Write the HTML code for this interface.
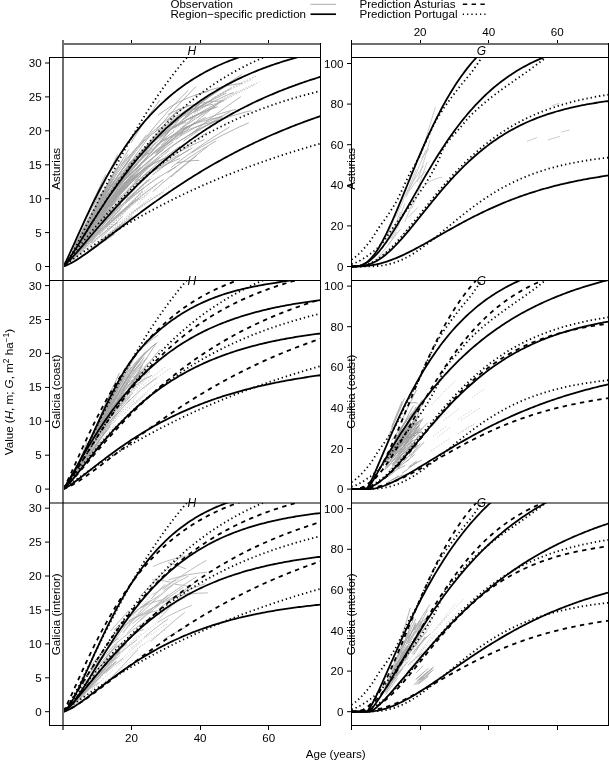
<!DOCTYPE html><html><head><meta charset="utf-8"><style>html,body{margin:0;padding:0;background:#fff;}svg{display:block;filter:grayscale(1);} text{font-family:"Liberation Sans",sans-serif;}</style></head><body>
<svg width="609" height="761" viewBox="0 0 609 761">
<rect width="609" height="761" fill="#fff"/>
<defs>
<clipPath id="cl0"><rect x="49.5" y="57.5" width="271.0" height="223.0"/></clipPath>
<clipPath id="cr0"><rect x="351.5" y="57.5" width="257.0" height="223.0"/></clipPath>
<clipPath id="cl1"><rect x="49.5" y="280.5" width="271.0" height="222.5"/></clipPath>
<clipPath id="cr1"><rect x="351.5" y="280.5" width="257.0" height="222.5"/></clipPath>
<clipPath id="cl2"><rect x="49.5" y="503.0" width="271.0" height="222.5"/></clipPath>
<clipPath id="cr2"><rect x="351.5" y="503.0" width="257.0" height="222.5"/></clipPath>
</defs>
<g clip-path="url(#cl0)"><path d="M183.4,129.3 188.2,126.8 193.0,124.4 197.7,122.2 202.5,120.2 207.3,118.3 212.1,116.5 216.8,114.8 221.6,113.3 226.4,111.9 231.1,110.6 235.9,109.4 M167.0,121.0 172.1,118.1 177.3,115.5 182.4,113.2 187.5,111.1 192.7,109.3 197.8,107.7 202.9,106.4 208.1,105.2 213.2,104.2 M93.9,210.8 98.1,204.3 102.3,198.1 106.5,192.4 110.7,187.1 114.9,182.2 M180.7,129.4 185.3,127.4 190.0,125.5 194.6,123.8 199.2,122.3 203.8,121.0 208.4,119.7 213.0,118.7 217.7,117.7 222.3,116.9 M84.0,239.9 88.9,233.2 93.8,226.6 98.8,220.2 103.7,213.9 108.6,207.9 113.5,202.0 118.5,196.3 123.4,190.9 128.3,185.6 133.2,180.6 138.2,175.7 M99.8,207.0 104.9,199.4 110.1,192.2 115.2,185.3 120.3,178.8 125.5,172.6 130.6,166.7 135.8,161.2 140.9,156.0 146.0,151.1 151.2,146.4 156.3,142.1 M108.8,190.3 113.5,182.8 118.2,175.4 122.9,168.3 127.6,161.3 132.2,154.4 136.9,147.8 141.6,141.3 146.3,135.0 M194.7,95.6 199.5,93.7 204.2,91.9 209.0,90.4 213.8,88.9 218.5,87.7 223.3,86.5 228.1,85.5 232.8,84.7 237.6,83.9 242.4,83.3 M161.0,145.1 165.9,140.9 170.8,136.9 175.7,133.0 180.6,129.2 185.5,125.6 190.4,122.2 195.3,118.9 200.2,115.7 205.1,112.6 210.0,109.6 214.9,106.8 M134.8,181.1 139.7,176.2 144.6,171.5 149.6,166.9 154.5,162.5 159.5,158.2 164.4,154.1 169.3,150.2 M180.4,123.0 185.1,120.4 189.8,118.0 194.5,115.8 199.1,113.7 203.8,111.8 208.5,110.0 213.2,108.3 217.9,106.8 M111.5,194.1 116.4,188.5 121.2,183.1 126.0,178.1 130.8,173.5 135.6,169.2 140.5,165.1 M193.8,112.7 198.7,109.7 203.7,106.8 208.7,104.1 213.6,101.5 218.6,99.0 223.6,96.7 228.5,94.4 233.5,92.3 M180.3,135.9 185.0,133.2 189.7,130.6 194.3,128.1 199.0,125.8 203.7,123.6 208.4,121.5 213.1,119.5 217.7,117.6 222.4,115.9 M74.0,254.5 78.8,248.4 83.6,242.2 88.3,235.8 93.1,229.4 97.9,223.1 102.6,216.8 107.4,210.6 M176.6,163.1 181.1,162.1 185.6,161.4 190.2,160.9 194.7,160.5 199.2,160.4 M82.1,241.0 86.8,234.1 91.5,227.4 96.3,220.8 101.0,214.4 105.8,208.1 110.5,202.1 115.2,196.2 120.0,190.6 124.7,185.1 129.5,179.9 134.2,174.8 M85.1,236.3 89.4,229.9 93.7,223.5 98.1,217.3 102.4,211.1 106.7,205.1 M79.6,241.4 84.2,234.1 88.7,226.8 93.2,219.7 97.8,212.7 102.3,206.0 106.8,199.5 111.4,193.2 115.9,187.1 M135.6,170.8 140.3,165.0 145.0,159.3 149.7,153.7 154.4,148.3 159.1,142.9 163.8,137.6 168.5,132.4 M141.4,171.3 146.1,168.2 150.8,165.3 155.5,162.6 160.2,160.3 164.9,158.1 169.6,156.2 M108.1,206.4 112.8,200.7 117.4,195.2 122.1,189.9 126.7,184.8 131.3,179.9 M87.3,231.9 92.1,224.8 97.0,217.9 101.9,211.3 106.7,204.9 111.6,198.7 116.4,192.8 121.3,187.2 126.2,181.8 131.0,176.7 135.9,171.8 140.8,167.1 M114.2,194.0 118.6,187.1 123.0,180.2 127.4,173.2 131.8,166.3 136.2,159.3 M110.2,195.8 114.6,189.9 118.9,184.2 123.3,178.7 127.7,173.4 132.1,168.2 136.4,163.3 M135.0,166.6 139.9,161.4 144.7,156.5 149.6,151.8 154.5,147.3 159.3,143.0 164.2,138.9 169.1,135.0 173.9,131.2 M118.8,203.9 123.4,198.0 128.0,192.0 132.5,186.0 137.1,180.0 141.7,173.9 M81.5,240.7 86.2,234.1 90.8,227.7 95.4,221.6 100.1,215.8 104.7,210.2 109.4,205.0 M129.6,176.0 134.2,170.7 138.9,165.5 143.5,160.4 148.1,155.5 152.7,150.8 157.3,146.2 161.9,141.7 166.5,137.4 M124.4,180.6 129.2,175.4 134.1,170.4 138.9,165.7 143.8,161.2 148.6,156.9 153.5,152.9 158.4,149.1 163.2,145.6 168.1,142.2 172.9,139.0 177.8,136.0 182.6,133.1 M85.6,231.7 90.3,224.3 95.0,217.1 99.7,210.2 104.4,203.5 109.1,197.1 113.9,191.0 118.6,185.1 123.3,179.5 128.0,174.2 132.7,169.1 137.4,164.3 M144.8,175.4 149.7,171.5 154.7,167.7 159.7,164.2 164.7,160.8 169.6,157.6 174.6,154.6 179.6,151.7 184.6,149.0 189.5,146.4 194.5,144.0 199.5,141.8 204.5,139.6 M156.1,152.9 160.7,148.2 165.4,143.5 170.1,139.0 174.8,134.6 179.5,130.2 184.1,126.0 188.8,121.9 193.5,117.8 198.2,113.8 M88.4,223.8 93.1,215.6 97.9,207.5 102.6,199.7 107.3,192.1 112.0,184.8 116.8,177.6 121.5,170.7 126.2,164.1 131.0,157.6 135.7,151.4 140.4,145.4 145.1,139.6 M109.3,207.2 114.3,201.3 119.3,195.7 124.2,190.2 129.2,185.0 134.2,180.0 139.2,175.1 144.1,170.5 149.1,166.1 M135.6,184.9 140.5,180.8 145.3,176.9 150.1,173.2 155.0,169.7 159.8,166.3 164.7,163.1 169.5,160.1 174.3,157.2 179.2,154.5 M191.6,152.9 196.3,149.9 201.1,147.0 205.9,144.3 210.6,141.6 215.4,139.0 220.2,136.4 224.9,134.0 229.7,131.6 234.5,129.3 239.2,127.0 244.0,124.9 248.7,122.8 M131.0,142.7 135.8,135.1 140.6,127.7 145.4,120.5 150.2,113.5 155.0,106.8 159.8,100.2 M93.7,216.0 98.4,208.5 103.1,201.2 107.8,194.3 112.5,187.6 117.2,181.2 121.9,175.0 126.6,169.1 131.4,163.5 136.1,158.1 140.8,153.0 M163.8,132.7 168.8,128.1 173.8,123.7 178.8,119.5 183.7,115.4 188.7,111.4 193.7,107.6 198.7,103.9 203.7,100.4 208.6,96.9 213.6,93.6 M123.3,167.4 127.7,163.9 132.1,160.9 136.5,158.3 140.9,156.1 145.3,154.4 149.7,153.0 M85.4,231.6 90.4,223.5 95.4,215.5 100.4,207.8 105.4,200.3 110.5,193.1 115.5,186.2 120.5,179.5 125.5,173.1 M182.8,119.5 187.6,115.9 192.4,112.4 197.2,109.0 202.1,105.7 206.9,102.6 211.7,99.5 216.5,96.6 221.3,93.7 226.1,91.0 230.9,88.4 M140.2,144.8 145.0,138.6 149.8,132.6 154.6,126.7 159.4,121.1 164.2,115.6 169.0,110.2 173.8,105.0 178.6,100.0 183.4,95.1 188.2,90.4 M77.8,250.0 82.1,244.3 86.4,238.6 90.8,232.8 95.1,227.0 99.4,221.2 103.8,215.5 M73.3,254.5 78.1,248.2 82.9,241.9 87.7,235.7 92.5,229.8 97.3,224.1 102.2,218.6 107.0,213.5 111.8,208.6 116.6,204.0 121.4,199.7 126.2,195.6 M131.5,181.5 136.6,175.9 141.6,170.4 146.7,165.0 151.7,159.7 156.7,154.6 161.8,149.6 166.8,144.7 171.9,140.0 176.9,135.3 181.9,130.8 187.0,126.4 M152.8,174.9 157.3,171.3 161.9,167.9 166.5,164.5 171.0,161.3 175.6,158.2 180.2,155.3 184.7,152.4 189.3,149.6 M77.7,248.1 82.7,241.3 87.6,234.6 92.5,228.0 97.5,221.6 102.4,215.3 107.3,209.3 M125.6,169.6 130.4,162.7 135.1,156.0 139.8,149.3 144.6,142.9 149.3,136.5 M107.9,205.0 112.6,199.4 117.3,194.1 122.1,189.1 126.8,184.3 131.5,179.8 136.2,175.5 140.9,171.4 145.6,167.6 150.3,164.0 155.1,160.6 159.8,157.4 M145.3,147.8 150.1,141.8 154.9,135.9 159.8,130.1 164.6,124.5 169.5,119.0 174.3,113.7 179.2,108.4 M170.8,177.1 175.1,173.5 179.5,169.8 183.8,166.2 188.2,162.6 192.6,159.0 196.9,155.4 M170.9,167.7 175.8,163.9 180.7,160.2 185.6,156.6 190.4,153.0 195.3,149.5 200.2,146.1 205.1,142.7 210.0,139.5 214.9,136.2 219.8,133.1 224.6,130.0 229.5,127.0 M83.1,244.3 88.2,237.7 93.2,231.0 98.2,224.1 103.2,217.2 108.2,210.3 113.3,203.3 118.3,196.3 M147.4,136.8 152.0,132.4 156.6,128.3 161.2,124.4 165.8,120.7 170.4,117.2 175.0,113.9 179.7,110.8 184.3,107.9 188.9,105.2 M161.3,167.6 165.7,164.5 170.2,161.5 174.6,158.5 179.1,155.7 183.5,153.0 188.0,150.4 192.4,147.9 M138.9,174.0 143.8,169.4 148.7,165.0 153.6,160.8 158.6,156.7 163.5,152.8 168.4,149.1 173.3,145.5 178.3,142.1 183.2,138.9 188.1,135.8 193.0,132.8 198.0,129.9 M77.0,252.4 81.9,246.7 86.7,241.1 91.6,235.4 96.5,229.9 101.4,224.5 106.3,219.2 111.2,214.0 116.1,209.0 121.0,204.2 M118.5,187.1 123.5,181.5 128.4,176.2 133.4,171.2 138.3,166.5 143.3,162.0 148.2,157.8 153.2,153.9 158.1,150.2 163.1,146.7 168.0,143.5 173.0,140.4 177.9,137.6 M92.4,227.3 96.9,221.2 101.5,215.3 106.1,209.6 110.7,204.1 115.2,198.8 119.8,193.7 124.4,188.7 M143.7,151.9 148.1,146.7 152.5,141.6 156.9,136.7 161.2,131.8 165.6,127.1 M78.0,242.8 83.0,234.2 88.0,225.8 93.1,217.6 98.1,209.7 103.2,202.2 108.2,195.0 113.2,188.2 118.3,181.7 123.3,175.5 128.4,169.7 133.4,164.2 138.4,159.0 M74.8,250.4 79.6,243.2 84.4,236.0 89.2,228.9 94.0,222.1 98.8,215.5 103.6,209.2 108.4,203.1 113.2,197.3 118.0,191.8 M183.5,141.1 188.2,137.8 192.8,134.5 197.5,131.3 202.2,128.3 206.9,125.3 211.5,122.4 216.2,119.6 220.9,116.9 225.6,114.2 230.2,111.6 M167.5,172.8 172.4,169.3 177.2,165.8 182.0,162.4 186.9,159.1 191.7,155.9 196.6,152.8 201.4,149.7 206.3,146.8 211.1,143.9 215.9,141.0 M152.0,153.8 156.9,149.6 161.8,145.6 166.7,141.8 171.6,138.1 176.5,134.7 181.4,131.4 186.4,128.2 191.3,125.2 196.2,122.4 201.1,119.7 206.0,117.1 M154.9,132.2 159.4,126.6 164.0,121.2 168.6,115.9 173.2,110.7 177.8,105.6 182.4,100.7 187.0,95.8 191.5,91.1 196.1,86.5 M125.3,183.3 130.1,178.3 134.9,173.5 139.7,168.9 144.5,164.6 149.3,160.5 154.2,156.7 159.0,153.0 163.8,149.5 M88.3,222.3 93.3,213.1 98.3,204.0 103.3,195.1 108.3,186.5 113.3,178.0 118.3,169.8 123.3,161.8 128.2,154.1 M99.2,214.8 104.0,207.9 108.8,201.1 113.5,194.5 118.3,188.0 123.1,181.7 127.8,175.5 132.6,169.4 137.3,163.5 142.1,157.8 146.9,152.2 M76.1,245.6 81.0,236.9 85.9,228.2 90.7,219.6 95.6,211.2 100.5,203.1 105.4,195.1 110.3,187.5 115.2,180.0 120.1,172.9 125.0,166.0 129.9,159.3 M89.1,223.3 94.3,214.8 99.4,206.6 104.5,198.8 109.6,191.3 114.7,184.1 119.9,177.2 125.0,170.6 130.1,164.4 135.2,158.5 140.4,152.9 145.5,147.5 M136.2,157.4 140.9,151.8 145.7,146.5 150.4,141.3 155.1,136.3 159.9,131.5 164.6,126.8 169.4,122.4 174.1,118.1 M111.0,194.8 115.6,188.7 120.2,182.8 124.8,177.2 129.4,171.8 134.0,166.6 138.6,161.6 143.2,156.8 147.8,152.2 152.4,147.8 M121.0,165.7 126.0,159.5 131.0,153.8 136.0,148.6 141.0,143.7 146.0,139.2 151.0,135.0 156.0,131.2 161.0,127.7 166.0,124.5 M80.7,242.3 85.6,235.1 90.5,228.1 95.3,221.3 100.2,214.7 105.1,208.3 109.9,202.1 114.8,196.2 119.7,190.5 124.5,185.1 M179.6,133.8 184.6,131.5 189.6,129.3 194.5,127.4 199.5,125.7 204.5,124.1 209.5,122.7 214.5,121.5 219.5,120.4 M77.5,241.0 82.6,231.0 87.7,221.2 92.9,211.5 98.0,202.1 103.1,192.9 108.3,184.1 113.4,175.5 118.5,167.2 M108.3,201.2 113.3,195.5 118.3,190.3 123.3,185.4 128.3,180.9 133.4,176.8 138.4,173.0 143.4,169.6 148.4,166.5 153.4,163.7 158.4,161.2 163.4,159.0 168.4,157.0 M159.6,137.9 164.6,134.1 169.7,130.5 174.8,127.1 179.9,124.0 184.9,121.0 190.0,118.3 195.1,115.7 200.2,113.3 205.2,111.1 210.3,109.0 215.4,107.1 M102.6,206.3 107.6,199.3 112.6,192.6 117.6,186.1 122.6,179.9 127.6,174.0 132.6,168.3 137.5,163.0 142.5,157.8 147.5,152.9 M119.7,175.2 124.5,169.4 129.2,163.9 133.9,158.7 138.7,153.9 143.4,149.3 148.1,144.9 152.9,140.9 157.6,137.1 162.3,133.5 167.1,130.2 171.8,127.0 176.5,124.1 M194.1,110.4 198.7,107.6 203.3,104.9 207.9,102.4 212.5,99.9 217.1,97.6 221.7,95.3 226.3,93.2 M100.1,213.9 104.4,208.0 108.7,202.2 113.0,196.6 117.3,191.2 121.6,186.0 125.9,180.9 M123.7,173.3 128.8,166.8 133.9,160.5 139.0,154.5 144.1,148.8 149.2,143.2 154.3,138.0 159.4,132.9 164.5,128.1 169.6,123.4 174.7,119.0 179.9,114.7 185.0,110.6 M189.7,119.3 194.2,116.4 198.6,113.7 203.0,111.1 207.5,108.7 211.9,106.3 216.4,104.0 220.8,101.8 M174.6,127.9 179.7,122.8 184.7,117.8 189.8,113.0 194.8,108.2 199.9,103.5 204.9,98.9 210.0,94.4 M102.9,193.6 107.2,185.8 111.5,178.2 115.8,170.8 120.1,163.5 124.4,156.4 128.7,149.5 M125.3,203.1 130.4,198.7 135.5,194.5 140.6,190.4 145.7,186.5 150.8,182.8 155.8,179.3 160.9,175.9 166.0,172.7 171.1,169.7 176.2,166.8 M189.9,134.9 195.0,130.8 200.1,126.7 205.1,122.7 210.2,118.7 215.3,114.9 220.4,111.1 225.5,107.4 230.6,103.8 235.7,100.2 240.8,96.7 M155.2,154.4 160.2,149.9 165.2,145.5 170.2,141.3 175.1,137.2 180.1,133.3 185.1,129.5 190.1,125.8 195.0,122.2 M141.2,158.1 146.0,153.0 150.9,148.1 155.7,143.4 160.5,138.9 165.3,134.5 170.1,130.3 174.9,126.3 179.7,122.4 184.5,118.7 189.3,115.1 194.1,111.7 199.0,108.4 M150.3,153.9 155.1,148.0 159.9,142.2 164.7,136.5 169.5,130.9 174.3,125.4 179.1,119.9 M141.0,179.3 145.8,175.9 150.7,172.8 155.6,169.9 160.5,167.2 165.3,164.8 170.2,162.5 175.1,160.5 179.9,158.6 M163.8,140.9 168.3,137.9 172.8,135.1 177.3,132.4 181.7,129.9 186.2,127.5 190.7,125.3 195.2,123.2 M105.1,214.0 110.1,208.2 115.2,202.6 120.2,197.3 125.3,192.2 130.4,187.3 135.4,182.7 140.5,178.3 145.6,174.1 150.6,170.2 M81.9,248.7 86.6,243.7 91.4,238.8 96.2,234.0 101.0,229.4 105.7,224.9 110.5,220.6 115.3,216.5 120.1,212.6 124.8,208.8 129.6,205.2 134.4,201.8 139.2,198.5 M160.0,135.8 164.3,133.0 168.7,130.4 173.0,128.1 177.4,125.9 181.7,123.9 186.1,122.1 M108.1,206.7 113.2,200.7 118.4,195.0 123.5,189.5 128.6,184.4 133.8,179.5 138.9,174.8 144.1,170.5 149.2,166.3 154.3,162.4 M112.1,186.9 117.2,180.1 122.4,173.7 127.5,167.7 132.6,162.0 137.7,156.7 142.9,151.7 148.0,147.0 153.1,142.7 158.2,138.6 163.4,134.8 M152.6,191.7 157.6,187.4 162.6,183.1 167.6,178.9 172.5,174.7 177.5,170.6 182.5,166.5 187.5,162.5 192.4,158.5 197.4,154.5 202.4,150.6 207.4,146.7 M125.8,200.2 130.7,195.7 135.5,191.3 140.4,187.1 145.3,183.1 150.2,179.2 M106.0,224.1 110.6,219.1 115.2,214.1 119.8,209.2 124.4,204.2 129.0,199.3 133.6,194.4 138.2,189.6 142.8,184.8 147.4,180.1 M88.6,224.3 93.6,215.1 98.6,206.0 103.5,196.9 108.5,187.8 113.5,178.8 M75.1,251.2 80.0,244.1 85.0,237.1 89.9,230.2 94.9,223.5 99.8,217.0 104.8,210.7 109.7,204.7 114.7,199.0 119.6,193.4 124.6,188.2 129.5,183.1 134.5,178.3 M77.1,250.3 82.2,243.9 87.4,237.6 92.5,231.6 97.6,225.8 102.7,220.4 107.8,215.2 113.0,210.4 118.1,205.8 M99.0,202.4 103.7,194.5 108.4,186.9 113.2,179.5 117.9,172.5 122.7,165.7 127.4,159.3 132.2,153.1 136.9,147.2 M161.3,153.9 166.5,150.0 171.6,146.3 176.7,142.8 181.8,139.5 187.0,136.3 192.1,133.2 197.2,130.3 202.3,127.6 207.4,124.9 212.6,122.4 217.7,120.0 222.8,117.8 M142.0,151.7 147.1,147.0 152.2,142.6 157.4,138.4 162.5,134.6 167.6,131.0 172.7,127.7 177.8,124.6 182.9,121.8 188.0,119.1 193.1,116.7 198.3,114.4 203.4,112.3 M92.7,229.1 97.3,222.5 102.0,215.9 106.6,209.3 111.2,202.7 115.9,196.1 M169.3,126.0 174.1,122.4 178.8,119.1 183.5,115.8 188.3,112.8 193.0,109.9 197.7,107.2 202.5,104.6 207.2,102.1 211.9,99.8 M167.9,114.5 173.0,112.0 178.1,109.7 183.2,107.8 188.3,106.1 193.4,104.7 198.5,103.6 203.6,102.7 208.7,101.9 213.8,101.4 218.9,101.1 224.0,100.9 M194.7,107.4 199.8,103.7 204.8,100.1 209.9,96.6 214.9,93.3 220.0,90.0 225.1,86.9 230.1,83.9 235.2,80.9 240.2,78.1 245.3,75.3 M176.7,139.1 181.3,134.9 186.0,130.7 190.6,126.5 195.3,122.5 199.9,118.5 204.6,114.6 209.2,110.8 213.9,107.0 218.5,103.3 223.2,99.6 M103.5,207.4 108.0,202.1 112.5,197.2 117.0,192.6 121.5,188.4 126.1,184.5 130.6,180.9 135.1,177.6 139.6,174.7 M156.2,145.0 160.7,142.2 165.2,139.6 169.7,137.2 174.2,135.0 178.7,133.1 183.2,131.3 M82.0,238.0 86.7,230.8 91.4,223.8 96.1,217.2 100.8,210.8 105.5,204.7 110.2,199.0 114.9,193.6 119.6,188.5 124.3,183.7 129.0,179.2 M158.2,115.0 163.2,111.4 168.2,108.1 173.3,105.1 178.3,102.4 183.3,100.0 188.4,97.8 193.4,95.8 198.4,94.1 203.5,92.6 208.5,91.4 M89.0,228.9 93.2,222.2 97.4,215.5 101.6,208.9 105.9,202.3 110.1,195.7 M114.0,185.8 119.2,179.2 124.3,173.0 129.4,167.1 134.6,161.6 139.7,156.4 144.8,151.5 150.0,146.9 M118.0,193.2 123.1,187.4 128.1,181.9 133.1,176.6 138.1,171.6 143.1,166.7 148.1,162.1 153.2,157.6 158.2,153.4 163.2,149.4 168.2,145.5 173.2,141.8 M89.0,230.3 94.1,223.3 99.1,216.5 104.2,210.0 109.3,203.8 114.3,197.9 119.4,192.4 124.5,187.1 129.5,182.1 134.6,177.3 139.7,172.9 M99.2,211.9 103.7,206.6 108.2,201.7 112.7,197.2 117.2,193.2 121.7,189.5 126.2,186.3 130.7,183.4 M195.5,130.6 200.6,128.1 205.7,125.8 210.7,123.7 215.8,121.6 220.8,119.7 225.9,118.0 231.0,116.3 236.0,114.7 241.1,113.3 246.1,111.9 251.2,110.7 M182.4,149.3 187.4,145.7 192.3,142.3 197.3,139.0 202.3,135.7 207.2,132.6 M76.7,249.1 81.7,241.9 86.7,234.8 91.7,227.9 96.7,221.0 101.7,214.4 106.7,208.0 111.8,201.8 116.8,195.8 121.8,190.1 126.8,184.5 131.8,179.2 136.8,174.2 M105.8,227.3 110.6,222.8 115.4,218.3 120.2,214.0 125.0,209.7 129.8,205.6 134.6,201.5 139.5,197.6 144.3,193.8 149.1,190.0 153.9,186.4 158.7,182.9 163.5,179.5 M119.2,200.1 124.2,194.7 129.3,189.5 134.3,184.4 139.4,179.6 144.4,174.9 149.5,170.4 154.5,166.0 159.6,161.8 164.6,157.7 169.7,153.8 174.7,150.1 179.8,146.4 M184.6,116.8 189.3,112.7 194.1,108.7 198.8,104.9 203.6,101.2 208.4,97.5 213.1,94.0 217.9,90.5 222.6,87.2 227.4,83.9 232.1,80.7 236.9,77.5 241.7,74.5" fill="none" stroke="#a0a0a0" stroke-width="0.8"/></g>
<g clip-path="url(#cl0)"><path d="M103.1,207.6 107.9,201.4 112.8,195.5 117.7,190.0 122.6,184.8 127.5,179.9 132.4,175.3 137.3,171.0 142.2,167.0 M75.7,260.1 80.4,256.8 85.2,253.4 89.9,249.9 94.7,246.2 99.5,242.5 104.2,238.7 109.0,234.9 113.7,231.1 118.5,227.3 M85.3,254.1 90.4,250.4 95.5,246.5 100.6,242.5 105.8,238.4 110.9,234.2 116.0,230.0 121.1,225.7 M92.6,233.0 97.3,227.5 102.0,222.1 106.8,216.8 111.5,211.7 116.3,206.8 121.0,202.0 125.8,197.4 130.5,192.9 135.2,188.6 M73.2,254.1 77.8,247.5 82.3,240.7 86.9,233.7 91.5,226.6 96.0,219.5 100.6,212.4 M80.9,249.2 85.8,243.7 90.7,238.2 95.6,232.6 100.5,227.2 105.4,221.7 110.3,216.4 115.2,211.1 M67.5,261.1 72.3,254.4 77.1,247.4 81.8,240.4 86.6,233.6 91.4,227.1 96.2,220.9 100.9,215.0 M101.0,240.8 105.8,236.9 110.6,232.9 115.4,228.9 120.2,224.9 M75.6,253.3 80.2,247.5 84.8,241.6 89.4,235.5 94.0,229.4 98.6,223.3 103.2,217.1 107.8,211.0 M93.9,224.6 98.4,218.4 103.0,212.3 107.6,206.5 112.2,200.8 116.8,195.4 121.4,190.1 126.0,185.0 130.6,180.2 M69.8,262.2 74.8,258.0 79.9,253.3 84.9,248.3 90.0,243.1 95.1,237.7 100.1,232.3 105.2,226.7 110.2,221.0 M73.2,249.7 77.6,241.6 82.1,233.4 86.5,225.4 90.9,217.6 95.3,210.1 M100.0,214.9 104.4,209.1 108.8,203.6 113.2,198.2 117.6,193.1 122.0,188.1 126.4,183.4 130.8,178.9 M73.5,252.8 78.0,246.1 82.5,239.3 87.1,232.6 91.6,225.9 96.1,219.4 M72.8,253.9 77.6,246.8 82.4,239.8 87.3,232.9 92.1,226.3 96.9,219.8 101.7,213.7 106.6,207.8 111.4,202.2 116.2,196.9 M72.0,251.1 76.6,242.3 81.2,233.5 85.8,224.8 90.4,216.3 94.9,208.1 99.5,200.2 104.1,192.5 108.7,185.2 113.3,178.2 M88.2,237.4 92.9,231.7 97.6,226.3 102.3,220.9 107.0,215.8 111.6,210.8 116.3,206.1 M84.4,232.0 89.1,224.5 93.8,217.3 98.6,210.5 103.3,204.0 108.0,198.0 M73.3,251.6 77.9,244.0 82.4,236.3 87.0,228.6 91.6,220.9 96.1,213.4 M90.9,243.2 95.4,239.4 99.9,235.7 104.4,232.2 108.8,228.8 113.3,225.6 117.8,222.6 M90.5,229.3 95.5,222.1 100.4,215.1 105.4,208.2 110.4,201.4 115.4,194.7 120.3,188.3 125.3,182.0 130.3,175.8 M79.6,258.0 84.3,254.8 89.0,251.4 93.7,248.0 98.4,244.4 103.1,240.8 M97.0,231.6 101.7,226.4 106.3,221.3 111.0,216.3 115.7,211.4 120.3,206.5 125.0,201.8 129.6,197.1 134.3,192.5 M69.0,258.0 73.8,250.3 78.5,242.3 83.3,234.5 88.1,226.8 92.8,219.5 97.6,212.4 102.4,205.7 M97.4,244.6 102.4,240.6 107.4,236.6 112.4,232.5 117.4,228.4 122.4,224.3 127.4,220.1 132.4,216.0 M71.1,263.1 76.0,260.3 80.8,257.3 85.7,254.1 90.5,250.8 95.4,247.5 100.2,244.1 105.0,240.8 109.9,237.5 114.7,234.2 M91.9,226.6 96.4,220.5 100.8,214.5 105.3,208.7 109.8,203.1 114.3,197.8 118.8,192.6 M103.6,210.1 108.6,203.4 113.5,197.0 118.5,190.7 123.5,184.6 128.5,178.8 133.5,173.1 138.4,167.6 143.4,162.3 148.4,157.2 M103.9,221.7 108.9,216.6 114.0,211.8 119.0,207.2 124.0,202.9 129.1,198.7 134.1,194.9 139.2,191.2 144.2,187.8 M100.8,237.7 105.2,233.5 109.6,229.3 114.0,225.0 118.4,220.7 122.7,216.3 M100.1,197.9 104.5,190.0 108.9,182.4 113.4,174.9 117.8,167.7 122.2,160.7 M77.0,237.6 82.1,226.4 87.2,215.4 92.4,204.9 97.5,194.8 102.6,185.3 107.7,176.3 112.9,167.7 118.0,159.7 M70.8,255.0 75.3,247.3 79.9,239.6 84.5,231.9 89.1,224.5 93.6,217.3 98.2,210.4 102.8,203.8 M83.3,236.9 88.0,230.2 92.6,223.8 97.3,217.9 102.0,212.3 106.6,207.1 111.3,202.3 M87.8,229.6 92.6,222.8 97.4,216.3 102.2,210.1 107.0,204.3 111.8,198.9 M75.0,256.1 80.1,250.8 85.2,245.4 90.4,239.9 95.5,234.6 100.7,229.2 105.8,224.0 111.0,218.9 116.1,213.9 121.2,209.1 M98.1,224.5 103.0,217.7 107.9,210.8 112.8,203.9 117.7,196.9 M93.8,214.8 98.9,206.8 103.9,199.3 108.9,192.1 113.9,185.3 119.0,178.8 124.0,172.7 129.0,167.0 134.1,161.6 M96.3,205.5 101.4,195.9 106.4,186.3 111.4,177.0 116.4,167.7 M77.4,242.5 82.3,233.7 87.1,225.1 91.9,216.7 96.8,208.6 101.6,200.7 106.5,193.1 111.3,185.9 116.1,178.9 121.0,172.3 M93.6,205.7 98.4,195.3 103.2,185.0 108.0,174.7 112.8,164.5 117.6,154.4 M74.5,247.4 79.4,238.8 84.3,230.4 89.2,222.5 94.1,215.1 M94.5,225.3 99.3,219.1 104.1,213.1 108.9,207.4 113.7,201.8 118.5,196.5 123.3,191.4 128.1,186.5 M66.6,262.0 71.0,255.5 75.4,248.7 79.8,242.1 84.1,235.7 M90.4,241.7 95.5,236.7 100.5,231.7 105.6,226.8 110.7,222.0 115.8,217.3 120.9,212.7 126.0,208.2 131.1,203.9 136.1,199.6 M81.9,243.6 86.2,237.9 90.5,232.4 94.7,226.9 99.0,221.6 103.3,216.4 M69.2,258.8 73.6,252.2 78.0,245.2 82.5,238.2 86.9,231.1 M100.0,212.3 104.8,205.3 109.5,198.5 114.3,191.9 119.1,185.4 123.8,179.1 128.6,173.0 133.3,167.0 138.1,161.2 142.9,155.6 147.6,150.1 M97.7,203.7 102.0,197.4 106.4,191.5 110.8,186.1 115.2,181.1 119.5,176.6 M80.4,229.8 85.5,218.3 90.5,207.0 95.6,195.9 100.6,185.0 105.7,174.4 M78.7,243.2 83.6,235.2 88.5,227.4 93.4,219.7 98.3,212.3 103.2,205.1 108.1,198.1 113.0,191.4 117.9,185.0 122.8,178.8 M89.7,233.0 94.0,227.5 98.3,222.3 102.5,217.1 106.8,212.2 111.1,207.4 M91.1,216.5 95.6,209.8 100.0,203.5 104.4,197.8 108.8,192.6 113.2,187.8 M98.1,224.0 103.0,218.3 108.0,212.8 112.9,207.6 117.9,202.6 122.8,197.9 127.8,193.4 M93.8,221.5 98.6,214.8 103.5,208.3 108.3,202.2 113.1,196.3 117.9,190.8 122.8,185.5 127.6,180.5 132.4,175.8 M96.3,217.9 101.0,211.2 105.7,204.6 110.4,198.3 115.2,192.1 119.9,186.2 124.6,180.5 129.3,175.0 134.0,169.7 M72.9,258.5 77.9,253.5 83.0,248.3 88.0,243.1 93.1,237.9 98.1,232.7 103.2,227.5 M74.2,243.6 79.0,233.4 83.8,223.6 88.6,214.4 93.4,205.8 98.2,197.8 103.0,190.5 M100.2,222.2 105.2,216.7 110.1,211.4 115.0,206.4 120.0,201.7 124.9,197.2 M103.7,220.2 108.2,215.0 112.8,210.0 117.4,205.1 122.0,200.4 126.6,195.8 131.1,191.4 135.7,187.0 140.3,182.8 M81.2,242.6 86.0,235.5 90.9,228.3 95.8,221.2 100.6,214.2 105.5,207.3 110.3,200.5 115.2,193.8 120.1,187.3 M99.1,234.7 104.0,229.8 108.8,224.9 113.6,220.0 118.5,215.1 123.3,210.2 128.2,205.4 133.0,200.6 137.8,195.8 142.7,191.0 M88.8,220.7 93.4,212.8 97.9,205.1 102.5,197.8 107.1,190.7 111.7,184.0 116.3,177.6 120.8,171.5 125.4,165.8 M82.4,239.3 87.3,232.1 92.2,225.0 97.2,218.2 102.1,211.6 107.0,205.4 112.0,199.4 116.9,193.7 M74.8,244.9 79.5,235.6 84.2,226.4 88.9,217.3 93.6,208.6 98.3,200.1 102.9,191.9 107.6,184.1 112.3,176.6 M96.5,221.2 101.5,214.7 106.6,208.4 111.7,202.4 116.8,196.7 121.9,191.3 127.0,186.2 132.1,181.3 137.1,176.7 M101.5,216.0 106.3,210.1 111.1,204.3 115.9,198.8 120.6,193.4 125.4,188.3 M70.1,260.7 75.2,255.5 80.3,250.0 85.4,244.4 90.5,238.7 95.7,233.1 100.8,227.4 105.9,221.9 M72.9,258.3 77.2,253.8 81.5,249.1 85.8,244.2 90.1,239.2 M74.6,253.6 79.3,247.6 84.0,241.4 88.7,235.3 93.4,229.2 98.1,223.2 102.8,217.4 107.4,211.6 112.1,205.9 116.8,200.4 121.5,195.1" fill="none" stroke="#a4a4a4" stroke-width="0.8"/></g>
<g clip-path="url(#cl0)"><path d="M69.3,261.5 73.8,256.9 78.3,251.9 82.8,246.6 87.3,241.2 91.8,235.7 96.2,230.1 100.7,224.5 M136.9,210.7 141.5,207.1 146.1,203.6 150.7,200.1 155.3,196.6 159.9,193.3 164.5,189.9 169.1,186.7 173.7,183.4 M67.0,264.1 71.9,259.9 76.9,255.2 81.8,250.2 86.8,245.0 M108.7,227.2 113.6,222.1 118.4,216.9 123.3,211.7 128.2,206.4 133.1,201.1 138.0,195.8 142.9,190.4 M89.3,238.6 94.0,233.0 98.6,227.4 103.3,221.8 107.9,216.2 112.6,210.7 117.2,205.2 121.9,199.9 126.5,194.5 M98.5,242.2 103.4,238.1 108.3,233.9 113.2,229.8 118.1,225.6 123.0,221.4 127.9,217.2 132.7,212.9 M87.9,250.9 92.5,247.3 97.2,243.7 101.8,240.1 106.5,236.6 111.1,233.0 115.8,229.5 120.4,226.0 125.0,222.6 M131.9,181.7 136.6,177.0 141.4,172.5 146.1,168.1 150.8,164.0 M99.9,240.2 104.5,236.7 109.1,233.2 113.6,229.7 118.2,226.4 122.8,223.1 M123.4,209.6 128.1,205.7 132.7,201.9 137.4,198.3 142.0,194.8 146.7,191.5 151.3,188.3 155.9,185.2 M132.5,212.7 136.9,209.4 141.3,206.3 145.8,203.2 150.2,200.3 154.6,197.4 159.1,194.6 163.5,191.9 M121.2,214.1 126.0,209.9 130.9,205.8 135.8,201.8 140.7,197.9 M117.9,228.6 122.2,225.5 126.5,222.6 130.9,219.7 135.2,216.8 M78.0,253.3 82.7,248.5 87.4,243.7 92.2,238.9 96.9,234.3 101.6,229.7 M127.3,198.9 131.7,194.9 136.1,191.0 140.5,187.4 144.9,183.8 149.3,180.4 153.7,177.2 M104.5,220.0 109.5,213.5 114.6,207.0 119.7,200.5 124.7,194.0 129.8,187.5 134.9,181.0 139.9,174.6 145.0,168.2 M109.0,224.8 113.9,220.3 118.9,216.0 123.8,211.9 128.7,207.8 133.7,203.9 138.6,200.2 143.5,196.6 148.4,193.2 M66.9,263.8 71.5,259.7 76.1,255.0 80.6,250.0 85.2,244.8 89.7,239.5 94.3,234.1 M73.7,259.0 78.3,255.1 82.9,251.2 87.5,247.2 92.2,243.3 96.8,239.5 M127.0,198.1 131.5,191.0 136.1,183.7 140.7,176.3 145.3,168.7 M74.7,258.8 79.6,254.7 84.5,250.5 89.4,246.1 94.3,241.8 99.2,237.4 104.1,233.0 109.0,228.7 113.9,224.5 M137.9,189.9 142.7,185.0 147.5,180.2 152.3,175.5 157.1,170.8 161.9,166.3 166.6,161.8 171.4,157.4 M88.3,238.0 92.9,232.1 97.5,226.2 102.1,220.3 106.6,214.5 M129.1,214.8 133.9,211.4 138.6,208.0 143.4,204.8 148.2,201.7 152.9,198.7 157.7,195.8 162.5,193.0 M71.6,260.4 76.2,256.3 80.8,251.9 85.4,247.4 90.0,242.7 94.6,238.0 99.2,233.3 103.8,228.6 108.3,223.9 M97.4,232.2 102.0,228.1 106.5,224.2 111.1,220.7 115.6,217.4 M137.5,204.5 142.5,199.2 147.5,193.8 152.5,188.4 157.5,182.9 M94.4,241.8 99.0,237.4 103.6,233.0 108.2,228.6 112.7,224.1 117.3,219.6 121.9,215.1 126.5,210.6 131.1,206.1 M107.0,229.0 112.0,224.0 117.0,219.0 122.0,213.9 126.9,208.8 131.9,203.7 M100.2,222.5 105.1,215.6 110.0,208.7 115.0,201.8 119.9,194.8 124.8,187.9 129.8,180.9 134.7,174.0 M112.6,228.2 117.5,224.1 122.3,220.1 127.2,216.2 132.0,212.3 136.8,208.4 141.7,204.7 146.5,201.0 151.4,197.4 M86.2,242.1 90.5,237.3 94.9,232.6 99.3,228.2 103.7,223.9 108.0,219.9 112.4,216.1 M86.3,244.7 91.2,239.2 96.1,233.6 101.0,228.0 106.0,222.3 110.9,216.6 115.8,210.9 M94.1,236.7 99.3,231.6 104.4,226.7 109.5,221.9 114.7,217.3 119.8,212.9 125.0,208.7 130.1,204.7 M108.7,223.6 113.8,218.6 118.9,213.7 124.0,208.9 129.1,204.3 134.3,199.8 139.4,195.4 144.5,191.1 149.6,186.9 M87.0,252.8 91.6,249.4 96.1,245.9 100.6,242.4 105.1,238.7 109.7,235.1 M119.5,225.5 124.2,221.3 128.8,217.2 133.5,212.9 138.1,208.7 142.8,204.5 M129.2,200.5 134.3,196.0 139.4,191.6 144.5,187.3 149.6,183.2 154.7,179.3 159.8,175.5 M75.0,256.9 79.7,252.4 84.3,247.7 88.9,243.0 93.5,238.2 98.1,233.5 102.8,228.8 107.4,224.1 M110.3,217.9 115.1,212.8 120.0,207.8 124.9,203.0 129.8,198.3 134.6,193.7 139.5,189.2 144.4,184.8" fill="none" stroke="#b0b0b0" stroke-width="0.8" stroke-dasharray="1.5 1.5"/></g>
<g clip-path="url(#cl0)"><path d="M188.8,123.3 193.5,119.9 198.2,116.5 203.0,113.3 207.7,110.2 212.4,107.2 217.2,104.3 221.9,101.6 226.6,98.9 M182.7,114.6 187.7,110.6 192.8,106.8 197.8,103.2 202.9,99.7 207.9,96.4 213.0,93.2 218.0,90.2 223.1,87.4 228.1,84.6 233.2,82.0 238.2,79.5 243.3,77.2 248.4,74.9 M199.8,115.5 204.9,112.1 209.9,108.8 215.0,105.7 220.0,102.7 225.1,99.8 230.2,97.1 235.2,94.4 240.3,91.9 245.3,89.4 250.4,87.1 255.4,84.8 M212.0,98.6 217.0,95.6 222.1,92.7 227.1,89.9 232.1,87.2 237.2,84.7 242.2,82.3 247.2,80.0 252.3,77.7 257.3,75.6 M195.1,111.4 200.2,107.8 205.2,104.4 210.3,101.1 215.4,98.0 220.5,95.0 225.5,92.2 230.6,89.5 235.7,86.9 240.8,84.4 245.9,82.0 250.9,79.7 M208.5,108.5 213.6,105.3 218.7,102.3 223.8,99.3 228.9,96.5 234.0,93.8 239.1,91.2 244.2,88.7 249.3,86.3 254.5,84.1 259.6,81.9 M180.1,128.3 184.8,124.5 189.6,120.9 194.3,117.5 199.0,114.2 203.8,111.0 208.5,107.9 213.2,104.9 218.0,102.0 222.7,99.3 227.4,96.7 232.2,94.1 236.9,91.7 M173.2,130.8 178.0,126.7 182.9,122.8 187.7,119.1 192.6,115.4 197.4,112.0 202.3,108.6 207.1,105.4 212.0,102.4" fill="none" stroke="#b0b0b0" stroke-width="0.8" stroke-dasharray="1.5 1.5"/></g>
<g clip-path="url(#cl1)"><path d="M123.5,388.3 127.7,381.7 132.0,375.4 136.3,369.5 140.5,363.9 M120.7,391.9 125.4,384.2 130.1,376.9 134.8,370.0 139.5,363.6 144.2,357.4 M72.3,479.4 76.9,473.6 81.4,467.7 86.0,461.8 90.6,456.0 95.2,450.2 99.8,444.7 104.4,439.3 M127.5,389.3 132.3,383.5 137.1,378.2 141.9,373.2 M127.7,392.1 132.4,385.3 137.0,378.7 141.7,372.4 146.3,366.3 151.0,360.4 155.6,354.7 160.3,349.1 M91.7,442.8 96.7,434.4 101.6,426.2 106.6,418.4 111.5,411.0 M131.9,388.1 137.0,384.1 142.0,380.7 147.1,377.8 152.2,375.3 M125.0,392.7 130.1,387.4 135.1,382.6 140.1,378.4 145.1,374.7 150.1,371.4 M78.5,465.7 82.8,458.2 87.1,450.5 91.4,442.8 95.7,435.0 M111.6,406.4 116.3,397.6 121.0,389.1 125.8,381.0 130.5,373.4 135.3,366.2 140.0,359.3 144.7,352.8 M78.8,466.0 83.6,457.5 88.4,448.6 93.2,439.4 97.9,430.2 102.7,420.9 107.5,411.8 112.3,402.9 M110.1,401.2 115.2,391.2 120.3,381.8 125.5,373.1 130.6,365.2 M65.7,486.2 70.5,479.9 75.2,472.9 79.9,465.5 84.7,457.8 89.4,450.1 94.2,442.4 M127.2,372.9 132.3,366.3 137.3,360.5 142.3,355.2 147.3,350.6 152.4,346.3 157.4,342.5 M85.7,452.6 90.7,443.3 95.7,433.7 100.7,424.3 105.7,415.0 110.7,406.0 115.7,397.6 M68.8,481.2 73.3,473.9 77.7,465.9 82.2,457.4 86.7,448.5 91.1,439.4 95.6,430.0 100.1,420.7 M124.6,397.8 129.0,389.6 133.5,381.6 138.0,373.6 142.4,365.7 M110.7,411.5 115.7,403.5 120.8,395.9 125.9,389.0 130.9,382.6 136.0,376.7 141.0,371.4 M104.9,425.6 109.5,419.0 114.2,412.8 118.9,407.1 123.5,401.8 128.2,397.1 132.9,392.9 M64.5,487.7 69.1,481.0 73.8,473.5 78.5,465.1 83.2,456.2 87.8,446.7 92.5,436.9 97.2,426.9 M104.9,419.5 109.2,411.2 113.4,403.1 117.7,395.2 122.0,387.5 126.3,380.2 M93.1,433.4 97.5,423.3 101.8,413.1 106.2,402.8 110.6,392.5 115.0,382.6 119.4,373.0 M74.4,471.4 79.4,462.0 84.3,452.1 89.3,441.8 94.3,431.3 M90.9,452.0 95.7,445.2 100.6,438.7 105.4,432.5 110.2,426.5 M123.1,384.2 127.7,377.0 132.4,370.2 137.1,364.0 141.7,358.1 M69.5,480.2 74.3,472.1 79.1,463.0 83.9,453.3 88.7,443.0 93.5,432.2 98.3,421.2 103.1,410.0 M70.1,481.1 75.0,474.5 79.9,467.5 84.7,460.4 89.6,453.3 94.4,446.2 99.3,439.3 104.2,432.7 M104.2,416.6 108.6,408.7 112.9,401.1 117.2,394.0 121.5,387.3 125.8,381.2 130.2,375.5 M76.7,470.3 81.4,462.5 86.2,454.4 91.0,446.2 95.7,437.9 100.5,429.7 M86.1,454.2 91.2,445.6 96.3,437.1 101.5,428.9 106.6,421.1 111.7,413.7 116.9,407.0 M98.0,426.0 102.7,416.4 107.4,407.1 112.2,398.0 116.9,389.4 121.6,381.3 126.3,373.9 131.0,367.2 M72.2,476.8 77.2,468.4 82.2,459.1 87.2,449.2 M69.4,480.9 73.3,474.9 77.2,468.3 81.1,461.4 85.0,454.2 M81.8,457.0 86.3,447.7 90.8,438.2 95.4,428.5 99.9,418.7 104.4,409.0 108.9,399.6 113.4,390.5 M98.9,435.6 104.0,428.7 109.1,422.3 114.2,416.6 119.3,411.5 M73.1,475.4 78.0,467.4 82.8,459.0 87.7,450.3 92.5,441.4 97.3,432.4 102.2,423.5 107.0,414.8 M114.7,395.5 119.2,387.6 123.8,380.2 128.3,373.5 132.9,367.2 137.4,361.5 142.0,356.2 146.5,351.3 M65.1,487.2 69.5,481.9 73.9,475.9 78.3,469.6 82.7,463.1 87.1,456.5 91.5,449.9 M72.4,476.2 77.5,467.6 82.7,458.4 87.8,448.7 92.9,438.7 98.0,428.6 M90.6,438.8 95.0,429.4 99.4,420.2 103.8,411.0 108.2,402.1 112.6,393.6 117.1,385.6 M89.5,458.5 93.9,453.1 98.3,448.0 102.8,443.0 107.2,438.2 111.6,433.6 M80.9,461.6 85.3,453.6 89.8,445.5 94.2,437.3 98.6,429.2 103.1,421.2 107.5,413.5 112.0,406.0 M66.3,485.6 71.2,479.3 76.2,472.5 81.1,465.6 86.0,458.8 M64.9,487.6 69.6,482.2 74.4,476.1 79.1,469.8 83.9,463.4 88.6,457.0 93.4,450.8 98.2,444.8 M69.4,481.3 74.4,474.0 79.5,466.1 84.5,458.1 89.6,449.9 M83.3,454.1 87.9,444.3 92.6,434.3 97.3,424.2 102.0,414.1 106.6,404.1 111.3,394.4 116.0,385.3 M84.9,452.6 89.8,443.3 94.6,433.9 99.5,424.6 104.4,415.6 109.3,407.0 114.1,398.9 M69.1,480.4 73.6,472.4 78.1,463.1 82.5,453.0 87.0,441.9 M64.0,488.2 68.4,481.9 72.8,474.9 77.2,467.1 81.6,459.0 86.0,450.3 90.4,441.5 M97.6,423.6 102.1,414.9 106.5,406.7 110.9,398.9 115.4,391.7 119.8,385.3 M107.0,415.6 111.3,409.3 115.6,403.5 119.9,398.2 124.3,393.6 M64.7,487.6 69.6,482.1 74.4,476.0 79.2,469.6 M81.3,467.0 86.2,460.0 91.1,452.8 96.0,445.6 100.9,438.4 105.8,431.2 110.7,424.1 M68.7,482.7 73.4,476.4 78.1,469.8 82.8,463.2 87.4,456.5 92.1,450.1 M67.6,483.8 72.3,476.9 77.0,469.4 81.7,461.3 86.4,452.9 91.0,444.2 95.7,435.3 M70.6,480.1 74.7,474.0 78.9,467.5 83.0,460.7 87.2,453.6 91.4,446.3 M106.9,416.4 111.3,408.8 115.6,401.5 120.0,394.6 124.3,388.1 128.7,381.9 M91.6,440.6 96.3,431.2 101.1,421.7 105.8,412.3 110.5,403.1 115.3,394.3 120.0,385.9 124.7,378.2 M68.8,482.5 73.6,475.8 78.5,468.7 83.3,461.3 88.2,453.9 M121.7,385.3 126.0,379.5 130.3,374.2 134.6,369.5 138.9,365.3 143.1,361.5 147.4,358.0 M102.2,434.2 106.9,427.6 111.6,421.2 116.3,415.2 121.0,409.4 125.7,404.1 130.4,399.1 M65.4,486.1 70.5,478.2 75.5,469.4 80.6,459.9 85.6,449.9 90.7,439.6 95.7,429.2 M94.2,432.2 98.9,422.2 103.6,412.1 108.3,402.3 113.0,392.8 117.7,383.8 M94.8,436.3 98.9,427.9 103.1,419.3 107.2,410.8 111.4,402.3 M77.4,472.0 81.8,465.8 86.2,459.5 90.6,453.2 95.0,446.9 99.4,440.6 M69.5,479.8 74.0,472.3 78.5,464.1 83.0,455.7 87.5,447.0 92.0,438.4 96.5,429.7 101.0,421.3 M75.5,471.5 80.5,463.2 85.6,454.6 90.7,446.0 95.7,437.4 M96.3,441.5 101.2,434.2 106.0,427.0 110.9,420.2 115.7,413.7 120.6,407.6 125.4,401.9 130.3,396.6 M126.3,403.8 131.4,398.6 136.5,393.8 141.5,389.3 146.6,385.2 151.6,381.4 156.7,377.8 M79.2,464.8 83.6,456.9 88.0,448.5 92.3,440.0 96.7,431.4 M133.0,377.6 137.2,374.6 141.5,372.1 145.7,370.0 150.0,368.3 M117.6,409.2 122.2,402.6 126.8,396.4 131.5,390.5 136.1,384.9 M87.5,448.1 92.3,438.9 97.1,429.7 101.8,420.6 106.6,411.7 111.4,403.2 116.2,395.2 M66.1,485.3 70.7,478.4 75.2,470.7 79.8,462.4 84.4,453.6 M74.7,475.8 79.3,469.5 83.8,463.0 88.3,456.4 92.9,449.7 97.4,443.1 101.9,436.4 106.5,429.9 M84.1,460.6 88.3,455.3 92.5,450.3 96.6,445.7 100.8,441.5 M69.6,481.4 73.7,475.4 77.9,469.0 82.1,462.2 86.3,455.2 M67.9,483.7 72.7,477.3 77.5,470.3 82.3,463.2 87.1,455.9 91.9,448.7 M130.7,384.0 135.8,375.4 140.9,367.1 146.0,359.0 151.1,351.1 156.2,343.3 M106.0,420.5 110.6,412.9 115.1,405.6 119.7,398.7 124.3,392.3 M95.6,439.3 100.4,430.6 105.2,421.9 110.0,413.2 114.8,404.7 119.6,396.5 124.5,388.6 M82.3,461.2 87.1,453.5 91.9,446.0 96.7,438.6 101.5,431.5 106.3,424.9 M89.4,441.3 94.4,430.4 99.3,419.4 104.3,408.3 109.2,397.5 M68.5,481.7 73.4,473.7 78.3,464.8 83.3,455.4 88.2,445.5 93.1,435.3 M84.0,455.3 88.4,446.7 92.8,437.9 97.2,428.9 101.6,419.9 106.0,411.0 M73.0,474.2 77.0,466.7 81.1,458.6 85.1,450.0 89.2,441.0 M64.0,488.2 69.1,481.1 74.2,473.0 79.3,464.0 84.3,454.4 M95.9,433.4 100.8,424.9 105.6,416.8 110.5,409.1 115.4,402.1 M117.1,400.6 122.2,393.7 127.3,387.5 132.4,382.1 137.6,377.2 M103.4,425.2 108.1,418.5 112.8,412.2 117.6,406.5 122.3,401.4 M87.1,452.6 91.6,445.1 96.1,437.6 100.6,430.4 105.1,423.3 109.6,416.6 114.2,410.3 118.7,404.5 M69.4,481.5 74.1,474.5 78.8,466.9 83.6,458.9 88.3,450.7 93.0,442.2 M105.4,411.8 110.2,401.8 115.0,392.2 119.8,383.0 124.6,374.3 129.4,366.2 134.2,358.6 M65.2,486.9 69.7,480.9 74.2,474.1 78.7,466.7 83.1,459.0 M126.7,383.6 130.7,381.0 134.7,378.9 138.7,377.4 142.7,376.3 M64.9,487.1 69.1,481.1 73.4,474.6 77.6,467.6 81.8,460.2 86.0,452.6 M134.7,355.9 139.4,350.7 144.1,346.1 148.8,342.0 153.5,338.3 158.2,335.0 M87.6,446.0 91.9,437.1 96.3,428.0 100.6,419.0 105.0,410.1 109.3,401.5 113.7,393.2 M68.1,483.3 73.0,476.3 77.9,468.5 82.8,460.1 87.7,451.4 92.6,442.3 97.4,433.1 102.3,423.8 M81.6,463.3 85.7,456.6 89.8,449.7 93.8,442.9 97.9,436.0 M103.5,418.0 107.8,410.3 112.1,402.8 116.4,395.9 120.7,389.4 M85.2,450.2 89.7,440.4 94.2,430.2 98.7,419.8 103.1,409.2 107.6,398.8 112.1,388.5 M123.3,389.7 128.2,382.5 133.1,375.8 137.9,369.5 142.8,363.7 M115.5,399.0 119.9,390.8 124.3,383.0 128.7,375.6 133.1,368.5 137.5,361.7 M101.8,429.2 106.5,420.8 111.1,412.6 115.8,404.5 120.4,396.7 M70.8,477.6 75.9,468.9 81.0,459.7 86.0,450.2 91.1,440.7 96.2,431.2 M114.1,391.3 118.7,384.5 123.2,378.6 127.8,373.6 M75.9,472.9 80.2,466.7 84.6,460.4 89.0,454.3 93.3,448.3 M76.2,471.7 80.3,465.2 84.3,458.5 88.4,451.7 92.5,444.8 M67.6,483.5 72.2,476.9 76.7,469.8 81.2,462.3 85.8,454.7 90.3,447.1 94.8,439.5 M66.4,485.2 71.4,478.1 76.4,470.3 81.3,462.1 86.3,453.5 91.3,444.8 96.3,436.1 M113.2,403.1 118.0,396.1 122.7,389.7 127.4,384.0 M66.8,484.1 71.8,475.8 76.8,466.3 81.8,455.8 M86.9,450.8 91.6,441.8 96.2,432.5 100.9,423.1 105.5,413.8 M125.3,379.6 130.3,372.2 135.3,365.5 140.4,359.4 145.4,353.7 150.4,348.4 155.5,343.6 M101.0,427.7 105.5,420.7 109.9,414.1 114.4,407.8 118.8,402.1 M70.6,480.2 75.1,473.8 79.6,467.0 84.1,460.0 88.6,452.9 93.1,445.8 97.6,438.7 M67.0,484.5 72.0,477.6 77.0,470.0 82.0,462.3 87.0,454.5 M64.5,487.5 68.9,481.1 73.3,474.2 77.7,466.8 82.1,459.2 M97.6,435.9 102.0,429.0 106.4,422.2 110.8,415.8 115.2,409.7 M120.9,393.6 125.7,387.8 130.5,382.7 135.3,378.2 140.1,374.2 144.9,370.8 149.7,367.7 154.5,365.1 M99.1,421.7 103.6,412.2 108.1,402.9 112.5,393.8 117.0,385.2 121.5,377.1 M129.6,384.9 134.4,378.8 139.1,373.0 143.9,367.6 148.7,362.5 M72.7,476.5 77.5,469.1 82.3,461.5 87.1,453.6 92.0,445.8 96.8,438.0 101.6,430.4 M81.9,461.4 86.5,452.9 91.1,444.1 95.7,434.9 100.3,425.5 104.9,416.1 109.5,406.6 M80.9,460.1 85.6,450.7 90.4,440.9 95.1,431.0 99.8,420.9 104.6,410.9 109.3,401.1 114.1,391.6 M105.8,410.6 110.1,403.3 114.4,396.4 118.7,390.2 123.0,384.6 127.3,379.7 M112.2,396.2 116.5,387.6 120.7,379.4 125.0,371.6 129.2,364.3 133.5,357.5 M100.4,426.6 104.8,419.7 109.2,413.2 113.6,407.3 118.0,402.0 122.4,397.2 M64.1,488.3 68.7,482.5 73.4,476.0 78.1,468.9" fill="none" stroke="#a0a0a0" stroke-width="0.8"/></g>
<g clip-path="url(#cl1)"><path d="M115.5,411.0 120.3,405.1 125.1,399.5 129.9,394.1 134.8,389.0 139.6,384.1 144.4,379.5 M120.7,406.1 125.7,400.4 130.6,394.9 135.6,389.7 140.6,384.8 145.5,380.1 150.5,375.6 M71.1,479.1 75.6,472.6 80.2,466.0 84.7,459.4 89.3,452.9 93.8,446.5 M81.6,460.3 85.9,453.3 90.3,446.4 94.7,439.7 99.1,433.2 103.4,426.9 107.8,420.9 M111.2,423.7 115.6,418.4 120.0,413.4 124.3,408.5 128.7,403.9 133.1,399.4 137.5,395.1 M84.4,455.8 89.3,448.2 94.1,440.7 99.0,433.5 M136.7,391.5 141.4,386.9 146.1,382.6 150.8,378.4 155.5,374.5 160.2,370.8 164.9,367.2 M70.8,480.5 74.9,475.1 79.0,469.5 83.1,463.9 87.2,458.4 M78.4,465.0 82.9,457.5 87.4,450.2 92.0,443.0 96.5,436.0 M129.1,393.7 133.8,388.5 138.6,383.6 143.4,378.9 148.2,374.4 M97.2,434.9 101.3,428.9 105.3,423.2 109.3,417.6 113.4,412.2 M134.7,404.4 138.6,400.8 142.5,397.3 146.4,394.0 M133.9,389.2 137.9,385.1 141.8,381.2 145.8,377.5 149.7,373.9 M149.1,370.5 153.0,367.0 156.8,363.7 160.7,360.5 164.6,357.4 M67.5,483.4 71.5,477.3 75.6,470.9 79.6,464.5 M68.0,482.3 72.5,474.9 77.1,467.4 81.7,459.8 86.3,452.4 90.9,445.2 95.5,438.1 M109.6,419.8 113.8,414.4 118.0,409.2 122.1,404.2 126.3,399.5 M69.9,479.5 74.6,472.1 79.4,464.5 84.1,456.9 88.8,449.5 93.5,442.3 M143.6,389.2 148.3,385.1 152.9,381.2 157.6,377.4 162.3,373.9 167.0,370.5 171.6,367.3 M75.3,474.8 80.0,468.5 84.6,462.2 89.3,455.9 94.0,449.8 98.7,443.8 103.4,437.9 M90.4,452.2 94.7,446.3 99.0,440.5 103.3,434.9 107.6,429.5 M141.1,377.1 145.5,372.8 149.8,368.7 154.2,364.9 158.5,361.2 162.9,357.7 167.2,354.3 M92.5,447.5 97.6,440.5 102.6,433.7 107.6,427.2 112.7,420.9 117.7,414.9 122.7,409.2 M129.4,407.5 134.1,402.9 138.8,398.6 143.4,394.4 148.1,390.4 152.7,386.6 157.4,383.0 M76.7,467.1 81.3,459.3 85.9,451.7 90.5,444.2 95.1,436.9 99.6,429.9 104.2,423.2 M86.2,460.5 91.1,454.1 96.0,447.8 100.9,441.7 105.8,435.7 110.7,430.0 115.6,424.5 M112.8,423.6 117.2,418.5 121.6,413.6 125.9,408.9 130.3,404.4 134.7,400.0 M129.0,393.1 133.0,388.7 137.0,384.5 140.9,380.5 144.9,376.7 M90.0,447.4 94.4,440.5 98.9,433.9 103.4,427.5 107.9,421.4 M98.6,441.4 102.9,435.7 107.2,430.3 111.5,425.0 115.9,420.0 M122.6,415.6 127.5,410.6 132.5,405.7 137.4,401.1 142.3,396.7 147.2,392.4 M91.0,445.3 95.8,438.0 100.6,430.9 105.4,424.1 110.2,417.5 115.0,411.3 M73.9,477.0 77.8,471.9 81.7,466.8 85.6,461.6 M69.3,482.1 74.2,475.5 79.1,468.6 84.0,461.7 88.9,454.9 M87.2,455.2 91.7,448.7 96.2,442.3 100.7,436.1" fill="none" stroke="#b8b8b8" stroke-width="0.7" stroke-dasharray="1.5 1.5"/></g>
<g clip-path="url(#cl2)"><path d="M97.3,667.0 102.3,661.2 107.2,655.5 112.2,649.8 117.1,644.2 M153.3,594.7 157.9,591.4 162.4,588.2 167.0,585.1 171.5,582.2 176.1,579.3 M159.0,618.8 164.0,613.6 168.9,608.5 173.9,603.4 178.8,598.4 183.7,593.4 188.7,588.4 193.6,583.5 M72.3,706.0 76.9,701.1 81.5,695.8 86.2,690.2 90.8,684.4 95.5,678.4 M85.0,687.6 89.8,682.1 94.6,676.5 99.4,670.9 104.2,665.3 109.0,659.7 113.8,654.3 M162.8,589.4 167.7,585.7 172.5,582.1 177.4,578.7 182.2,575.4 187.1,572.2 191.9,569.1 196.8,566.0 201.7,563.1 206.5,560.3 M114.9,631.5 119.7,626.7 124.5,622.1 129.3,617.6 134.1,613.3 138.9,609.1 143.7,605.2 148.5,601.3 M161.6,603.5 166.4,600.7 171.3,598.1 176.2,595.6 181.0,593.3 185.9,591.1 190.8,589.0 195.7,587.1 200.5,585.3 205.4,583.7 M168.5,580.0 173.3,578.4 178.1,577.1 182.9,575.9 187.7,574.8 192.5,574.0 197.3,573.3 202.1,572.7 206.9,572.3 M115.5,633.4 120.4,629.2 125.3,625.4 130.2,621.7 135.1,618.3 140.0,615.1 144.8,612.2 149.7,609.4 154.6,606.9 159.5,604.6 M108.2,664.1 113.0,659.5 117.7,655.2 122.5,651.1 127.3,647.2 132.1,643.5 136.9,640.0 M75.7,703.3 80.7,698.0 85.7,692.6 90.7,687.1 95.7,681.7 100.7,676.4 105.7,671.2 110.7,666.2 115.7,661.4 M78.8,697.5 83.8,691.9 88.9,686.1 93.9,680.3 98.9,674.5 104.0,668.6 109.0,662.9 114.0,657.2 119.1,651.7 M166.5,601.6 171.0,599.6 175.6,597.7 180.1,596.0 184.7,594.4 189.2,593.0 M99.6,666.7 103.7,661.5 107.8,656.2 111.9,651.0 116.0,645.7 M106.3,656.7 110.4,652.7 114.6,648.8 118.7,645.1 122.8,641.6 M78.0,696.3 82.7,691.5 87.5,686.8 92.3,682.2 M113.9,630.0 118.6,625.6 123.4,621.4 128.1,617.4 132.9,613.6 137.6,609.9 142.4,606.5 147.1,603.2 151.9,600.2 M108.5,661.5 113.1,656.5 117.7,651.6 122.2,646.7 126.8,642.0 131.4,637.3 135.9,632.7 140.5,628.3 M86.5,688.2 91.3,683.4 96.0,678.7 100.8,674.3 105.6,670.1 110.4,666.2 M142.6,606.9 146.7,603.9 150.8,601.0 154.9,598.2 159.0,595.6 M79.2,691.8 83.3,687.3 87.3,682.7 91.4,678.0 95.5,673.4 M87.0,680.2 91.6,675.3 96.2,670.6 100.9,666.0 105.5,661.6 110.1,657.4 114.7,653.4 119.3,649.6 123.9,646.0 M78.2,699.4 82.9,694.4 87.6,689.4 92.3,684.4 97.1,679.5 101.8,674.7 M102.0,668.6 105.9,664.3 109.8,660.1 113.7,656.0 117.6,651.9 M128.2,636.2 132.1,634.2 136.0,632.4 139.9,630.8 143.8,629.5 M68.9,708.1 73.5,703.8 78.1,699.0 82.7,693.9 87.4,688.8 92.0,683.6 96.6,678.3 101.2,673.2 105.9,668.1 M90.8,672.0 95.8,665.0 100.7,657.7 105.7,650.3 110.7,642.6 M184.6,594.9 189.2,594.2 193.9,593.6 198.5,593.2 203.1,593.0 207.8,592.9 M71.2,706.1 76.1,701.2 81.1,696.0 86.0,690.5 91.0,685.1 95.9,679.6 M163.7,639.4 167.9,636.8 172.1,634.4 176.3,632.1 180.5,630.0 184.7,627.9 M85.5,677.5 90.5,671.3 95.6,665.0 100.6,658.5 105.6,651.9 110.6,645.4 115.6,638.8 120.6,632.3 125.6,625.8 M96.3,665.6 100.2,661.0 104.1,656.5 108.0,651.9 111.9,647.5 M89.8,676.8 94.6,671.7 99.4,666.8 104.1,662.0 108.9,657.4 M140.4,620.5 145.2,616.3 150.0,612.3 154.8,608.3 159.6,604.5 164.4,600.8 169.2,597.2 173.9,593.8 178.7,590.5 183.5,587.2 M105.3,673.3 109.8,669.2 114.2,665.3 118.7,661.7 123.1,658.3 M164.1,590.2 169.0,587.1 173.8,584.2 178.7,581.3 183.6,578.7 188.5,576.1 M71.4,705.1 76.0,701.0 80.5,696.8 85.0,692.8 89.6,689.1 94.1,685.7 98.6,682.7 M64.8,711.0 69.5,707.4 74.2,702.8 78.9,697.8 83.6,692.5 88.3,687.1 93.0,681.5 M139.8,608.0 144.1,606.0 148.5,604.1 152.8,602.5 157.1,601.1 161.4,599.8 M106.6,661.2 111.2,656.2 115.9,651.3 120.5,646.5 M75.6,697.7 80.0,693.2 84.3,688.6 88.7,683.9 93.0,679.4 97.4,674.9 101.8,670.5 M159.2,602.6 163.8,599.0 168.5,595.5 173.2,592.1 177.9,588.8 182.5,585.7 187.2,582.6 191.9,579.7 196.6,576.8 M69.3,708.1 74.1,703.4 79.0,698.0 83.8,692.4 88.6,686.4 93.5,680.3 M76.6,701.1 81.3,696.2 86.0,691.2 90.8,686.2 95.5,681.4 100.3,676.7 105.0,672.1 109.8,667.8 M152.1,579.8 156.6,580.0 161.2,580.5 165.7,581.2 170.3,582.2 M143.8,637.6 148.7,633.6 153.6,629.7 158.5,625.9 163.4,622.2 168.3,618.7 M168.0,562.7 172.5,563.9 177.0,565.4 181.5,567.1 186.0,569.0 M78.5,700.2 83.4,695.0 88.2,689.7 93.0,684.4 97.8,679.1 102.7,674.0 107.5,669.0 112.3,664.1 M80.4,687.4 85.1,682.4 89.8,677.4 94.6,672.5 99.3,667.7 104.1,663.0 108.8,658.5 113.5,654.2 118.3,650.1 123.0,646.2 M150.9,599.2 155.6,594.1 160.3,589.1 165.1,584.2 M126.9,633.4 131.5,628.6 136.1,624.0 140.7,619.5 145.3,615.1 149.9,610.8 154.5,606.6 159.1,602.5 163.8,598.5 168.4,594.6 M136.7,617.3 141.3,612.9 145.8,608.6 150.3,604.4 154.9,600.3 159.4,596.3 164.0,592.4 168.5,588.6 173.0,584.9 M150.6,641.7 155.5,637.2 160.4,632.9 165.3,628.6 170.2,624.4 175.0,620.3 179.9,616.3 184.8,612.3 M158.1,621.9 162.9,619.1 167.7,616.4 172.6,613.9 177.4,611.6 182.2,609.4 187.0,607.3 191.8,605.4 M76.4,700.6 80.9,695.7 85.4,690.6 90.0,685.5 94.5,680.3 99.1,675.1 103.6,670.0 108.1,665.0 112.7,660.0 M94.2,661.3 98.9,656.4 103.6,651.6 108.3,647.1 113.1,642.7 117.8,638.4 M128.5,620.8 133.5,618.3 138.5,616.1 143.6,614.2 148.6,612.7 153.7,611.5 158.7,610.6 M122.9,632.6 127.8,626.7 132.7,620.8 137.6,615.0 142.5,609.2 147.4,603.5 M70.8,705.9 75.6,701.2 80.3,696.2 85.0,691.0 89.7,685.7 94.5,680.4 M72.4,705.4 77.3,700.4 82.2,695.3 87.2,690.1 92.1,684.9 97.0,679.9 101.9,675.0 106.9,670.3 111.8,665.8 116.7,661.5 M101.7,668.4 106.8,663.1 111.8,657.9 116.9,652.9 121.9,648.0 127.0,643.3 M88.3,668.1 93.4,662.7 98.4,657.4 103.4,652.2 108.5,647.2 113.5,642.4 118.6,637.8 M174.8,584.3 179.5,584.8 184.3,585.5 189.0,586.5 M99.4,673.3 104.2,666.5 108.9,659.4 113.7,652.2 M110.7,630.9 115.2,625.7 119.8,620.5 124.4,615.4 128.9,610.5 M111.7,647.6 116.7,643.1 121.7,638.8 126.7,634.7 131.7,630.9 136.7,627.3 141.7,623.9 146.7,620.7 151.7,617.8 M158.6,608.9 163.4,605.2 168.3,601.6 173.1,598.1 178.0,594.7 182.8,591.4 187.7,588.2 M111.3,678.1 115.7,673.3 120.0,668.6 124.4,663.8 128.7,659.2 133.1,654.6 137.5,650.0 M140.0,596.2 144.8,591.1 149.6,586.2 154.5,581.3 159.3,576.6 164.1,571.9 168.9,567.4 173.8,562.9 178.6,558.5 183.4,554.2 M67.1,709.7 71.6,705.6 76.2,700.9 80.8,695.6 85.3,690.1 89.9,684.3 94.4,678.4 99.0,672.4 103.6,666.3 M71.2,705.0 75.8,700.4 80.4,695.5 85.0,690.5 89.7,685.4 M78.2,697.9 82.8,693.0 87.5,687.9 92.1,682.9 96.8,678.0 101.4,673.2 106.1,668.5 110.7,663.9 115.3,659.5 120.0,655.3 M82.6,693.9 87.3,688.6 92.0,683.2 96.7,677.8 101.4,672.5 106.1,667.1 110.8,661.9 115.5,656.7 120.3,651.6 M86.1,686.7 91.2,681.1 96.3,675.4 101.3,669.8 106.4,664.3 111.5,658.9 116.6,653.7 121.7,648.6 126.8,643.7 M132.3,623.8 137.0,619.9 141.6,616.2 146.2,612.6 150.9,609.2 155.5,605.9 160.2,602.8 164.8,599.8 169.4,597.0 M116.0,648.0 120.0,644.9 124.0,642.1 128.0,639.4 132.0,636.9 M79.5,695.4 84.2,690.4 88.8,685.4 93.4,680.4 98.1,675.5 102.7,670.7 107.4,666.0 112.0,661.5 116.7,657.2 M153.2,566.5 157.7,564.5 162.2,562.7 166.8,561.1 171.3,559.7 175.8,558.4 180.4,557.3 184.9,556.3 189.4,555.5 M112.1,636.3 116.7,632.0 121.4,628.0 126.1,624.1 130.8,620.4 135.4,616.9" fill="none" stroke="#ababab" stroke-width="0.8"/></g>
<g clip-path="url(#cl2)"><path d="M87.9,680.8 92.9,672.7 97.8,664.6 102.8,656.6 107.8,648.6 112.7,640.9 M95.6,678.8 100.4,673.0 105.1,667.2 109.9,661.5 114.6,656.0 119.4,650.6 124.1,645.3 M131.9,648.5 136.6,644.5 141.3,640.7 146.0,637.0 150.7,633.5 M122.9,649.7 127.7,644.7 132.6,639.9 137.4,635.3 M88.1,688.2 92.5,682.8 96.8,677.4 101.2,672.0 105.6,666.7 M116.4,666.3 121.0,662.2 125.5,658.3 130.0,654.5 134.6,650.8 139.1,647.3 143.6,643.9 M123.9,628.0 128.4,622.1 132.9,616.4 137.3,610.9 141.8,605.7 146.2,600.7 150.7,595.9 155.1,591.3 M152.4,601.5 157.2,597.0 161.9,592.8 166.6,588.8 171.3,585.0 176.0,581.4 180.8,578.0 185.5,574.8 M71.2,707.7 75.9,704.2 80.6,700.2 85.3,696.0 90.0,691.6 94.8,687.2 99.5,682.7 M158.8,615.2 163.4,611.8 168.0,608.5 172.6,605.4 177.2,602.4 181.8,599.6 186.3,597.0 190.9,594.4 M128.7,650.3 133.4,646.2 138.0,642.2 142.6,638.4 M67.3,709.6 71.8,705.6 76.3,700.8 80.8,695.3 85.3,689.6 89.8,683.6 94.3,677.5 98.8,671.5 M76.3,702.9 81.2,698.2 86.0,693.3 90.8,688.2 95.6,683.0 100.5,677.8 M134.1,641.7 139.1,637.2 144.2,632.9 149.2,628.8 154.2,624.9 159.3,621.2 M122.6,651.2 127.5,646.3 132.4,641.6 137.3,637.1 142.1,632.7 M79.3,699.6 83.8,694.9 88.4,690.0 92.9,685.0 97.4,679.9 M126.9,626.7 131.4,621.1 135.8,615.6 140.3,610.5 144.8,605.5 149.3,600.8 M150.8,634.8 155.1,631.8 159.3,628.9 163.6,626.1 167.9,623.5 M107.4,654.7 112.0,648.2 116.6,641.9 121.1,635.8 125.7,629.8 130.3,624.1 M89.7,689.1 94.8,683.6 99.9,678.1 105.0,672.6 110.1,667.2 115.2,662.0 M136.7,649.6 141.7,645.7 146.8,642.1 151.8,638.6 156.8,635.3 161.8,632.1 166.8,629.1 M103.0,683.3 107.8,679.3 112.7,675.3 117.5,671.5 122.4,667.8 127.3,664.1 132.1,660.6 M88.9,689.5 93.6,684.3 98.3,679.0 103.0,673.9 M115.6,664.6 120.1,660.4 124.7,656.2 129.2,652.2 133.7,648.3 138.3,644.6 142.8,641.0 M83.2,697.9 88.1,693.3 93.1,688.7 98.0,684.0 102.9,679.3 107.9,674.7 112.8,670.2" fill="none" stroke="#bdbdbd" stroke-width="0.7" stroke-dasharray="1.5 1.5"/></g>
<g clip-path="url(#cr0)"><path d="M388.3,244.7 392.3,239.7 396.4,234.4 400.5,229.1 M419.3,183.5 423.2,173.0 427.1,162.1 M419.4,158.1 423.4,147.0 427.3,135.8 M377.5,258.3 381.2,255.6 384.9,252.9 388.6,250.1 M383.2,255.9 388.1,252.3 393.0,248.5 M409.1,191.2 413.4,185.1 417.6,179.6 421.8,175.0 426.0,171.3 M417.3,182.0 421.6,168.5 425.9,154.4 430.2,139.7 M397.7,223.0 401.2,213.8 404.7,203.8 M383.7,244.4 387.2,239.0 390.8,233.5 394.3,227.8 M390.9,238.9 395.3,231.6 399.7,223.6 M420.3,156.5 425.4,140.2 430.4,123.6 435.5,106.7 M377.2,257.6 382.1,252.7 386.9,246.8 391.7,239.9 396.6,232.1 M408.4,217.3 413.2,212.0 418.1,207.3 M395.8,217.4 400.9,205.8 406.1,193.7 411.2,181.5 416.3,169.2 M405.6,195.0 410.1,186.7 414.7,179.0 419.2,172.1 423.7,165.8 M404.8,221.9 408.5,212.9 412.3,203.0 416.1,192.4 M411.6,208.6 416.1,197.9 420.6,186.5 M424.1,185.7 428.7,182.3 433.2,179.8 437.7,178.1 442.2,177.3 M400.9,236.6 405.6,231.2 410.3,225.7 M380.9,244.4 385.6,235.0 390.2,224.1 M406.2,197.1 411.2,185.4 416.1,173.5 421.1,161.6 426.1,149.8 M387.0,236.1 391.3,225.8 395.7,213.9 M388.8,237.4 392.7,229.7 396.6,221.1 400.5,211.9 M421.5,158.5 425.2,153.4 428.9,148.9" fill="none" stroke="#b5b5b5" stroke-width="0.7"/></g>
<g clip-path="url(#cr0)"><path d="M551.8,105.7 555.6,104.5 559.4,103.3 M527.0,141.4 531.9,139.4 536.9,137.5 M561.3,132.1 565.5,131.0 569.8,129.9 M547.7,140.0 551.9,138.7 556.1,137.5 560.3,136.3" fill="none" stroke="#b5b5b5" stroke-width="0.7"/></g>
<g clip-path="url(#cr1)"><path d="M405.3,443.2 409.8,438.7 414.3,434.4 418.8,430.5 M396.8,437.2 400.9,429.2 405.1,421.3 409.2,413.4 413.4,405.7 M395.3,460.8 399.7,454.2 404.1,447.3 408.5,439.9 M406.7,437.4 411.2,435.9 415.7,435.4 M405.2,431.4 409.6,427.7 414.0,424.8 M410.7,446.7 415.7,442.9 420.7,439.4 M393.5,448.9 397.8,442.0 402.1,435.3 406.3,428.7 410.6,422.2 M391.9,440.3 395.8,434.5 399.7,429.2 403.6,424.7 407.4,420.8 M391.5,462.0 396.2,457.0 400.9,452.3 405.6,447.9 M399.7,441.5 404.1,436.2 408.5,431.3 412.9,426.8 M402.2,473.2 407.3,469.5 412.4,465.6 417.4,461.5 M389.0,454.6 393.7,446.5 398.3,438.5 403.0,430.5 M399.5,447.7 403.7,442.0 408.0,436.5 412.2,431.0 416.4,425.7 M399.3,431.0 403.8,424.0 408.4,417.5 412.9,411.5 M410.2,403.0 413.8,402.5 417.5,403.0 M410.2,427.9 413.7,424.9 417.3,422.3 420.8,420.0 M411.2,440.2 415.3,435.7 419.4,431.3 423.5,427.0 427.7,422.8 M388.1,476.6 392.0,473.6 395.8,470.5 399.6,467.4 M402.3,452.3 406.4,448.9 410.5,445.8 414.5,443.0 M407.8,421.7 412.6,414.1 417.5,406.8 422.3,399.8 M397.4,467.8 401.9,463.3 406.4,458.7 410.8,453.8 M394.6,452.6 399.2,446.5 403.7,440.7 408.2,435.0 M401.2,431.6 405.2,426.9 409.2,422.8 M389.6,454.0 393.5,448.9 397.3,444.3 M402.8,425.6 407.6,419.5 412.4,414.0 M407.5,450.8 412.0,448.6 416.6,447.0 M399.4,447.1 403.0,443.6 406.6,440.5 M386.1,483.0 390.4,480.8 394.6,478.3 398.8,475.7 M406.5,437.3 410.7,432.2 414.9,427.2 419.1,422.5 423.3,418.0 M407.4,444.8 412.0,441.5 416.7,438.7 421.3,436.4 M389.1,458.3 392.6,453.9 396.2,449.9 399.7,446.2 M399.4,449.5 404.0,443.4 408.6,437.2 M407.4,433.8 411.9,423.9 416.3,413.3 M399.6,437.8 404.5,429.2 409.3,420.7 414.2,412.3 M391.4,471.6 396.0,466.9 400.5,461.8 405.0,456.4 M399.4,453.2 403.6,448.4 407.8,443.7 412.0,439.2 416.2,434.9 M409.8,438.1 414.0,434.5 418.3,431.2 422.5,428.2 M393.8,459.5 397.5,454.6 401.3,449.7 405.0,444.7 M408.2,449.6 413.1,443.2 418.1,436.7 M395.1,454.3 399.3,448.3 403.4,442.2 407.5,436.0 411.7,429.8 M388.3,464.0 392.4,457.1 396.5,449.8 400.7,442.0 M403.7,438.5 407.5,432.8 411.4,427.0 M392.5,452.0 396.7,445.5 400.9,439.2 405.1,432.9 409.3,426.9 M400.5,434.9 404.4,429.0 408.2,423.3 412.1,417.8 416.0,412.6 M407.7,440.3 411.6,435.2 415.5,430.1 419.4,425.0 M409.3,467.2 413.5,464.8 417.6,462.4 421.8,460.0 M389.3,459.2 393.5,452.6 397.6,445.9 401.8,439.1 M398.5,445.3 402.4,440.6 406.2,436.2 410.1,432.1 M386.6,462.6 391.1,456.3 395.7,450.2 400.2,444.5 M392.2,453.1 397.2,446.6 402.1,440.6 407.1,435.1 M401.9,437.6 406.1,431.6 410.3,425.8 M410.0,456.8 414.7,452.0 419.5,447.0 424.2,442.0 M385.4,462.4 389.5,454.6 393.7,446.5 397.8,438.1 402.0,429.3 M384.4,463.7 388.3,457.5 392.2,451.4 396.1,445.4 M404.9,445.1 409.9,439.2 415.0,433.5 420.0,428.0 M387.1,467.6 391.6,462.4 396.0,457.5 M400.0,454.0 403.9,449.5 407.8,445.0 411.7,440.6 M388.5,456.5 393.6,450.4 398.6,445.3 403.7,441.2 M401.3,421.6 406.3,410.9 411.4,400.3 416.5,389.9 M404.6,454.4 408.3,448.7 412.0,442.7 M404.8,431.4 409.8,425.6 414.8,420.4 M410.7,438.5 414.3,432.8 417.9,426.8 421.5,420.8 M404.6,442.9 408.8,436.5 413.0,429.9 417.2,423.2 M402.0,433.5 406.5,426.4 411.1,419.6 M405.5,462.3 410.0,458.4 414.5,454.6 M404.1,436.3 408.3,430.8 412.5,425.6 416.6,420.7 M395.4,451.2 399.5,445.2 403.6,439.3 M388.5,458.2 393.1,452.0 397.7,446.3 402.4,441.0 M405.5,444.4 409.7,440.5 413.8,436.9 418.0,433.7 422.2,430.8 M392.0,465.7 395.5,462.4 399.0,459.3 402.5,456.3 M409.4,434.8 414.0,433.2 418.5,432.5 423.0,432.6 M385.0,461.7 389.4,453.3 393.9,444.4 M384.6,470.1 388.2,466.2 391.9,462.4 M401.0,439.2 404.6,432.2 408.3,425.1 M408.5,467.0 412.4,464.1 416.4,461.3 M410.7,429.9 414.5,425.6 418.3,421.5 M410.4,455.3 415.5,449.4 420.6,443.2 M392.3,465.1 397.2,459.6 402.1,454.0 M411.2,432.0 415.5,428.3 419.8,425.0 M403.0,433.2 407.4,424.6 411.7,415.8 416.0,406.8 M397.9,445.8 401.9,439.2 405.8,432.5 M397.0,459.5 401.7,455.0 406.4,450.8 M409.7,427.2 414.1,425.1 418.5,423.9 M392.0,464.4 396.9,458.3 401.9,452.2 M389.3,470.5 393.2,466.2 397.1,461.8 400.9,457.2 M397.0,460.3 400.9,455.4 404.9,450.4 408.8,445.3 412.7,440.2 M392.7,468.8 396.9,463.9 401.1,458.8 405.4,453.4 M403.4,445.8 408.1,439.3 412.8,432.8 417.4,426.3 M401.7,460.3 405.8,455.0 409.9,449.5 M398.1,469.1 401.6,467.2 405.2,465.5 M392.9,456.2 397.8,449.3 402.8,442.4 407.7,435.7 M395.7,469.6 400.1,466.1 404.6,462.7 409.0,459.3 M402.8,457.3 406.8,452.2 410.8,446.9 M392.4,448.8 396.7,444.1 401.1,440.1 405.4,437.1 M388.3,458.9 391.9,454.5 395.5,450.5 M385.4,459.6 389.0,454.0 392.5,448.6 M406.4,439.9 410.5,431.3 414.6,422.1 418.7,412.5 M391.9,458.6 395.9,454.0 400.0,449.8 404.0,445.9 M410.3,438.2 414.8,432.5 419.4,426.9 M384.9,460.8 389.2,454.0 393.4,447.5 397.7,441.2 401.9,435.4 M395.0,440.5 399.3,432.3 403.6,424.2 M392.9,457.4 397.3,452.4 401.6,447.6 M391.3,480.3 395.3,478.4 399.3,476.5 403.3,474.8 M388.5,460.1 393.5,452.3 398.4,444.4 403.4,436.4 M397.9,453.8 402.4,447.9 406.8,441.8 411.3,435.8 M397.2,448.1 402.2,440.9 407.3,433.8 412.3,426.9 M410.4,427.6 414.6,424.4 418.8,421.8 423.0,419.7 M395.2,440.4 400.0,431.5 404.8,422.8 M387.0,455.2 390.5,448.8 394.0,442.5 397.5,436.2 M385.8,461.8 389.8,455.5 393.7,449.3 397.6,443.2 401.6,437.2 M410.2,447.9 414.7,441.3 419.2,434.4 M385.0,468.6 389.5,462.7 394.1,456.8 398.6,450.9 M394.1,446.2 398.8,441.1 403.5,436.8 M385.1,467.0 389.3,461.6 393.5,456.4 M404.3,455.9 408.9,452.1 413.4,448.6 418.0,445.2 M406.3,426.8 410.6,420.6 414.9,414.8 419.1,409.2 423.4,403.9 M402.8,437.6 406.9,431.8 411.1,426.1 415.3,420.7 419.4,415.4 M394.0,451.4 397.4,445.4 400.9,439.3 404.3,433.0 M388.8,474.2 393.1,470.2 397.4,466.0 401.7,461.6 M398.5,458.8 402.6,454.4 406.7,450.0 410.8,445.6 415.0,441.3" fill="none" stroke="#999999" stroke-width="0.8"/></g>
<g clip-path="url(#cr1)"><path d="M387.3,439.7 392.3,427.1 397.4,414.9 402.4,403.3 M391.6,426.8 395.1,418.0 398.6,409.4 402.1,401.1 M392.1,427.5 396.3,417.4 400.4,407.8 404.5,398.4" fill="none" stroke="#aaaaaa" stroke-width="0.9"/></g>
<g clip-path="url(#cr1)"><path d="M434.7,423.2 439.4,419.0 444.2,414.9 448.9,411.0 M458.1,419.4 462.7,416.2 467.4,413.1 472.0,410.0 M462.6,431.5 466.9,428.8 471.3,426.2 475.6,423.7 M436.9,437.5 441.6,433.9 446.4,430.4 451.1,427.0 M437.4,385.3 441.7,380.4 446.0,375.7 450.2,371.2 M461.1,420.3 465.9,417.1 470.6,414.1 475.3,411.1 480.1,408.2 M433.0,436.5 437.4,433.0 441.9,429.6 446.3,426.2 M458.0,433.8 462.1,431.3 466.1,428.7 470.2,426.3 474.3,423.9 M471.9,397.6 476.2,394.6 480.6,391.7 484.9,388.9 M443.7,420.6 447.7,417.4 451.6,414.3 455.6,411.3 459.5,408.3 M431.0,451.0 435.9,447.6 440.8,444.3 445.7,441.0 450.6,437.7 M431.5,405.1 436.3,399.9 441.0,394.9 445.8,390.1 450.5,385.5 455.3,381.0" fill="none" stroke="#bdbdbd" stroke-width="0.7" stroke-dasharray="1.5 1.5"/></g>
<g clip-path="url(#cr2)"><path d="M393.8,669.4 397.7,662.4 401.5,655.5 405.4,648.7 M398.3,665.5 402.6,659.7 406.9,654.3 411.1,649.4 415.4,645.0 M393.1,675.3 398.2,668.5 403.3,662.5 408.4,657.2 M387.2,680.7 391.3,673.4 395.3,666.2 399.3,659.2 M385.5,694.6 389.6,689.1 393.7,683.4 397.9,677.6 M405.3,657.0 409.3,649.3 413.4,641.3 417.4,633.3 421.5,625.1 M415.8,640.2 419.7,633.0 423.6,625.7 427.5,618.4 M399.9,667.4 403.6,661.2 407.4,655.1 411.1,648.9 M413.6,654.9 417.3,649.1 421.0,643.1 424.8,637.1 M400.8,666.7 404.3,657.5 407.8,647.7 M406.4,643.6 411.0,641.8 415.7,641.6 M391.9,676.5 396.0,669.0 400.1,661.3 404.2,653.6 408.4,645.8 M403.9,677.5 408.2,672.7 412.5,668.0 416.7,663.5 421.0,659.0 M407.4,652.8 411.4,644.9 415.5,636.9 M414.2,639.6 418.9,632.9 423.7,626.6 M404.0,655.8 408.5,651.2 413.0,647.3 417.5,644.3 M395.8,672.7 400.1,666.3 404.4,660.1 408.7,654.0 413.0,648.2 M384.6,687.3 388.2,680.8 391.8,674.2 395.3,667.5 M386.9,680.7 391.1,674.4 395.4,668.9 399.6,664.2 403.9,660.2 M389.9,675.7 393.7,667.7 397.4,659.3 401.1,650.7 M400.2,663.8 403.7,660.2 407.2,657.2 M399.6,643.6 403.2,632.3 406.7,620.4 410.3,607.9 M399.7,660.0 403.8,652.7 407.9,645.5 412.0,638.5 416.1,631.5 M400.7,654.1 405.3,641.4 410.0,628.0 M387.4,683.5 392.1,675.7 396.7,668.0 401.3,660.3 M384.4,692.5 388.0,686.6 391.5,680.3 395.1,673.6 M387.3,686.7 392.1,679.8 397.0,673.2 M386.3,687.4 390.6,681.6 394.9,676.1 399.2,671.1 M409.0,671.4 413.1,667.9 417.2,664.8 M391.7,669.3 395.8,660.0 400.0,650.4 404.1,640.6 M402.8,647.6 407.1,638.1 411.4,628.4 415.8,618.7 M399.9,656.6 404.0,648.3 408.1,639.9 412.1,631.5 416.2,623.1 M404.8,659.8 408.8,654.2 412.7,648.7 416.6,643.3 420.5,638.2 M412.4,646.7 416.8,638.0 421.1,629.1 425.5,620.0 M395.6,670.1 399.3,663.0 403.1,655.7 406.8,648.3 M415.8,649.8 420.5,644.2 425.2,638.9 429.9,633.9 M408.1,638.4 411.8,631.6 415.6,624.9 M398.8,659.3 403.6,651.6 408.4,644.4 M394.6,665.6 398.3,661.2 402.0,657.7 M385.1,690.1 388.9,684.5 392.6,678.9 396.3,673.3 M406.8,643.6 411.2,633.3 415.6,622.6 M409.6,648.2 413.1,644.2 416.7,640.5 420.2,637.1 M411.8,653.8 416.8,647.6 421.8,641.8 426.7,636.4 M382.7,693.4 387.5,686.1 392.4,678.6 M413.0,639.3 417.2,635.1 421.4,631.4 425.6,628.3 M414.8,638.6 419.1,630.8 423.5,623.1 427.9,615.4 M385.6,690.9 390.6,683.9 395.5,676.9 400.5,670.0 M408.4,642.0 412.5,634.7 416.6,627.6 420.7,620.7 M384.8,689.4 388.4,684.9 391.9,680.8 395.5,677.3 M413.8,630.0 417.8,625.6 421.8,621.8 425.8,618.6 M398.5,656.0 403.6,643.7 408.7,631.0 413.8,617.8 M399.9,661.9 403.4,655.6 406.9,649.4 410.4,643.3 M389.3,678.5 393.3,670.5 397.4,662.4 M396.1,676.0 400.0,671.0 404.0,666.2 407.9,661.7 M414.5,639.9 418.2,631.2 421.9,622.2 M416.0,632.6 419.9,624.9 423.8,617.3 427.7,609.6 M395.5,668.4 399.0,664.1 402.5,660.3 406.0,657.0 M408.3,642.3 412.4,635.9 416.5,629.9 420.6,624.1 M414.2,629.6 418.2,623.0 422.1,616.6 426.0,610.4 429.9,604.5 M407.9,665.2 412.7,660.7 417.5,656.7 422.3,653.3 M398.4,650.6 402.1,644.5 405.9,638.9 M387.3,689.7 391.2,684.3 395.1,678.9 399.1,673.5 403.0,668.3 M414.9,644.9 418.8,640.2 422.7,635.8 426.6,631.7 M392.6,674.2 397.3,664.9 402.1,655.4 406.9,645.6 M410.1,635.1 414.0,629.0 417.9,623.2 421.8,617.8 M395.5,660.2 400.3,651.1 405.2,642.3 410.1,634.0 M388.5,686.0 393.2,678.3 397.9,670.3 402.6,662.0 M415.0,642.2 419.1,636.1 423.1,630.2 427.1,624.5 431.1,618.9 M385.5,692.8 389.7,686.1 393.9,678.7 398.1,670.9 402.3,662.6 M393.8,672.2 398.1,662.4 402.3,651.8" fill="none" stroke="#a4a4a4" stroke-width="0.8"/></g>
<g clip-path="url(#cr2)"><path d="M410.0,665.5 414.7,659.5 419.3,653.6 424.0,647.8 M416.2,646.0 420.8,639.3 425.3,632.8 429.9,626.4 M408.5,652.3 412.1,646.6 415.7,640.9 419.3,635.3 M446.5,627.9 451.0,623.1 455.5,618.5 460.0,614.0 M434.8,639.9 439.7,634.4 444.6,629.1 449.4,623.9 M407.9,670.9 412.2,665.6 416.5,660.3 420.8,655.1 425.1,649.9 429.4,644.9 M408.0,661.6 412.9,654.5 417.9,647.5 422.9,640.6 M424.6,629.4 428.5,623.8 432.4,618.3 436.2,613.0 M416.7,657.6 421.0,652.3 425.2,647.0 429.5,641.8 433.7,636.7 438.0,631.7 M434.6,630.4 439.0,625.1 443.4,619.9 447.8,614.8 M445.9,624.3 449.9,619.9 453.9,615.7 457.9,611.5 461.9,607.4 M415.6,657.1 419.9,651.5 424.2,646.1 428.5,640.7 432.8,635.4 M394.7,688.0 399.3,682.5 404.0,676.9 408.7,671.2 M423.4,626.3 427.4,620.3 431.3,614.4 435.3,608.6 439.2,603.0 M413.5,649.9 418.3,642.8 423.1,635.9 427.9,629.1 432.7,622.5 M445.6,615.3 449.1,611.3 452.5,607.4 456.0,603.5 M430.3,635.0 434.2,630.1 438.1,625.3 442.0,620.5 445.9,615.9 M402.0,664.0 406.3,657.1 410.6,650.3 414.9,643.6 M440.1,624.9 444.9,619.3 449.7,613.8 454.5,608.5 459.3,603.4 464.1,598.4 M397.0,675.1 401.1,668.9 405.2,662.7 409.3,656.6" fill="none" stroke="#bdbdbd" stroke-width="0.7" stroke-dasharray="1.5 1.5"/></g>
<g clip-path="url(#cr2)"><path d="M416.3,678.8 420.6,674.9 424.9,671.1 M417.6,684.7 421.3,681.8 425.0,678.9 428.7,676.0 M415.9,673.0 419.6,669.4 423.2,665.7 M418.9,680.1 423.3,676.4 427.8,672.7 432.2,668.9 M415.6,679.7 419.9,675.9 424.3,672.0 428.6,668.1 M413.8,684.7 418.9,680.6 424.0,676.4 M419.0,683.0 423.3,679.7 427.6,676.3 M419.6,679.0 424.1,675.2 428.7,671.4 433.2,667.5 M415.7,684.6 420.3,681.0 424.9,677.3 429.4,673.6 M420.5,680.3 424.3,677.3 428.0,674.2 431.8,671.2 M417.3,680.6 420.8,677.6 424.3,674.7 427.7,671.7 M417.3,680.9 421.0,677.7 424.7,674.6 M421.2,679.9 425.4,676.5 429.6,673.0 433.8,669.6 M423.5,675.4 428.6,671.1 433.6,666.8" fill="none" stroke="#a8a8a8" stroke-width="0.8"/></g>
<g clip-path="url(#cl0)" fill="none" stroke="#000" stroke-width="1.8">
<path d="M62.90,266.50 L64.61,263.87 L66.33,260.59 L68.05,257.07 L69.76,253.40 L71.47,249.66 L73.19,245.86 L74.91,242.04 L76.62,238.22 L78.33,234.40 L80.05,230.59 L81.77,226.81 L83.48,223.06 L85.19,219.35 L86.91,215.67 L88.62,212.04 L90.34,208.45 L92.06,204.91 L93.77,201.42 L95.48,197.98 L97.20,194.59 L98.91,191.25 L100.63,187.97 L102.34,184.74 L104.06,181.56 L105.78,178.44 L107.49,175.37 L109.20,172.35 L110.92,169.39 L112.63,166.48 L114.35,163.63 L116.06,160.82 L117.78,158.07 L119.50,155.38 L121.21,152.73 L122.93,150.13 L124.64,147.59 L126.36,145.09 L128.07,142.64 L129.78,140.24 L131.50,137.89 L133.22,135.58 L134.93,133.32 L136.65,131.11 L138.36,128.94 L140.07,126.82 L141.79,124.73 L143.50,122.70 L145.22,120.70 L146.94,118.74 L148.65,116.83 L150.37,114.95 L152.08,113.11 L153.80,111.32 L155.51,109.56 L157.22,107.83 L158.94,106.14 L160.66,104.49 L162.37,102.88 L164.09,101.29 L165.80,99.74 L167.52,98.23 L169.23,96.74 L170.94,95.29 L172.66,93.87 L174.38,92.48 L176.09,91.12 L177.81,89.79 L179.52,88.49 L181.24,87.21 L182.95,85.97 L184.66,84.75 L186.38,83.55 L188.09,82.39 L189.81,81.24 L191.53,80.13 L193.24,79.03 L194.96,77.97 L196.67,76.92 L198.39,75.90 L200.10,74.90 L201.82,73.92 L203.53,72.96 L205.25,72.03 L206.96,71.11 L208.68,70.22 L210.39,69.34 L212.11,68.48 L213.82,67.65 L215.54,66.83 L217.25,66.03 L218.97,65.24 L220.68,64.48 L222.40,63.73 L224.11,63.00 L225.83,62.28 L227.54,61.58 L229.26,60.90 L230.97,60.23 L232.69,59.57 L234.40,58.93 L236.12,58.31 L237.83,57.70 L239.55,57.10 L241.26,56.51 L242.98,55.94 L244.69,55.38 L246.41,54.84 L248.12,54.30 L249.84,53.78 L251.55,53.27 L253.27,52.84"/>
<path d="M62.90,266.50 L64.61,264.89 L66.33,262.78 L68.05,260.45 L69.76,257.98 L71.47,255.42 L73.19,252.79 L74.91,250.10 L76.62,247.39 L78.33,244.64 L80.05,241.88 L81.77,239.11 L83.48,236.34 L85.19,233.56 L86.91,230.79 L88.62,228.03 L90.34,225.28 L92.06,222.54 L93.77,219.82 L95.48,217.12 L97.20,214.43 L98.91,211.77 L100.63,209.13 L102.34,206.51 L104.06,203.91 L105.78,201.34 L107.49,198.80 L109.20,196.28 L110.92,193.79 L112.63,191.32 L114.35,188.88 L116.06,186.47 L117.78,184.09 L119.50,181.74 L121.21,179.41 L122.93,177.11 L124.64,174.85 L126.36,172.61 L128.07,170.39 L129.78,168.21 L131.50,166.06 L133.22,163.93 L134.93,161.83 L136.65,159.76 L138.36,157.72 L140.07,155.71 L141.79,153.72 L143.50,151.77 L145.22,149.83 L146.94,147.93 L148.65,146.05 L150.37,144.20 L152.08,142.38 L153.80,140.58 L155.51,138.81 L157.22,137.07 L158.94,135.35 L160.66,133.65 L162.37,131.98 L164.09,130.34 L165.80,128.72 L167.52,127.12 L169.23,125.55 L170.94,124.00 L172.66,122.48 L174.38,120.97 L176.09,119.50 L177.81,118.04 L179.52,116.60 L181.24,115.19 L182.95,113.80 L184.66,112.43 L186.38,111.08 L188.09,109.76 L189.81,108.45 L191.53,107.16 L193.24,105.90 L194.96,104.65 L196.67,103.43 L198.39,102.22 L200.10,101.03 L201.82,99.86 L203.53,98.71 L205.25,97.58 L206.96,96.46 L208.68,95.36 L210.39,94.28 L212.11,93.22 L213.82,92.17 L215.54,91.15 L217.25,90.13 L218.97,89.14 L220.68,88.16 L222.40,87.19 L224.11,86.24 L225.83,85.31 L227.54,84.39 L229.26,83.49 L230.97,82.60 L232.69,81.72 L234.40,80.86 L236.12,80.01 L237.83,79.18 L239.55,78.36 L241.26,77.56 L242.98,76.76 L244.69,75.98 L246.41,75.22 L248.12,74.46 L249.84,73.72 L251.55,72.99 L253.27,72.27 L254.98,71.56 L256.69,70.87 L258.41,70.19 L260.12,69.51 L261.84,68.85 L263.56,68.20 L265.27,67.56 L266.99,66.93 L268.70,66.31 L270.42,65.71 L272.13,65.11 L273.85,64.52 L275.56,63.94 L277.27,63.37 L278.99,62.81 L280.70,62.26 L282.42,61.72 L284.13,61.19 L285.85,60.66 L287.56,60.15 L289.28,59.64 L291.00,59.14 L292.71,58.65 L294.43,58.17 L296.14,57.70 L297.86,57.23 L299.57,56.78 L301.29,56.33 L303.00,55.88 L304.71,55.45 L306.43,55.02 L308.14,54.60 L309.86,54.18 L311.57,53.78 L313.29,53.38 L315.00,52.98 L316.72,52.84"/>
<path d="M62.90,266.50 L64.61,265.25 L66.33,263.68 L68.05,261.98 L69.76,260.19 L71.47,258.33 L73.19,256.44 L74.91,254.50 L76.62,252.55 L78.33,250.57 L80.05,248.58 L81.77,246.57 L83.48,244.56 L85.19,242.55 L86.91,240.53 L88.62,238.52 L90.34,236.50 L92.06,234.49 L93.77,232.49 L95.48,230.49 L97.20,228.49 L98.91,226.51 L100.63,224.53 L102.34,222.57 L104.06,220.61 L105.78,218.66 L107.49,216.73 L109.20,214.81 L110.92,212.90 L112.63,211.00 L114.35,209.11 L116.06,207.24 L117.78,205.38 L119.50,203.54 L121.21,201.71 L122.93,199.89 L124.64,198.09 L126.36,196.30 L128.07,194.53 L129.78,192.77 L131.50,191.03 L133.22,189.30 L134.93,187.59 L136.65,185.89 L138.36,184.21 L140.07,182.54 L141.79,180.89 L143.50,179.25 L145.22,177.63 L146.94,176.02 L148.65,174.43 L150.37,172.85 L152.08,171.29 L153.80,169.74 L155.51,168.21 L157.22,166.69 L158.94,165.19 L160.66,163.70 L162.37,162.23 L164.09,160.77 L165.80,159.33 L167.52,157.90 L169.23,156.48 L170.94,155.08 L172.66,153.70 L174.38,152.33 L176.09,150.97 L177.81,149.62 L179.52,148.29 L181.24,146.98 L182.95,145.67 L184.66,144.39 L186.38,143.11 L188.09,141.85 L189.81,140.60 L191.53,139.36 L193.24,138.14 L194.96,136.93 L196.67,135.74 L198.39,134.55 L200.10,133.38 L201.82,132.22 L203.53,131.08 L205.25,129.94 L206.96,128.82 L208.68,127.71 L210.39,126.62 L212.11,125.53 L213.82,124.46 L215.54,123.40 L217.25,122.35 L218.97,121.31 L220.68,120.28 L222.40,119.27 L224.11,118.27 L225.83,117.27 L227.54,116.29 L229.26,115.32 L230.97,114.36 L232.69,113.41 L234.40,112.47 L236.12,111.54 L237.83,110.63 L239.55,109.72 L241.26,108.82 L242.98,107.93 L244.69,107.06 L246.41,106.19 L248.12,105.33 L249.84,104.48 L251.55,103.64 L253.27,102.81 L254.98,102.00 L256.69,101.18 L258.41,100.38 L260.12,99.59 L261.84,98.81 L263.56,98.04 L265.27,97.27 L266.99,96.51 L268.70,95.77 L270.42,95.03 L272.13,94.30 L273.85,93.57 L275.56,92.86 L277.27,92.15 L278.99,91.46 L280.70,90.77 L282.42,90.08 L284.13,89.41 L285.85,88.74 L287.56,88.09 L289.28,87.44 L291.00,86.79 L292.71,86.16 L294.43,85.53 L296.14,84.91 L297.86,84.29 L299.57,83.69 L301.29,83.09 L303.00,82.49 L304.71,81.91 L306.43,81.33 L308.14,80.75 L309.86,80.19 L311.57,79.63 L313.29,79.08 L315.00,78.53 L316.72,77.99 L318.44,77.46 L320.15,76.93 L321.87,76.41"/>
<path d="M62.90,266.50 L64.61,266.08 L66.33,265.43 L68.05,264.67 L69.76,263.82 L71.47,262.91 L73.19,261.94 L74.91,260.92 L76.62,259.87 L78.33,258.78 L80.05,257.66 L81.77,256.51 L83.48,255.35 L85.19,254.16 L86.91,252.95 L88.62,251.73 L90.34,250.49 L92.06,249.24 L93.77,247.98 L95.48,246.71 L97.20,245.43 L98.91,244.14 L100.63,242.85 L102.34,241.55 L104.06,240.24 L105.78,238.94 L107.49,237.63 L109.20,236.31 L110.92,235.00 L112.63,233.68 L114.35,232.37 L116.06,231.05 L117.78,229.74 L119.50,228.42 L121.21,227.11 L122.93,225.80 L124.64,224.49 L126.36,223.18 L128.07,221.88 L129.78,220.58 L131.50,219.28 L133.22,217.99 L134.93,216.70 L136.65,215.41 L138.36,214.13 L140.07,212.86 L141.79,211.59 L143.50,210.32 L145.22,209.06 L146.94,207.80 L148.65,206.55 L150.37,205.31 L152.08,204.07 L153.80,202.84 L155.51,201.61 L157.22,200.39 L158.94,199.18 L160.66,197.97 L162.37,196.77 L164.09,195.58 L165.80,194.39 L167.52,193.21 L169.23,192.03 L170.94,190.87 L172.66,189.71 L174.38,188.56 L176.09,187.41 L177.81,186.27 L179.52,185.14 L181.24,184.01 L182.95,182.90 L184.66,181.79 L186.38,180.68 L188.09,179.59 L189.81,178.50 L191.53,177.42 L193.24,176.35 L194.96,175.28 L196.67,174.22 L198.39,173.17 L200.10,172.13 L201.82,171.09 L203.53,170.06 L205.25,169.04 L206.96,168.03 L208.68,167.02 L210.39,166.02 L212.11,165.03 L213.82,164.04 L215.54,163.07 L217.25,162.10 L218.97,161.13 L220.68,160.18 L222.40,159.23 L224.11,158.29 L225.83,157.36 L227.54,156.43 L229.26,155.51 L230.97,154.60 L232.69,153.69 L234.40,152.79 L236.12,151.90 L237.83,151.02 L239.55,150.14 L241.26,149.27 L242.98,148.41 L244.69,147.56 L246.41,146.71 L248.12,145.86 L249.84,145.03 L251.55,144.20 L253.27,143.38 L254.98,142.56 L256.69,141.76 L258.41,140.95 L260.12,140.16 L261.84,139.37 L263.56,138.59 L265.27,137.81 L266.99,137.05 L268.70,136.28 L270.42,135.53 L272.13,134.78 L273.85,134.04 L275.56,133.30 L277.27,132.57 L278.99,131.84 L280.70,131.13 L282.42,130.41 L284.13,129.71 L285.85,129.01 L287.56,128.31 L289.28,127.63 L291.00,126.94 L292.71,126.27 L294.43,125.60 L296.14,124.93 L297.86,124.28 L299.57,123.62 L301.29,122.98 L303.00,122.33 L304.71,121.70 L306.43,121.07 L308.14,120.44 L309.86,119.82 L311.57,119.21 L313.29,118.60 L315.00,118.00 L316.72,117.40 L318.44,116.81 L320.15,116.22 L321.87,115.64"/>
<path d="M62.90,266.50 L64.61,264.96 L66.33,262.75 L68.05,260.19 L69.76,257.41 L71.47,254.46 L73.19,251.38 L74.91,248.20 L76.62,244.94 L78.33,241.61 L80.05,238.23 L81.77,234.81 L83.48,231.36 L85.19,227.88 L86.91,224.39 L88.62,220.88 L90.34,217.36 L92.06,213.85 L93.77,210.33 L95.48,206.82 L97.20,203.32 L98.91,199.83 L100.63,196.35 L102.34,192.89 L104.06,189.44 L105.78,186.02 L107.49,182.61 L109.20,179.23 L110.92,175.87 L112.63,172.54 L114.35,169.23 L116.06,165.95 L117.78,162.70 L119.50,159.47 L121.21,156.28 L122.93,153.11 L124.64,149.98 L126.36,146.87 L128.07,143.80 L129.78,140.75 L131.50,137.74 L133.22,134.76 L134.93,131.82 L136.65,128.90 L138.36,126.02 L140.07,123.17 L141.79,120.35 L143.50,117.56 L145.22,114.81 L146.94,112.09 L148.65,109.40 L150.37,106.74 L152.08,104.12 L153.80,101.53 L155.51,98.97 L157.22,96.44 L158.94,93.94 L160.66,91.48 L162.37,89.04 L164.09,86.64 L165.80,84.27 L167.52,81.93 L169.23,79.62 L170.94,77.34 L172.66,75.09 L174.38,72.87 L176.09,70.68 L177.81,68.52 L179.52,66.38 L181.24,64.28 L182.95,62.20 L184.66,60.16 L186.38,58.14 L188.09,56.15 L189.81,54.18 L191.53,52.84" stroke-dasharray="1.3 2.95"/>
<path d="M62.90,266.50 L64.61,265.01 L66.33,262.98 L68.05,260.73 L69.76,258.31 L71.47,255.79 L73.19,253.19 L74.91,250.53 L76.62,247.82 L78.33,245.08 L80.05,242.31 L81.77,239.52 L83.48,236.72 L85.19,233.92 L86.91,231.11 L88.62,228.30 L90.34,225.50 L92.06,222.71 L93.77,219.93 L95.48,217.16 L97.20,214.41 L98.91,211.67 L100.63,208.95 L102.34,206.25 L104.06,203.57 L105.78,200.91 L107.49,198.28 L109.20,195.67 L110.92,193.08 L112.63,190.51 L114.35,187.97 L116.06,185.46 L117.78,182.97 L119.50,180.51 L121.21,178.07 L122.93,175.66 L124.64,173.28 L126.36,170.93 L128.07,168.60 L129.78,166.30 L131.50,164.03 L133.22,161.78 L134.93,159.56 L136.65,157.37 L138.36,155.21 L140.07,153.07 L141.79,150.96 L143.50,148.88 L145.22,146.83 L146.94,144.80 L148.65,142.79 L150.37,140.82 L152.08,138.87 L153.80,136.95 L155.51,135.05 L157.22,133.18 L158.94,131.33 L160.66,129.51 L162.37,127.71 L164.09,125.94 L165.80,124.19 L167.52,122.47 L169.23,120.77 L170.94,119.10 L172.66,117.45 L174.38,115.82 L176.09,114.22 L177.81,112.64 L179.52,111.08 L181.24,109.54 L182.95,108.03 L184.66,106.54 L186.38,105.07 L188.09,103.62 L189.81,102.19 L191.53,100.79 L193.24,99.40 L194.96,98.04 L196.67,96.69 L198.39,95.37 L200.10,94.06 L201.82,92.78 L203.53,91.51 L205.25,90.26 L206.96,89.03 L208.68,87.82 L210.39,86.63 L212.11,85.45 L213.82,84.30 L215.54,83.16 L217.25,82.04 L218.97,80.93 L220.68,79.84 L222.40,78.77 L224.11,77.72 L225.83,76.68 L227.54,75.65 L229.26,74.64 L230.97,73.65 L232.69,72.68 L234.40,71.71 L236.12,70.77 L237.83,69.83 L239.55,68.92 L241.26,68.01 L242.98,67.12 L244.69,66.25 L246.41,65.38 L248.12,64.53 L249.84,63.70 L251.55,62.87 L253.27,62.06 L254.98,61.27 L256.69,60.48 L258.41,59.71 L260.12,58.95 L261.84,58.20 L263.56,57.46 L265.27,56.74 L266.99,56.02 L268.70,55.32 L270.42,54.63 L272.13,53.95 L273.85,53.28 L275.56,52.84" stroke-dasharray="1.3 2.95"/>
<path d="M62.90,266.50 L64.61,264.67 L66.33,262.64 L68.05,260.55 L69.76,258.42 L71.47,256.28 L73.19,254.14 L74.91,251.99 L76.62,249.84 L78.33,247.70 L80.05,245.57 L81.77,243.44 L83.48,241.33 L85.19,239.24 L86.91,237.15 L88.62,235.09 L90.34,233.03 L92.06,231.00 L93.77,228.98 L95.48,226.98 L97.20,225.00 L98.91,223.03 L100.63,221.08 L102.34,219.15 L104.06,217.24 L105.78,215.35 L107.49,213.48 L109.20,211.62 L110.92,209.79 L112.63,207.97 L114.35,206.17 L116.06,204.39 L117.78,202.63 L119.50,200.89 L121.21,199.17 L122.93,197.46 L124.64,195.78 L126.36,194.11 L128.07,192.46 L129.78,190.83 L131.50,189.22 L133.22,187.62 L134.93,186.04 L136.65,184.48 L138.36,182.94 L140.07,181.42 L141.79,179.91 L143.50,178.42 L145.22,176.95 L146.94,175.49 L148.65,174.05 L150.37,172.63 L152.08,171.22 L153.80,169.83 L155.51,168.46 L157.22,167.10 L158.94,165.75 L160.66,164.43 L162.37,163.12 L164.09,161.82 L165.80,160.54 L167.52,159.28 L169.23,158.02 L170.94,156.79 L172.66,155.57 L174.38,154.36 L176.09,153.17 L177.81,151.99 L179.52,150.83 L181.24,149.68 L182.95,148.54 L184.66,147.42 L186.38,146.31 L188.09,145.21 L189.81,144.13 L191.53,143.06 L193.24,142.01 L194.96,140.96 L196.67,139.93 L198.39,138.91 L200.10,137.91 L201.82,136.91 L203.53,135.93 L205.25,134.96 L206.96,134.00 L208.68,133.05 L210.39,132.12 L212.11,131.19 L213.82,130.28 L215.54,129.38 L217.25,128.49 L218.97,127.61 L220.68,126.74 L222.40,125.88 L224.11,125.03 L225.83,124.20 L227.54,123.37 L229.26,122.55 L230.97,121.75 L232.69,120.95 L234.40,120.16 L236.12,119.39 L237.83,118.62 L239.55,117.86 L241.26,117.11 L242.98,116.37 L244.69,115.64 L246.41,114.92 L248.12,114.20 L249.84,113.50 L251.55,112.81 L253.27,112.12 L254.98,111.44 L256.69,110.77 L258.41,110.11 L260.12,109.46 L261.84,108.81 L263.56,108.17 L265.27,107.54 L266.99,106.92 L268.70,106.31 L270.42,105.70 L272.13,105.10 L273.85,104.51 L275.56,103.93 L277.27,103.35 L278.99,102.78 L280.70,102.22 L282.42,101.67 L284.13,101.12 L285.85,100.58 L287.56,100.04 L289.28,99.51 L291.00,98.99 L292.71,98.48 L294.43,97.97 L296.14,97.47 L297.86,96.97 L299.57,96.48 L301.29,96.00 L303.00,95.52 L304.71,95.05 L306.43,94.58 L308.14,94.12 L309.86,93.67 L311.57,93.22 L313.29,92.78 L315.00,92.34 L316.72,91.91 L318.44,91.48 L320.15,91.06 L321.87,90.65" stroke-dasharray="1.3 2.95"/>
<path d="M62.90,266.50 L64.61,265.29 L66.33,264.07 L68.05,262.84 L69.76,261.61 L71.47,260.39 L73.19,259.18 L74.91,257.97 L76.62,256.76 L78.33,255.56 L80.05,254.37 L81.77,253.18 L83.48,252.00 L85.19,250.82 L86.91,249.66 L88.62,248.50 L90.34,247.34 L92.06,246.19 L93.77,245.05 L95.48,243.92 L97.20,242.79 L98.91,241.67 L100.63,240.56 L102.34,239.45 L104.06,238.35 L105.78,237.25 L107.49,236.17 L109.20,235.09 L110.92,234.01 L112.63,232.94 L114.35,231.88 L116.06,230.83 L117.78,229.78 L119.50,228.74 L121.21,227.71 L122.93,226.68 L124.64,225.66 L126.36,224.64 L128.07,223.63 L129.78,222.63 L131.50,221.64 L133.22,220.65 L134.93,219.66 L136.65,218.69 L138.36,217.71 L140.07,216.75 L141.79,215.79 L143.50,214.84 L145.22,213.89 L146.94,212.95 L148.65,212.02 L150.37,211.09 L152.08,210.17 L153.80,209.25 L155.51,208.34 L157.22,207.44 L158.94,206.54 L160.66,205.65 L162.37,204.76 L164.09,203.88 L165.80,203.00 L167.52,202.13 L169.23,201.27 L170.94,200.41 L172.66,199.55 L174.38,198.71 L176.09,197.86 L177.81,197.03 L179.52,196.20 L181.24,195.37 L182.95,194.55 L184.66,193.73 L186.38,192.92 L188.09,192.12 L189.81,191.32 L191.53,190.53 L193.24,189.74 L194.96,188.95 L196.67,188.17 L198.39,187.40 L200.10,186.63 L201.82,185.87 L203.53,185.11 L205.25,184.35 L206.96,183.61 L208.68,182.86 L210.39,182.12 L212.11,181.39 L213.82,180.66 L215.54,179.93 L217.25,179.21 L218.97,178.50 L220.68,177.79 L222.40,177.08 L224.11,176.38 L225.83,175.68 L227.54,174.99 L229.26,174.31 L230.97,173.62 L232.69,172.94 L234.40,172.27 L236.12,171.60 L237.83,170.93 L239.55,170.27 L241.26,169.62 L242.98,168.96 L244.69,168.32 L246.41,167.67 L248.12,167.03 L249.84,166.40 L251.55,165.77 L253.27,165.14 L254.98,164.52 L256.69,163.90 L258.41,163.28 L260.12,162.67 L261.84,162.07 L263.56,161.46 L265.27,160.86 L266.99,160.27 L268.70,159.68 L270.42,159.09 L272.13,158.51 L273.85,157.93 L275.56,157.35 L277.27,156.78 L278.99,156.21 L280.70,155.65 L282.42,155.09 L284.13,154.53 L285.85,153.98 L287.56,153.43 L289.28,152.88 L291.00,152.34 L292.71,151.80 L294.43,151.27 L296.14,150.74 L297.86,150.21 L299.57,149.68 L301.29,149.16 L303.00,148.64 L304.71,148.13 L306.43,147.62 L308.14,147.11 L309.86,146.61 L311.57,146.11 L313.29,145.61 L315.00,145.11 L316.72,144.62 L318.44,144.14 L320.15,143.65 L321.87,143.17" stroke-dasharray="1.3 2.95"/>
</g>
<g clip-path="url(#cr0)" fill="none" stroke="#000" stroke-width="1.8">
<path d="M351.50,266.50 L353.21,266.49 L354.93,266.45 L356.64,266.32 L358.36,266.07 L360.07,265.67 L361.79,265.09 L363.50,264.31 L365.22,263.33 L366.94,262.12 L368.65,260.68 L370.37,259.02 L372.08,257.14 L373.80,255.03 L375.51,252.71 L377.23,250.18 L378.94,247.46 L380.65,244.55 L382.37,241.47 L384.08,238.23 L385.80,234.84 L387.51,231.32 L389.23,227.67 L390.94,223.92 L392.66,220.07 L394.38,216.14 L396.09,212.14 L397.81,208.07 L399.52,203.96 L401.24,199.81 L402.95,195.63 L404.67,191.43 L406.38,187.22 L408.10,183.01 L409.81,178.81 L411.52,174.62 L413.24,170.45 L414.95,166.31 L416.67,162.20 L418.38,158.13 L420.10,154.10 L421.81,150.11 L423.53,146.18 L425.25,142.30 L426.96,138.48 L428.68,134.72 L430.39,131.03 L432.11,127.39 L433.82,123.83 L435.54,120.33 L437.25,116.90 L438.97,113.54 L440.68,110.25 L442.39,107.03 L444.11,103.88 L445.82,100.81 L447.54,97.80 L449.25,94.87 L450.97,92.01 L452.69,89.22 L454.40,86.50 L456.12,83.85 L457.83,81.27 L459.55,78.76 L461.26,76.31 L462.98,73.93 L464.69,71.62 L466.40,69.37 L468.12,67.18 L469.84,65.06 L471.55,62.99 L473.26,60.99 L474.98,59.05 L476.69,57.16 L478.41,55.38"/>
<path d="M351.50,266.50 L353.21,266.49 L354.93,266.42 L356.64,266.25 L358.36,265.98 L360.07,265.58 L361.79,265.04 L363.50,264.35 L365.22,263.51 L366.94,262.52 L368.65,261.39 L370.37,260.10 L372.08,258.67 L373.80,257.10 L375.51,255.40 L377.23,253.56 L378.94,251.61 L380.65,249.54 L382.37,247.35 L384.08,245.07 L385.80,242.69 L387.51,240.23 L389.23,237.68 L390.94,235.06 L392.66,232.38 L394.38,229.63 L396.09,226.83 L397.81,223.98 L399.52,221.09 L401.24,218.17 L402.95,215.22 L404.67,212.24 L406.38,209.24 L408.10,206.22 L409.81,203.20 L411.52,200.17 L413.24,197.14 L414.95,194.11 L416.67,191.09 L418.38,188.07 L420.10,185.07 L421.81,182.09 L423.53,179.12 L425.25,176.17 L426.96,173.24 L428.68,170.34 L430.39,167.47 L432.11,164.63 L433.82,161.81 L435.54,159.03 L437.25,156.29 L438.97,153.57 L440.68,150.90 L442.39,148.26 L444.11,145.65 L445.82,143.09 L447.54,140.56 L449.25,138.08 L450.97,135.63 L452.69,133.23 L454.40,130.86 L456.12,128.54 L457.83,126.26 L459.55,124.02 L461.26,121.82 L462.98,119.66 L464.69,117.54 L466.40,115.47 L468.12,113.43 L469.84,111.44 L471.55,109.48 L473.26,107.57 L474.98,105.69 L476.69,103.86 L478.41,102.06 L480.12,100.30 L481.84,98.58 L483.56,96.89 L485.27,95.25 L486.99,93.64 L488.70,92.06 L490.42,90.53 L492.13,89.02 L493.85,87.55 L495.56,86.12 L497.27,84.72 L498.99,83.35 L500.71,82.01 L502.42,80.70 L504.13,79.43 L505.85,78.19 L507.56,76.97 L509.28,75.79 L511.00,74.63 L512.71,73.50 L514.42,72.40 L516.14,71.33 L517.86,70.28 L519.57,69.26 L521.28,68.27 L523.00,67.30 L524.72,66.35 L526.43,65.43 L528.14,64.53 L529.86,63.65 L531.58,62.80 L533.29,61.97 L535.00,61.16 L536.72,60.37 L538.43,59.60 L540.15,58.85 L541.87,58.12 L543.58,57.41 L545.30,56.71 L547.01,56.04 L548.73,55.38 L550.44,55.38"/>
<path d="M351.50,266.50 L353.21,266.50 L354.93,266.48 L356.64,266.44 L358.36,266.36 L360.07,266.22 L361.79,266.02 L363.50,265.76 L365.22,265.42 L366.94,264.99 L368.65,264.48 L370.37,263.89 L372.08,263.20 L373.80,262.42 L375.51,261.56 L377.23,260.60 L378.94,259.56 L380.65,258.43 L382.37,257.21 L384.08,255.92 L385.80,254.55 L387.51,253.10 L389.23,251.58 L390.94,250.00 L392.66,248.35 L394.38,246.65 L396.09,244.89 L397.81,243.08 L399.52,241.22 L401.24,239.32 L402.95,237.38 L404.67,235.41 L406.38,233.40 L408.10,231.37 L409.81,229.31 L411.52,227.23 L413.24,225.13 L414.95,223.02 L416.67,220.90 L418.38,218.77 L420.10,216.64 L421.81,214.50 L423.53,212.36 L425.25,210.23 L426.96,208.10 L428.68,205.97 L430.39,203.86 L432.11,201.75 L433.82,199.66 L435.54,197.58 L437.25,195.52 L438.97,193.47 L440.68,191.44 L442.39,189.43 L444.11,187.44 L445.82,185.48 L447.54,183.53 L449.25,181.61 L450.97,179.72 L452.69,177.84 L454.40,176.00 L456.12,174.18 L457.83,172.38 L459.55,170.62 L461.26,168.88 L462.98,167.16 L464.69,165.48 L466.40,163.82 L468.12,162.19 L469.84,160.59 L471.55,159.02 L473.26,157.48 L474.98,155.96 L476.69,154.47 L478.41,153.01 L480.12,151.58 L481.84,150.18 L483.56,148.80 L485.27,147.45 L486.99,146.13 L488.70,144.83 L490.42,143.57 L492.13,142.32 L493.85,141.11 L495.56,139.92 L497.27,138.75 L498.99,137.61 L500.71,136.50 L502.42,135.41 L504.13,134.34 L505.85,133.30 L507.56,132.28 L509.28,131.29 L511.00,130.32 L512.71,129.37 L514.42,128.44 L516.14,127.53 L517.86,126.64 L519.57,125.78 L521.28,124.93 L523.00,124.11 L524.72,123.30 L526.43,122.52 L528.14,121.75 L529.86,121.00 L531.58,120.27 L533.29,119.56 L535.00,118.87 L536.72,118.19 L538.43,117.53 L540.15,116.88 L541.87,116.25 L543.58,115.64 L545.30,115.04 L547.01,114.46 L548.73,113.89 L550.44,113.34 L552.15,112.80 L553.87,112.27 L555.59,111.76 L557.30,111.26 L559.01,110.77 L560.73,110.30 L562.45,109.83 L564.16,109.38 L565.88,108.94 L567.59,108.52 L569.31,108.10 L571.02,107.69 L572.74,107.30 L574.45,106.91 L576.16,106.54 L577.88,106.17 L579.60,105.82 L581.31,105.47 L583.02,105.14 L584.74,104.81 L586.46,104.49 L588.17,104.18 L589.88,103.87 L591.60,103.58 L593.32,103.29 L595.03,103.01 L596.75,102.74 L598.46,102.47 L600.17,102.22 L601.89,101.96 L603.61,101.72 L605.32,101.48 L607.04,101.25 L608.75,101.02 L610.47,100.81"/>
<path d="M351.50,266.50 L353.21,266.50 L354.93,266.49 L356.64,266.47 L358.36,266.43 L360.07,266.37 L361.79,266.29 L363.50,266.18 L365.22,266.04 L366.94,265.88 L368.65,265.68 L370.37,265.45 L372.08,265.18 L373.80,264.88 L375.51,264.55 L377.23,264.18 L378.94,263.78 L380.65,263.35 L382.37,262.88 L384.08,262.39 L385.80,261.86 L387.51,261.30 L389.23,260.71 L390.94,260.09 L392.66,259.45 L394.38,258.77 L396.09,258.08 L397.81,257.36 L399.52,256.61 L401.24,255.85 L402.95,255.06 L404.67,254.26 L406.38,253.43 L408.10,252.59 L409.81,251.73 L411.52,250.86 L413.24,249.97 L414.95,249.08 L416.67,248.16 L418.38,247.24 L420.10,246.31 L421.81,245.37 L423.53,244.43 L425.25,243.47 L426.96,242.51 L428.68,241.55 L430.39,240.58 L432.11,239.61 L433.82,238.63 L435.54,237.65 L437.25,236.68 L438.97,235.70 L440.68,234.72 L442.39,233.74 L444.11,232.77 L445.82,231.80 L447.54,230.83 L449.25,229.86 L450.97,228.90 L452.69,227.94 L454.40,226.99 L456.12,226.04 L457.83,225.09 L459.55,224.16 L461.26,223.22 L462.98,222.30 L464.69,221.38 L466.40,220.47 L468.12,219.57 L469.84,218.68 L471.55,217.79 L473.26,216.91 L474.98,216.04 L476.69,215.18 L478.41,214.32 L480.12,213.48 L481.84,212.65 L483.56,211.82 L485.27,211.00 L486.99,210.20 L488.70,209.40 L490.42,208.61 L492.13,207.83 L493.85,207.07 L495.56,206.31 L497.27,205.56 L498.99,204.82 L500.71,204.09 L502.42,203.37 L504.13,202.66 L505.85,201.96 L507.56,201.27 L509.28,200.59 L511.00,199.92 L512.71,199.26 L514.42,198.61 L516.14,197.97 L517.86,197.34 L519.57,196.72 L521.28,196.11 L523.00,195.50 L524.72,194.91 L526.43,194.33 L528.14,193.75 L529.86,193.19 L531.58,192.63 L533.29,192.08 L535.00,191.54 L536.72,191.01 L538.43,190.49 L540.15,189.98 L541.87,189.48 L543.58,188.98 L545.30,188.50 L547.01,188.02 L548.73,187.55 L550.44,187.08 L552.15,186.63 L553.87,186.18 L555.59,185.74 L557.30,185.31 L559.01,184.89 L560.73,184.47 L562.45,184.07 L564.16,183.67 L565.88,183.27 L567.59,182.88 L569.31,182.50 L571.02,182.13 L572.74,181.77 L574.45,181.41 L576.16,181.05 L577.88,180.71 L579.60,180.37 L581.31,180.03 L583.02,179.71 L584.74,179.38 L586.46,179.07 L588.17,178.76 L589.88,178.45 L591.60,178.16 L593.32,177.86 L595.03,177.58 L596.75,177.30 L598.46,177.02 L600.17,176.75 L601.89,176.48 L603.61,176.22 L605.32,175.97 L607.04,175.72 L608.75,175.47 L610.47,175.23"/>
<path d="M351.50,259.60 L353.21,258.54 L354.93,257.30 L356.64,255.89 L358.36,254.35 L360.07,252.70 L361.79,250.95 L363.50,249.09 L365.22,247.15 L366.94,245.12 L368.65,243.02 L370.37,240.84 L372.08,238.38 L373.80,235.70 L375.51,232.94 L377.23,230.21 L378.94,227.63 L380.65,225.20 L382.37,222.84 L384.08,220.48 L385.80,218.06 L387.51,215.55 L389.23,212.99 L390.94,210.39 L392.66,207.71 L394.38,204.91 L396.09,201.95 L397.81,198.73 L399.52,195.27 L401.24,191.64 L402.95,187.93 L404.67,184.19 L406.38,180.51 L408.10,176.95 L409.81,173.59 L411.52,170.52 L413.24,167.80 L414.95,165.01 L416.67,161.77 L418.38,158.21 L420.10,154.43 L421.81,150.54 L423.53,146.62 L425.25,142.77 L426.96,139.09 L428.68,135.50 L430.39,131.88 L432.11,128.31 L433.82,124.85 L435.54,121.57 L437.25,118.52 L438.97,115.67 L440.68,112.92 L442.39,110.27 L444.11,107.70 L445.82,105.21 L447.54,102.79 L449.25,100.42 L450.97,98.10 L452.69,95.82 L454.40,93.57 L456.12,91.33 L457.83,89.11 L459.55,86.88 L461.26,84.69 L462.98,82.60 L464.69,80.57 L466.40,78.56 L468.12,76.53 L469.84,74.45 L471.55,72.27 L473.26,69.96 L474.98,67.50 L476.69,64.96 L478.41,62.42 L480.12,59.95 L481.84,57.61 L483.56,55.40 L485.27,55.38" stroke-dasharray="1.3 2.95"/>
<path d="M351.50,264.06 L353.21,263.57 L354.93,262.98 L356.64,262.27 L358.36,261.46 L360.07,260.56 L361.79,259.58 L363.50,258.53 L365.22,257.41 L366.94,256.25 L368.65,255.05 L370.37,253.82 L372.08,252.53 L373.80,251.17 L375.51,249.72 L377.23,248.18 L378.94,246.54 L380.65,244.80 L382.37,242.93 L384.08,240.84 L385.80,238.39 L387.51,235.78 L389.23,233.21 L390.94,230.75 L392.66,228.35 L394.38,226.00 L396.09,223.69 L397.81,221.41 L399.52,219.16 L401.24,216.93 L402.95,214.72 L404.67,212.52 L406.38,210.31 L408.10,208.10 L409.81,205.87 L411.52,203.63 L413.24,201.36 L414.95,199.05 L416.67,196.71 L418.38,194.32 L420.10,191.87 L421.81,189.36 L423.53,186.79 L425.25,184.13 L426.96,181.40 L428.68,178.58 L430.39,175.67 L432.11,172.65 L433.82,169.52 L435.54,166.28 L437.25,162.91 L438.97,159.36 L440.68,154.55 L442.39,150.18 L444.11,147.19 L445.82,144.51 L447.54,142.11 L449.25,139.92 L450.97,137.90 L452.69,135.99 L454.40,134.14 L456.12,132.31 L457.83,130.43 L459.55,128.46 L461.26,126.40 L462.98,124.31 L464.69,122.23 L466.40,120.20 L468.12,118.22 L469.84,116.34 L471.55,114.58 L473.26,112.93 L474.98,111.32 L476.69,109.74 L478.41,108.19 L480.12,106.67 L481.84,105.18 L483.56,103.72 L485.27,102.28 L486.99,100.87 L488.70,99.48 L490.42,98.12 L492.13,96.77 L493.85,95.45 L495.56,94.14 L497.27,92.85 L498.99,91.57 L500.71,90.31 L502.42,89.06 L504.13,87.82 L505.85,86.59 L507.56,85.37 L509.28,84.16 L511.00,82.95 L512.71,81.75 L514.42,80.55 L516.14,79.35 L517.86,78.15 L519.57,76.95 L521.28,75.75 L523.00,74.54 L524.72,73.33 L526.43,72.11 L528.14,70.89 L529.86,69.65 L531.58,68.41 L533.29,67.15 L535.00,65.88 L536.72,64.59 L538.43,63.29 L540.15,61.97 L541.87,60.63 L543.58,59.27 L545.30,57.89 L547.01,56.49 L548.73,55.38" stroke-dasharray="1.3 2.95"/>
<path d="M351.50,266.50 L353.21,266.50 L354.93,266.47 L356.64,266.39 L358.36,266.27 L360.07,266.07 L361.79,265.80 L363.50,265.45 L365.22,265.01 L366.94,264.48 L368.65,263.85 L370.37,263.14 L372.08,262.34 L373.80,261.44 L375.51,260.45 L377.23,259.38 L378.94,258.22 L380.65,256.97 L382.37,255.65 L384.08,254.26 L385.80,252.79 L387.51,251.25 L389.23,249.65 L390.94,247.98 L392.66,246.26 L394.38,244.49 L396.09,242.67 L397.81,240.80 L399.52,238.90 L401.24,236.95 L402.95,234.97 L404.67,232.97 L406.38,230.93 L408.10,228.87 L409.81,226.80 L411.52,224.70 L413.24,222.59 L414.95,220.47 L416.67,218.34 L418.38,216.21 L420.10,214.07 L421.81,211.93 L423.53,209.79 L425.25,207.66 L426.96,205.53 L428.68,203.41 L430.39,201.30 L432.11,199.20 L433.82,197.11 L435.54,195.03 L437.25,192.97 L438.97,190.93 L440.68,188.90 L442.39,186.89 L444.11,184.91 L445.82,182.94 L447.54,180.99 L449.25,179.07 L450.97,177.17 L452.69,175.29 L454.40,173.44 L456.12,171.61 L457.83,169.80 L459.55,168.02 L461.26,166.27 L462.98,164.54 L464.69,162.84 L466.40,161.16 L468.12,159.51 L469.84,157.89 L471.55,156.30 L473.26,154.73 L474.98,153.18 L476.69,151.67 L478.41,150.18 L480.12,148.72 L481.84,147.28 L483.56,145.87 L485.27,144.49 L486.99,143.13 L488.70,141.79 L490.42,140.49 L492.13,139.20 L493.85,137.95 L495.56,136.72 L497.27,135.51 L498.99,134.32 L500.71,133.16 L502.42,132.03 L504.13,130.92 L505.85,129.83 L507.56,128.76 L509.28,127.71 L511.00,126.69 L512.71,125.69 L514.42,124.71 L516.14,123.75 L517.86,122.82 L519.57,121.90 L521.28,121.00 L523.00,120.12 L524.72,119.27 L526.43,118.43 L528.14,117.61 L529.86,116.80 L531.58,116.02 L533.29,115.25 L535.00,114.51 L536.72,113.77 L538.43,113.06 L540.15,112.36 L541.87,111.68 L543.58,111.01 L545.30,110.36 L547.01,109.72 L548.73,109.10 L550.44,108.50 L552.15,107.90 L553.87,107.32 L555.59,106.76 L557.30,106.21 L559.01,105.67 L560.73,105.14 L562.45,104.63 L564.16,104.13 L565.88,103.64 L567.59,103.16 L569.31,102.70 L571.02,102.24 L572.74,101.80 L574.45,101.37 L576.16,100.94 L577.88,100.53 L579.60,100.13 L581.31,99.74 L583.02,99.35 L584.74,98.98 L586.46,98.62 L588.17,98.26 L589.88,97.92 L591.60,97.58 L593.32,97.25 L595.03,96.93 L596.75,96.61 L598.46,96.31 L600.17,96.01 L601.89,95.72 L603.61,95.43 L605.32,95.16 L607.04,94.89 L608.75,94.62 L610.47,94.37" stroke-dasharray="1.3 2.95"/>
<path d="M351.50,266.50 L353.21,266.50 L354.93,266.50 L356.64,266.50 L358.36,266.50 L360.07,266.50 L361.79,266.49 L363.50,266.48 L365.22,266.47 L366.94,266.45 L368.65,266.42 L370.37,266.37 L372.08,266.31 L373.80,266.23 L375.51,266.12 L377.23,265.99 L378.94,265.83 L380.65,265.64 L382.37,265.41 L384.08,265.14 L385.80,264.84 L387.51,264.49 L389.23,264.10 L390.94,263.66 L392.66,263.17 L394.38,262.64 L396.09,262.06 L397.81,261.43 L399.52,260.75 L401.24,260.02 L402.95,259.25 L404.67,258.43 L406.38,257.56 L408.10,256.64 L409.81,255.68 L411.52,254.68 L413.24,253.64 L414.95,252.56 L416.67,251.44 L418.38,250.29 L420.10,249.10 L421.81,247.88 L423.53,246.64 L425.25,245.37 L426.96,244.07 L428.68,242.75 L430.39,241.41 L432.11,240.05 L433.82,238.68 L435.54,237.29 L437.25,235.89 L438.97,234.48 L440.68,233.07 L442.39,231.65 L444.11,230.22 L445.82,228.79 L447.54,227.36 L449.25,225.94 L450.97,224.51 L452.69,223.09 L454.40,221.68 L456.12,220.27 L457.83,218.87 L459.55,217.48 L461.26,216.10 L462.98,214.73 L464.69,213.37 L466.40,212.03 L468.12,210.70 L469.84,209.38 L471.55,208.09 L473.26,206.80 L474.98,205.54 L476.69,204.29 L478.41,203.06 L480.12,201.84 L481.84,200.65 L483.56,199.47 L485.27,198.32 L486.99,197.18 L488.70,196.06 L490.42,194.97 L492.13,193.89 L493.85,192.83 L495.56,191.79 L497.27,190.77 L498.99,189.77 L500.71,188.79 L502.42,187.83 L504.13,186.89 L505.85,185.97 L507.56,185.07 L509.28,184.19 L511.00,183.33 L512.71,182.49 L514.42,181.66 L516.14,180.86 L517.86,180.07 L519.57,179.30 L521.28,178.55 L523.00,177.81 L524.72,177.10 L526.43,176.40 L528.14,175.71 L529.86,175.05 L531.58,174.40 L533.29,173.76 L535.00,173.14 L536.72,172.54 L538.43,171.95 L540.15,171.38 L541.87,170.82 L543.58,170.27 L545.30,169.74 L547.01,169.23 L548.73,168.72 L550.44,168.23 L552.15,167.75 L553.87,167.29 L555.59,166.84 L557.30,166.40 L559.01,165.97 L560.73,165.55 L562.45,165.14 L564.16,164.75 L565.88,164.36 L567.59,163.99 L569.31,163.63 L571.02,163.27 L572.74,162.93 L574.45,162.59 L576.16,162.27 L577.88,161.95 L579.60,161.64 L581.31,161.34 L583.02,161.05 L584.74,160.77 L586.46,160.49 L588.17,160.23 L589.88,159.97 L591.60,159.71 L593.32,159.47 L595.03,159.23 L596.75,159.00 L598.46,158.77 L600.17,158.56 L601.89,158.34 L603.61,158.14 L605.32,157.94 L607.04,157.74 L608.75,157.55 L610.47,157.37" stroke-dasharray="1.3 2.95"/>
</g>
<g clip-path="url(#cl1)" fill="none" stroke="#000" stroke-width="1.8">
<path d="M62.90,489.78 L64.61,487.33 L66.33,484.76 L68.05,482.09 L69.76,479.33 L71.47,476.48 L73.19,473.50 L74.91,470.39 L76.62,467.18 L78.33,463.90 L80.05,460.57 L81.77,457.17 L83.48,453.69 L85.19,450.15 L86.91,446.56 L88.62,442.96 L90.34,439.33 L92.06,435.65 L93.77,431.94 L95.48,428.23 L97.20,424.54 L98.91,420.86 L100.63,417.16 L102.34,413.47 L104.06,409.82 L105.78,406.22 L107.49,402.66 L109.20,399.12 L110.92,395.63 L112.63,392.20 L114.35,388.88 L116.06,385.63 L117.78,382.44 L119.50,379.32 L121.21,376.30 L122.93,373.40 L124.64,370.60 L126.36,367.88 L128.07,365.25 L129.78,362.71 L131.50,360.26 L133.22,357.91 L134.93,355.63 L136.65,353.42 L138.36,351.29 L140.07,349.24 L141.79,347.26 L143.50,345.34 L145.22,343.48 L146.94,341.68 L148.65,339.94 L150.37,338.25 L152.08,336.61 L153.80,335.02 L155.51,333.47 L157.22,331.96 L158.94,330.48 L160.66,329.04 L162.37,327.64 L164.09,326.27 L165.80,324.92 L167.52,323.61 L169.23,322.32 L170.94,321.06 L172.66,319.84 L174.38,318.64 L176.09,317.46 L177.81,316.32 L179.52,315.20 L181.24,314.11 L182.95,313.04 L184.66,312.00 L186.38,310.98 L188.09,309.99 L189.81,309.03 L191.53,308.08 L193.24,307.17 L194.96,306.27 L196.67,305.40 L198.39,304.55 L200.10,303.72 L201.82,302.91 L203.53,302.13 L205.25,301.36 L206.96,300.61 L208.68,299.89 L210.39,299.19 L212.11,298.50 L213.82,297.83 L215.54,297.18 L217.25,296.55 L218.97,295.94 L220.68,295.34 L222.40,294.76 L224.11,294.19 L225.83,293.64 L227.54,293.11 L229.26,292.59 L230.97,292.09 L232.69,291.60 L234.40,291.12 L236.12,290.66 L237.83,290.21 L239.55,289.78 L241.26,289.35 L242.98,288.94 L244.69,288.54 L246.41,288.14 L248.12,287.76 L249.84,287.39 L251.55,287.03 L253.27,286.68 L254.98,286.34 L256.69,286.01 L258.41,285.68 L260.12,285.36 L261.84,285.05 L263.56,284.74 L265.27,284.45 L266.99,284.15 L268.70,283.87 L270.42,283.59 L272.13,283.31 L273.85,283.04 L275.56,282.77 L277.27,282.50 L278.99,282.24 L280.70,281.98 L282.42,281.73 L284.13,281.47 L285.85,281.22 L287.56,280.97 L289.28,280.71 L291.00,280.46 L292.71,280.21 L294.43,279.96 L296.14,279.71 L297.86,279.45 L299.57,279.20 L301.29,278.94 L303.00,278.68 L304.71,278.41 L306.43,278.14 L308.14,277.87 L309.86,277.60 L311.57,277.32 L313.29,277.03 L315.00,276.74 L316.72,276.44 L318.44,276.14 L320.15,275.83 L321.87,275.51"/>
<path d="M62.90,489.10 L64.61,486.95 L66.33,484.33 L68.05,481.54 L69.76,478.66 L71.47,475.71 L73.19,472.74 L74.91,469.75 L76.62,466.75 L78.33,463.77 L80.05,460.79 L81.77,457.83 L83.48,454.89 L85.19,451.98 L86.91,449.09 L88.62,446.23 L90.34,443.41 L92.06,440.62 L93.77,437.87 L95.48,435.15 L97.20,432.47 L98.91,429.83 L100.63,427.22 L102.34,424.65 L104.06,422.12 L105.78,419.63 L107.49,417.18 L109.20,414.77 L110.92,412.40 L112.63,410.06 L114.35,407.77 L116.06,405.51 L117.78,403.29 L119.50,401.10 L121.21,398.96 L122.93,396.85 L124.64,394.78 L126.36,392.75 L128.07,390.75 L129.78,388.78 L131.50,386.85 L133.22,384.96 L134.93,383.10 L136.65,381.27 L138.36,379.48 L140.07,377.72 L141.79,375.99 L143.50,374.30 L145.22,372.63 L146.94,371.00 L148.65,369.40 L150.37,367.83 L152.08,366.28 L153.80,364.77 L155.51,363.28 L157.22,361.83 L158.94,360.40 L160.66,358.99 L162.37,357.62 L164.09,356.27 L165.80,354.94 L167.52,353.65 L169.23,352.37 L170.94,351.12 L172.66,349.90 L174.38,348.70 L176.09,347.52 L177.81,346.37 L179.52,345.23 L181.24,344.12 L182.95,343.03 L184.66,341.97 L186.38,340.92 L188.09,339.90 L189.81,338.89 L191.53,337.90 L193.24,336.94 L194.96,335.99 L196.67,335.06 L198.39,334.15 L200.10,333.26 L201.82,332.38 L203.53,331.52 L205.25,330.68 L206.96,329.86 L208.68,329.05 L210.39,328.26 L212.11,327.49 L213.82,326.72 L215.54,325.98 L217.25,325.25 L218.97,324.53 L220.68,323.83 L222.40,323.14 L224.11,322.47 L225.83,321.81 L227.54,321.16 L229.26,320.53 L230.97,319.91 L232.69,319.30 L234.40,318.70 L236.12,318.12 L237.83,317.55 L239.55,316.98 L241.26,316.43 L242.98,315.89 L244.69,315.37 L246.41,314.85 L248.12,314.34 L249.84,313.84 L251.55,313.36 L253.27,312.88 L254.98,312.41 L256.69,311.96 L258.41,311.51 L260.12,311.07 L261.84,310.64 L263.56,310.21 L265.27,309.80 L266.99,309.40 L268.70,309.00 L270.42,308.61 L272.13,308.23 L273.85,307.86 L275.56,307.49 L277.27,307.13 L278.99,306.78 L280.70,306.44 L282.42,306.10 L284.13,305.77 L285.85,305.45 L287.56,305.13 L289.28,304.82 L291.00,304.52 L292.71,304.22 L294.43,303.93 L296.14,303.64 L297.86,303.36 L299.57,303.09 L301.29,302.82 L303.00,302.55 L304.71,302.30 L306.43,302.04 L308.14,301.80 L309.86,301.55 L311.57,301.32 L313.29,301.08 L315.00,300.86 L316.72,300.63 L318.44,300.41 L320.15,300.20 L321.87,299.99"/>
<path d="M62.90,489.10 L64.61,487.96 L66.33,486.39 L68.05,484.63 L69.76,482.75 L71.47,480.78 L73.19,478.75 L74.91,476.68 L76.62,474.57 L78.33,472.43 L80.05,470.29 L81.77,468.13 L83.48,465.97 L85.19,463.80 L86.91,461.65 L88.62,459.49 L90.34,457.35 L92.06,455.22 L93.77,453.10 L95.48,451.00 L97.20,448.92 L98.91,446.85 L100.63,444.81 L102.34,442.78 L104.06,440.78 L105.78,438.80 L107.49,436.84 L109.20,434.90 L110.92,432.99 L112.63,431.10 L114.35,429.23 L116.06,427.39 L117.78,425.57 L119.50,423.78 L121.21,422.01 L122.93,420.27 L124.64,418.55 L126.36,416.86 L128.07,415.19 L129.78,413.55 L131.50,411.93 L133.22,410.34 L134.93,408.77 L136.65,407.23 L138.36,405.71 L140.07,404.21 L141.79,402.74 L143.50,401.29 L145.22,399.86 L146.94,398.46 L148.65,397.08 L150.37,395.72 L152.08,394.38 L153.80,393.07 L155.51,391.78 L157.22,390.51 L158.94,389.26 L160.66,388.03 L162.37,386.83 L164.09,385.64 L165.80,384.48 L167.52,383.33 L169.23,382.21 L170.94,381.10 L172.66,380.01 L174.38,378.95 L176.09,377.90 L177.81,376.87 L179.52,375.85 L181.24,374.86 L182.95,373.88 L184.66,372.92 L186.38,371.98 L188.09,371.05 L189.81,370.14 L191.53,369.25 L193.24,368.37 L194.96,367.51 L196.67,366.66 L198.39,365.83 L200.10,365.02 L201.82,364.22 L203.53,363.43 L205.25,362.66 L206.96,361.90 L208.68,361.16 L210.39,360.43 L212.11,359.71 L213.82,359.01 L215.54,358.31 L217.25,357.64 L218.97,356.97 L220.68,356.32 L222.40,355.68 L224.11,355.05 L225.83,354.43 L227.54,353.82 L229.26,353.23 L230.97,352.64 L232.69,352.07 L234.40,351.51 L236.12,350.95 L237.83,350.41 L239.55,349.88 L241.26,349.36 L242.98,348.85 L244.69,348.34 L246.41,347.85 L248.12,347.37 L249.84,346.89 L251.55,346.43 L253.27,345.97 L254.98,345.52 L256.69,345.08 L258.41,344.65 L260.12,344.22 L261.84,343.81 L263.56,343.40 L265.27,343.00 L266.99,342.61 L268.70,342.22 L270.42,341.85 L272.13,341.47 L273.85,341.11 L275.56,340.75 L277.27,340.40 L278.99,340.06 L280.70,339.72 L282.42,339.39 L284.13,339.07 L285.85,338.75 L287.56,338.44 L289.28,338.13 L291.00,337.83 L292.71,337.54 L294.43,337.25 L296.14,336.97 L297.86,336.69 L299.57,336.42 L301.29,336.15 L303.00,335.89 L304.71,335.63 L306.43,335.38 L308.14,335.13 L309.86,334.89 L311.57,334.65 L313.29,334.42 L315.00,334.19 L316.72,333.96 L318.44,333.74 L320.15,333.52 L321.87,333.31"/>
<path d="M62.90,489.10 L64.61,488.46 L66.33,487.56 L68.05,486.54 L69.76,485.44 L71.47,484.28 L73.19,483.08 L74.91,481.84 L76.62,480.57 L78.33,479.28 L80.05,477.98 L81.77,476.66 L83.48,475.33 L85.19,473.99 L86.91,472.65 L88.62,471.31 L90.34,469.97 L92.06,468.63 L93.77,467.29 L95.48,465.95 L97.20,464.62 L98.91,463.29 L100.63,461.97 L102.34,460.66 L104.06,459.35 L105.78,458.06 L107.49,456.77 L109.20,455.49 L110.92,454.22 L112.63,452.96 L114.35,451.71 L116.06,450.48 L117.78,449.25 L119.50,448.04 L121.21,446.83 L122.93,445.64 L124.64,444.46 L126.36,443.29 L128.07,442.14 L129.78,440.99 L131.50,439.86 L133.22,438.74 L134.93,437.64 L136.65,436.54 L138.36,435.46 L140.07,434.39 L141.79,433.33 L143.50,432.29 L145.22,431.26 L146.94,430.24 L148.65,429.23 L150.37,428.24 L152.08,427.25 L153.80,426.28 L155.51,425.33 L157.22,424.38 L158.94,423.45 L160.66,422.52 L162.37,421.61 L164.09,420.71 L165.80,419.83 L167.52,418.95 L169.23,418.09 L170.94,417.24 L172.66,416.40 L174.38,415.57 L176.09,414.75 L177.81,413.94 L179.52,413.15 L181.24,412.36 L182.95,411.59 L184.66,410.82 L186.38,410.07 L188.09,409.32 L189.81,408.59 L191.53,407.87 L193.24,407.16 L194.96,406.45 L196.67,405.76 L198.39,405.08 L200.10,404.40 L201.82,403.74 L203.53,403.08 L205.25,402.44 L206.96,401.80 L208.68,401.18 L210.39,400.56 L212.11,399.95 L213.82,399.35 L215.54,398.76 L217.25,398.17 L218.97,397.60 L220.68,397.03 L222.40,396.48 L224.11,395.93 L225.83,395.38 L227.54,394.85 L229.26,394.32 L230.97,393.80 L232.69,393.29 L234.40,392.79 L236.12,392.29 L237.83,391.81 L239.55,391.32 L241.26,390.85 L242.98,390.38 L244.69,389.92 L246.41,389.47 L248.12,389.02 L249.84,388.58 L251.55,388.15 L253.27,387.72 L254.98,387.30 L256.69,386.89 L258.41,386.48 L260.12,386.07 L261.84,385.68 L263.56,385.29 L265.27,384.90 L266.99,384.53 L268.70,384.15 L270.42,383.79 L272.13,383.42 L273.85,383.07 L275.56,382.72 L277.27,382.37 L278.99,382.03 L280.70,381.70 L282.42,381.37 L284.13,381.04 L285.85,380.72 L287.56,380.41 L289.28,380.10 L291.00,379.79 L292.71,379.49 L294.43,379.19 L296.14,378.90 L297.86,378.61 L299.57,378.33 L301.29,378.05 L303.00,377.78 L304.71,377.51 L306.43,377.24 L308.14,376.98 L309.86,376.72 L311.57,376.47 L313.29,376.22 L315.00,375.97 L316.72,375.73 L318.44,375.49 L320.15,375.26 L321.87,375.02"/>
<path d="M62.90,489.10 L64.61,486.47 L66.33,483.19 L68.05,479.67 L69.76,476.00 L71.47,472.26 L73.19,468.46 L74.91,464.64 L76.62,460.82 L78.33,457.00 L80.05,453.19 L81.77,449.41 L83.48,445.66 L85.19,441.95 L86.91,438.27 L88.62,434.64 L90.34,431.05 L92.06,427.51 L93.77,424.02 L95.48,420.58 L97.20,417.19 L98.91,413.85 L100.63,410.57 L102.34,407.34 L104.06,404.16 L105.78,401.04 L107.49,397.97 L109.20,394.95 L110.92,391.99 L112.63,389.08 L114.35,386.23 L116.06,383.42 L117.78,380.67 L119.50,377.98 L121.21,375.33 L122.93,372.73 L124.64,370.19 L126.36,367.69 L128.07,365.24 L129.78,362.84 L131.50,360.49 L133.22,358.18 L134.93,355.92 L136.65,353.71 L138.36,351.54 L140.07,349.42 L141.79,347.33 L143.50,345.30 L145.22,343.30 L146.94,341.34 L148.65,339.43 L150.37,337.55 L152.08,335.71 L153.80,333.92 L155.51,332.16 L157.22,330.43 L158.94,328.74 L160.66,327.09 L162.37,325.48 L164.09,323.89 L165.80,322.34 L167.52,320.83 L169.23,319.34 L170.94,317.89 L172.66,316.47 L174.38,315.08 L176.09,313.72 L177.81,312.39 L179.52,311.09 L181.24,309.81 L182.95,308.57 L184.66,307.35 L186.38,306.15 L188.09,304.99 L189.81,303.84 L191.53,302.73 L193.24,301.63 L194.96,300.57 L196.67,299.52 L198.39,298.50 L200.10,297.50 L201.82,296.52 L203.53,295.56 L205.25,294.63 L206.96,293.71 L208.68,292.82 L210.39,291.94 L212.11,291.08 L213.82,290.25 L215.54,289.43 L217.25,288.63 L218.97,287.84 L220.68,287.08 L222.40,286.33 L224.11,285.60 L225.83,284.88 L227.54,284.18 L229.26,283.50 L230.97,282.83 L232.69,282.17 L234.40,281.53 L236.12,280.91 L237.83,280.30 L239.55,279.70 L241.26,279.11 L242.98,278.54 L244.69,277.98 L246.41,277.44 L248.12,276.90 L249.84,276.38 L251.55,275.87 L253.27,275.44" stroke-dasharray="4.4 4.4"/>
<path d="M62.90,489.10 L64.61,487.49 L66.33,485.38 L68.05,483.05 L69.76,480.58 L71.47,478.02 L73.19,475.39 L74.91,472.70 L76.62,469.99 L78.33,467.24 L80.05,464.48 L81.77,461.71 L83.48,458.94 L85.19,456.16 L86.91,453.39 L88.62,450.63 L90.34,447.88 L92.06,445.14 L93.77,442.42 L95.48,439.72 L97.20,437.03 L98.91,434.37 L100.63,431.73 L102.34,429.11 L104.06,426.51 L105.78,423.94 L107.49,421.40 L109.20,418.88 L110.92,416.39 L112.63,413.92 L114.35,411.48 L116.06,409.07 L117.78,406.69 L119.50,404.34 L121.21,402.01 L122.93,399.71 L124.64,397.45 L126.36,395.21 L128.07,392.99 L129.78,390.81 L131.50,388.66 L133.22,386.53 L134.93,384.43 L136.65,382.36 L138.36,380.32 L140.07,378.31 L141.79,376.32 L143.50,374.37 L145.22,372.43 L146.94,370.53 L148.65,368.65 L150.37,366.80 L152.08,364.98 L153.80,363.18 L155.51,361.41 L157.22,359.67 L158.94,357.95 L160.66,356.25 L162.37,354.58 L164.09,352.94 L165.80,351.32 L167.52,349.72 L169.23,348.15 L170.94,346.60 L172.66,345.08 L174.38,343.57 L176.09,342.10 L177.81,340.64 L179.52,339.20 L181.24,337.79 L182.95,336.40 L184.66,335.03 L186.38,333.68 L188.09,332.36 L189.81,331.05 L191.53,329.76 L193.24,328.50 L194.96,327.25 L196.67,326.03 L198.39,324.82 L200.10,323.63 L201.82,322.46 L203.53,321.31 L205.25,320.18 L206.96,319.06 L208.68,317.96 L210.39,316.88 L212.11,315.82 L213.82,314.77 L215.54,313.75 L217.25,312.73 L218.97,311.74 L220.68,310.76 L222.40,309.79 L224.11,308.84 L225.83,307.91 L227.54,306.99 L229.26,306.09 L230.97,305.20 L232.69,304.32 L234.40,303.46 L236.12,302.61 L237.83,301.78 L239.55,300.96 L241.26,300.16 L242.98,299.36 L244.69,298.58 L246.41,297.82 L248.12,297.06 L249.84,296.32 L251.55,295.59 L253.27,294.87 L254.98,294.16 L256.69,293.47 L258.41,292.79 L260.12,292.11 L261.84,291.45 L263.56,290.80 L265.27,290.16 L266.99,289.53 L268.70,288.91 L270.42,288.31 L272.13,287.71 L273.85,287.12 L275.56,286.54 L277.27,285.97 L278.99,285.41 L280.70,284.86 L282.42,284.32 L284.13,283.79 L285.85,283.26 L287.56,282.75 L289.28,282.24 L291.00,281.74 L292.71,281.25 L294.43,280.77 L296.14,280.30 L297.86,279.83 L299.57,279.38 L301.29,278.93 L303.00,278.48 L304.71,278.05 L306.43,277.62 L308.14,277.20 L309.86,276.78 L311.57,276.38 L313.29,275.98 L315.00,275.58 L316.72,275.44" stroke-dasharray="4.4 4.4"/>
<path d="M62.90,489.10 L64.61,487.85 L66.33,486.28 L68.05,484.58 L69.76,482.79 L71.47,480.93 L73.19,479.04 L74.91,477.10 L76.62,475.15 L78.33,473.17 L80.05,471.18 L81.77,469.17 L83.48,467.16 L85.19,465.15 L86.91,463.13 L88.62,461.12 L90.34,459.10 L92.06,457.09 L93.77,455.09 L95.48,453.09 L97.20,451.09 L98.91,449.11 L100.63,447.13 L102.34,445.17 L104.06,443.21 L105.78,441.26 L107.49,439.33 L109.20,437.41 L110.92,435.50 L112.63,433.60 L114.35,431.71 L116.06,429.84 L117.78,427.98 L119.50,426.14 L121.21,424.31 L122.93,422.49 L124.64,420.69 L126.36,418.90 L128.07,417.13 L129.78,415.37 L131.50,413.63 L133.22,411.90 L134.93,410.19 L136.65,408.49 L138.36,406.81 L140.07,405.14 L141.79,403.49 L143.50,401.85 L145.22,400.23 L146.94,398.62 L148.65,397.03 L150.37,395.45 L152.08,393.89 L153.80,392.34 L155.51,390.81 L157.22,389.29 L158.94,387.79 L160.66,386.30 L162.37,384.83 L164.09,383.37 L165.80,381.93 L167.52,380.50 L169.23,379.08 L170.94,377.68 L172.66,376.30 L174.38,374.93 L176.09,373.57 L177.81,372.22 L179.52,370.89 L181.24,369.58 L182.95,368.27 L184.66,366.99 L186.38,365.71 L188.09,364.45 L189.81,363.20 L191.53,361.96 L193.24,360.74 L194.96,359.53 L196.67,358.34 L198.39,357.15 L200.10,355.98 L201.82,354.82 L203.53,353.68 L205.25,352.54 L206.96,351.42 L208.68,350.31 L210.39,349.22 L212.11,348.13 L213.82,347.06 L215.54,346.00 L217.25,344.95 L218.97,343.91 L220.68,342.88 L222.40,341.87 L224.11,340.87 L225.83,339.87 L227.54,338.89 L229.26,337.92 L230.97,336.96 L232.69,336.01 L234.40,335.07 L236.12,334.14 L237.83,333.23 L239.55,332.32 L241.26,331.42 L242.98,330.53 L244.69,329.66 L246.41,328.79 L248.12,327.93 L249.84,327.08 L251.55,326.24 L253.27,325.41 L254.98,324.60 L256.69,323.78 L258.41,322.98 L260.12,322.19 L261.84,321.41 L263.56,320.64 L265.27,319.87 L266.99,319.11 L268.70,318.37 L270.42,317.63 L272.13,316.90 L273.85,316.17 L275.56,315.46 L277.27,314.75 L278.99,314.06 L280.70,313.37 L282.42,312.68 L284.13,312.01 L285.85,311.34 L287.56,310.69 L289.28,310.04 L291.00,309.39 L292.71,308.76 L294.43,308.13 L296.14,307.51 L297.86,306.89 L299.57,306.29 L301.29,305.69 L303.00,305.09 L304.71,304.51 L306.43,303.93 L308.14,303.35 L309.86,302.79 L311.57,302.23 L313.29,301.68 L315.00,301.13 L316.72,300.59 L318.44,300.06 L320.15,299.53 L321.87,299.01" stroke-dasharray="4.4 4.4"/>
<path d="M62.90,489.10 L64.61,488.68 L66.33,488.03 L68.05,487.27 L69.76,486.42 L71.47,485.51 L73.19,484.54 L74.91,483.52 L76.62,482.47 L78.33,481.38 L80.05,480.26 L81.77,479.11 L83.48,477.95 L85.19,476.76 L86.91,475.55 L88.62,474.33 L90.34,473.09 L92.06,471.84 L93.77,470.58 L95.48,469.31 L97.20,468.03 L98.91,466.74 L100.63,465.45 L102.34,464.15 L104.06,462.84 L105.78,461.54 L107.49,460.23 L109.20,458.91 L110.92,457.60 L112.63,456.28 L114.35,454.97 L116.06,453.65 L117.78,452.34 L119.50,451.02 L121.21,449.71 L122.93,448.40 L124.64,447.09 L126.36,445.78 L128.07,444.48 L129.78,443.18 L131.50,441.88 L133.22,440.59 L134.93,439.30 L136.65,438.01 L138.36,436.73 L140.07,435.46 L141.79,434.19 L143.50,432.92 L145.22,431.66 L146.94,430.40 L148.65,429.15 L150.37,427.91 L152.08,426.67 L153.80,425.44 L155.51,424.21 L157.22,422.99 L158.94,421.78 L160.66,420.57 L162.37,419.37 L164.09,418.18 L165.80,416.99 L167.52,415.81 L169.23,414.63 L170.94,413.47 L172.66,412.31 L174.38,411.16 L176.09,410.01 L177.81,408.87 L179.52,407.74 L181.24,406.61 L182.95,405.50 L184.66,404.39 L186.38,403.28 L188.09,402.19 L189.81,401.10 L191.53,400.02 L193.24,398.95 L194.96,397.88 L196.67,396.82 L198.39,395.77 L200.10,394.73 L201.82,393.69 L203.53,392.66 L205.25,391.64 L206.96,390.63 L208.68,389.62 L210.39,388.62 L212.11,387.63 L213.82,386.64 L215.54,385.67 L217.25,384.70 L218.97,383.73 L220.68,382.78 L222.40,381.83 L224.11,380.89 L225.83,379.96 L227.54,379.03 L229.26,378.11 L230.97,377.20 L232.69,376.29 L234.40,375.39 L236.12,374.50 L237.83,373.62 L239.55,372.74 L241.26,371.87 L242.98,371.01 L244.69,370.16 L246.41,369.31 L248.12,368.46 L249.84,367.63 L251.55,366.80 L253.27,365.98 L254.98,365.16 L256.69,364.36 L258.41,363.55 L260.12,362.76 L261.84,361.97 L263.56,361.19 L265.27,360.41 L266.99,359.65 L268.70,358.88 L270.42,358.13 L272.13,357.38 L273.85,356.64 L275.56,355.90 L277.27,355.17 L278.99,354.44 L280.70,353.73 L282.42,353.01 L284.13,352.31 L285.85,351.61 L287.56,350.91 L289.28,350.23 L291.00,349.54 L292.71,348.87 L294.43,348.20 L296.14,347.53 L297.86,346.88 L299.57,346.22 L301.29,345.58 L303.00,344.93 L304.71,344.30 L306.43,343.67 L308.14,343.04 L309.86,342.42 L311.57,341.81 L313.29,341.20 L315.00,340.60 L316.72,340.00 L318.44,339.41 L320.15,338.82 L321.87,338.24" stroke-dasharray="4.4 4.4"/>
<path d="M62.90,489.10 L64.61,487.56 L66.33,485.35 L68.05,482.79 L69.76,480.01 L71.47,477.06 L73.19,473.98 L74.91,470.80 L76.62,467.54 L78.33,464.21 L80.05,460.83 L81.77,457.41 L83.48,453.96 L85.19,450.48 L86.91,446.99 L88.62,443.48 L90.34,439.96 L92.06,436.45 L93.77,432.93 L95.48,429.42 L97.20,425.92 L98.91,422.43 L100.63,418.95 L102.34,415.49 L104.06,412.04 L105.78,408.62 L107.49,405.21 L109.20,401.83 L110.92,398.47 L112.63,395.14 L114.35,391.83 L116.06,388.55 L117.78,385.30 L119.50,382.07 L121.21,378.88 L122.93,375.71 L124.64,372.58 L126.36,369.47 L128.07,366.40 L129.78,363.35 L131.50,360.34 L133.22,357.36 L134.93,354.42 L136.65,351.50 L138.36,348.62 L140.07,345.77 L141.79,342.95 L143.50,340.16 L145.22,337.41 L146.94,334.69 L148.65,332.00 L150.37,329.34 L152.08,326.72 L153.80,324.13 L155.51,321.57 L157.22,319.04 L158.94,316.54 L160.66,314.08 L162.37,311.64 L164.09,309.24 L165.80,306.87 L167.52,304.53 L169.23,302.22 L170.94,299.94 L172.66,297.69 L174.38,295.47 L176.09,293.28 L177.81,291.12 L179.52,288.98 L181.24,286.88 L182.95,284.80 L184.66,282.76 L186.38,280.74 L188.09,278.75 L189.81,276.78 L191.53,275.44" stroke-dasharray="1.3 2.95"/>
<path d="M62.90,489.10 L64.61,487.61 L66.33,485.58 L68.05,483.33 L69.76,480.91 L71.47,478.39 L73.19,475.79 L74.91,473.13 L76.62,470.42 L78.33,467.68 L80.05,464.91 L81.77,462.12 L83.48,459.32 L85.19,456.52 L86.91,453.71 L88.62,450.90 L90.34,448.10 L92.06,445.31 L93.77,442.53 L95.48,439.76 L97.20,437.01 L98.91,434.27 L100.63,431.55 L102.34,428.85 L104.06,426.17 L105.78,423.51 L107.49,420.88 L109.20,418.27 L110.92,415.68 L112.63,413.11 L114.35,410.57 L116.06,408.06 L117.78,405.57 L119.50,403.11 L121.21,400.67 L122.93,398.26 L124.64,395.88 L126.36,393.53 L128.07,391.20 L129.78,388.90 L131.50,386.63 L133.22,384.38 L134.93,382.16 L136.65,379.97 L138.36,377.81 L140.07,375.67 L141.79,373.56 L143.50,371.48 L145.22,369.43 L146.94,367.40 L148.65,365.39 L150.37,363.42 L152.08,361.47 L153.80,359.55 L155.51,357.65 L157.22,355.78 L158.94,353.93 L160.66,352.11 L162.37,350.31 L164.09,348.54 L165.80,346.79 L167.52,345.07 L169.23,343.37 L170.94,341.70 L172.66,340.05 L174.38,338.42 L176.09,336.82 L177.81,335.24 L179.52,333.68 L181.24,332.14 L182.95,330.63 L184.66,329.14 L186.38,327.67 L188.09,326.22 L189.81,324.79 L191.53,323.39 L193.24,322.00 L194.96,320.64 L196.67,319.29 L198.39,317.97 L200.10,316.66 L201.82,315.38 L203.53,314.11 L205.25,312.86 L206.96,311.63 L208.68,310.42 L210.39,309.23 L212.11,308.05 L213.82,306.90 L215.54,305.76 L217.25,304.64 L218.97,303.53 L220.68,302.44 L222.40,301.37 L224.11,300.32 L225.83,299.28 L227.54,298.25 L229.26,297.24 L230.97,296.25 L232.69,295.28 L234.40,294.31 L236.12,293.37 L237.83,292.43 L239.55,291.52 L241.26,290.61 L242.98,289.72 L244.69,288.85 L246.41,287.98 L248.12,287.13 L249.84,286.30 L251.55,285.47 L253.27,284.66 L254.98,283.87 L256.69,283.08 L258.41,282.31 L260.12,281.55 L261.84,280.80 L263.56,280.06 L265.27,279.34 L266.99,278.62 L268.70,277.92 L270.42,277.23 L272.13,276.55 L273.85,275.88 L275.56,275.44" stroke-dasharray="1.3 2.95"/>
<path d="M62.90,489.10 L64.61,487.27 L66.33,485.24 L68.05,483.15 L69.76,481.02 L71.47,478.88 L73.19,476.74 L74.91,474.59 L76.62,472.44 L78.33,470.30 L80.05,468.17 L81.77,466.04 L83.48,463.93 L85.19,461.84 L86.91,459.75 L88.62,457.69 L90.34,455.63 L92.06,453.60 L93.77,451.58 L95.48,449.58 L97.20,447.60 L98.91,445.63 L100.63,443.68 L102.34,441.75 L104.06,439.84 L105.78,437.95 L107.49,436.08 L109.20,434.22 L110.92,432.39 L112.63,430.57 L114.35,428.77 L116.06,426.99 L117.78,425.23 L119.50,423.49 L121.21,421.77 L122.93,420.06 L124.64,418.38 L126.36,416.71 L128.07,415.06 L129.78,413.43 L131.50,411.82 L133.22,410.22 L134.93,408.64 L136.65,407.08 L138.36,405.54 L140.07,404.02 L141.79,402.51 L143.50,401.02 L145.22,399.55 L146.94,398.09 L148.65,396.65 L150.37,395.23 L152.08,393.82 L153.80,392.43 L155.51,391.06 L157.22,389.70 L158.94,388.35 L160.66,387.03 L162.37,385.72 L164.09,384.42 L165.80,383.14 L167.52,381.88 L169.23,380.62 L170.94,379.39 L172.66,378.17 L174.38,376.96 L176.09,375.77 L177.81,374.59 L179.52,373.43 L181.24,372.28 L182.95,371.14 L184.66,370.02 L186.38,368.91 L188.09,367.81 L189.81,366.73 L191.53,365.66 L193.24,364.61 L194.96,363.56 L196.67,362.53 L198.39,361.51 L200.10,360.51 L201.82,359.51 L203.53,358.53 L205.25,357.56 L206.96,356.60 L208.68,355.65 L210.39,354.72 L212.11,353.79 L213.82,352.88 L215.54,351.98 L217.25,351.09 L218.97,350.21 L220.68,349.34 L222.40,348.48 L224.11,347.63 L225.83,346.80 L227.54,345.97 L229.26,345.15 L230.97,344.35 L232.69,343.55 L234.40,342.76 L236.12,341.99 L237.83,341.22 L239.55,340.46 L241.26,339.71 L242.98,338.97 L244.69,338.24 L246.41,337.52 L248.12,336.80 L249.84,336.10 L251.55,335.41 L253.27,334.72 L254.98,334.04 L256.69,333.37 L258.41,332.71 L260.12,332.06 L261.84,331.41 L263.56,330.77 L265.27,330.14 L266.99,329.52 L268.70,328.91 L270.42,328.30 L272.13,327.70 L273.85,327.11 L275.56,326.53 L277.27,325.95 L278.99,325.38 L280.70,324.82 L282.42,324.27 L284.13,323.72 L285.85,323.18 L287.56,322.64 L289.28,322.11 L291.00,321.59 L292.71,321.08 L294.43,320.57 L296.14,320.07 L297.86,319.57 L299.57,319.08 L301.29,318.60 L303.00,318.12 L304.71,317.65 L306.43,317.18 L308.14,316.72 L309.86,316.27 L311.57,315.82 L313.29,315.38 L315.00,314.94 L316.72,314.51 L318.44,314.08 L320.15,313.66 L321.87,313.25" stroke-dasharray="1.3 2.95"/>
<path d="M62.90,489.10 L64.61,487.89 L66.33,486.67 L68.05,485.44 L69.76,484.21 L71.47,482.99 L73.19,481.78 L74.91,480.57 L76.62,479.36 L78.33,478.16 L80.05,476.97 L81.77,475.78 L83.48,474.60 L85.19,473.42 L86.91,472.26 L88.62,471.10 L90.34,469.94 L92.06,468.79 L93.77,467.65 L95.48,466.52 L97.20,465.39 L98.91,464.27 L100.63,463.16 L102.34,462.05 L104.06,460.95 L105.78,459.85 L107.49,458.77 L109.20,457.69 L110.92,456.61 L112.63,455.54 L114.35,454.48 L116.06,453.43 L117.78,452.38 L119.50,451.34 L121.21,450.31 L122.93,449.28 L124.64,448.26 L126.36,447.24 L128.07,446.23 L129.78,445.23 L131.50,444.24 L133.22,443.25 L134.93,442.26 L136.65,441.29 L138.36,440.31 L140.07,439.35 L141.79,438.39 L143.50,437.44 L145.22,436.49 L146.94,435.55 L148.65,434.62 L150.37,433.69 L152.08,432.77 L153.80,431.85 L155.51,430.94 L157.22,430.04 L158.94,429.14 L160.66,428.25 L162.37,427.36 L164.09,426.48 L165.80,425.60 L167.52,424.73 L169.23,423.87 L170.94,423.01 L172.66,422.15 L174.38,421.31 L176.09,420.46 L177.81,419.63 L179.52,418.80 L181.24,417.97 L182.95,417.15 L184.66,416.33 L186.38,415.52 L188.09,414.72 L189.81,413.92 L191.53,413.13 L193.24,412.34 L194.96,411.55 L196.67,410.77 L198.39,410.00 L200.10,409.23 L201.82,408.47 L203.53,407.71 L205.25,406.95 L206.96,406.21 L208.68,405.46 L210.39,404.72 L212.11,403.99 L213.82,403.26 L215.54,402.53 L217.25,401.81 L218.97,401.10 L220.68,400.39 L222.40,399.68 L224.11,398.98 L225.83,398.28 L227.54,397.59 L229.26,396.91 L230.97,396.22 L232.69,395.54 L234.40,394.87 L236.12,394.20 L237.83,393.53 L239.55,392.87 L241.26,392.22 L242.98,391.56 L244.69,390.92 L246.41,390.27 L248.12,389.63 L249.84,389.00 L251.55,388.37 L253.27,387.74 L254.98,387.12 L256.69,386.50 L258.41,385.88 L260.12,385.27 L261.84,384.67 L263.56,384.06 L265.27,383.46 L266.99,382.87 L268.70,382.28 L270.42,381.69 L272.13,381.11 L273.85,380.53 L275.56,379.95 L277.27,379.38 L278.99,378.81 L280.70,378.25 L282.42,377.69 L284.13,377.13 L285.85,376.58 L287.56,376.03 L289.28,375.48 L291.00,374.94 L292.71,374.40 L294.43,373.87 L296.14,373.34 L297.86,372.81 L299.57,372.28 L301.29,371.76 L303.00,371.24 L304.71,370.73 L306.43,370.22 L308.14,369.71 L309.86,369.21 L311.57,368.71 L313.29,368.21 L315.00,367.71 L316.72,367.22 L318.44,366.74 L320.15,366.25 L321.87,365.77" stroke-dasharray="1.3 2.95"/>
</g>
<g clip-path="url(#cr1)" fill="none" stroke="#000" stroke-width="1.8">
<path d="M351.50,489.10 L353.21,489.10 L354.93,489.10 L356.64,489.10 L358.36,489.10 L360.07,489.10 L361.79,489.10 L363.50,489.10 L365.22,489.10 L366.94,488.46 L368.65,485.71 L370.37,482.41 L372.08,478.83 L373.80,475.06 L375.51,471.18 L377.23,467.21 L378.94,463.21 L380.65,459.17 L382.37,455.13 L384.08,451.09 L385.80,447.06 L387.51,443.06 L389.23,439.09 L390.94,435.16 L392.66,431.26 L394.38,427.42 L396.09,423.62 L397.81,419.87 L399.52,416.18 L401.24,412.54 L402.95,408.96 L404.67,405.44 L406.38,401.98 L408.10,398.57 L409.81,395.23 L411.52,391.94 L413.24,388.72 L414.95,385.56 L416.67,382.46 L418.38,379.42 L420.10,376.43 L421.81,373.51 L423.53,370.65 L425.25,367.84 L426.96,365.09 L428.68,362.40 L430.39,359.76 L432.11,357.18 L433.82,354.66 L435.54,352.19 L437.25,349.77 L438.97,347.41 L440.68,345.09 L442.39,342.83 L444.11,340.62 L445.82,338.45 L447.54,336.34 L449.25,334.27 L450.97,332.25 L452.69,330.27 L454.40,328.34 L456.12,326.45 L457.83,324.61 L459.55,322.81 L461.26,321.05 L462.98,319.33 L464.69,317.65 L466.40,316.01 L468.12,314.40 L469.84,312.84 L471.55,311.31 L473.26,309.81 L474.98,308.36 L476.69,306.93 L478.41,305.54 L480.12,304.18 L481.84,302.86 L483.56,301.56 L485.27,300.30 L486.99,299.07 L488.70,297.86 L490.42,296.69 L492.13,295.54 L493.85,294.42 L495.56,293.33 L497.27,292.26 L498.99,291.22 L500.71,290.21 L502.42,289.21 L504.13,288.25 L505.85,287.30 L507.56,286.38 L509.28,285.48 L511.00,284.61 L512.71,283.75 L514.42,282.92 L516.14,282.10 L517.86,281.31 L519.57,280.53 L521.28,279.77 L523.00,279.04 L524.72,278.32 L526.43,277.98"/>
<path d="M351.50,489.10 L353.21,489.10 L354.93,489.10 L356.64,489.10 L358.36,489.10 L360.07,489.10 L361.79,489.10 L363.50,489.10 L365.22,489.10 L366.94,489.10 L368.65,487.87 L370.37,485.08 L372.08,482.16 L373.80,479.18 L375.51,476.17 L377.23,473.15 L378.94,470.13 L380.65,467.12 L382.37,464.13 L384.08,461.15 L385.80,458.19 L387.51,455.25 L389.23,452.34 L390.94,449.46 L392.66,446.61 L394.38,443.79 L396.09,441.00 L397.81,438.24 L399.52,435.51 L401.24,432.81 L402.95,430.14 L404.67,427.51 L406.38,424.91 L408.10,422.34 L409.81,419.81 L411.52,417.31 L413.24,414.84 L414.95,412.40 L416.67,410.00 L418.38,407.63 L420.10,405.29 L421.81,402.98 L423.53,400.71 L425.25,398.46 L426.96,396.25 L428.68,394.07 L430.39,391.92 L432.11,389.79 L433.82,387.70 L435.54,385.64 L437.25,383.61 L438.97,381.61 L440.68,379.63 L442.39,377.69 L444.11,375.77 L445.82,373.88 L447.54,372.02 L449.25,370.19 L450.97,368.38 L452.69,366.60 L454.40,364.84 L456.12,363.11 L457.83,361.41 L459.55,359.73 L461.26,358.08 L462.98,356.45 L464.69,354.85 L466.40,353.27 L468.12,351.71 L469.84,350.18 L471.55,348.66 L473.26,347.18 L474.98,345.71 L476.69,344.27 L478.41,342.85 L480.12,341.45 L481.84,340.07 L483.56,338.71 L485.27,337.37 L486.99,336.06 L488.70,334.76 L490.42,333.48 L492.13,332.23 L493.85,330.99 L495.56,329.77 L497.27,328.57 L498.99,327.39 L500.71,326.22 L502.42,325.07 L504.13,323.95 L505.85,322.83 L507.56,321.74 L509.28,320.66 L511.00,319.60 L512.71,318.56 L514.42,317.53 L516.14,316.52 L517.86,315.52 L519.57,314.54 L521.28,313.57 L523.00,312.62 L524.72,311.68 L526.43,310.76 L528.14,309.85 L529.86,308.96 L531.58,308.08 L533.29,307.21 L535.00,306.36 L536.72,305.52 L538.43,304.69 L540.15,303.88 L541.87,303.08 L543.58,302.29 L545.30,301.51 L547.01,300.75 L548.73,300.00 L550.44,299.25 L552.15,298.53 L553.87,297.81 L555.59,297.10 L557.30,296.41 L559.01,295.72 L560.73,295.05 L562.45,294.38 L564.16,293.73 L565.88,293.09 L567.59,292.46 L569.31,291.83 L571.02,291.22 L572.74,290.62 L574.45,290.02 L576.16,289.44 L577.88,288.86 L579.60,288.29 L581.31,287.74 L583.02,287.19 L584.74,286.65 L586.46,286.12 L588.17,285.59 L589.88,285.08 L591.60,284.57 L593.32,284.07 L595.03,283.58 L596.75,283.10 L598.46,282.62 L600.17,282.15 L601.89,281.69 L603.61,281.24 L605.32,280.79 L607.04,280.35 L608.75,279.92 L610.47,279.49"/>
<path d="M351.50,489.10 L353.21,489.10 L354.93,489.10 L356.64,489.10 L358.36,489.10 L360.07,489.10 L361.79,489.08 L363.50,488.95 L365.22,488.70 L366.94,488.31 L368.65,487.79 L370.37,487.15 L372.08,486.40 L373.80,485.52 L375.51,484.54 L377.23,483.46 L378.94,482.29 L380.65,481.02 L382.37,479.67 L384.08,478.25 L385.80,476.75 L387.51,475.19 L389.23,473.56 L390.94,471.88 L392.66,470.15 L394.38,468.37 L396.09,466.55 L397.81,464.69 L399.52,462.80 L401.24,460.88 L402.95,458.93 L404.67,456.96 L406.38,454.97 L408.10,452.96 L409.81,450.94 L411.52,448.91 L413.24,446.88 L414.95,444.83 L416.67,442.79 L418.38,440.74 L420.10,438.69 L421.81,436.65 L423.53,434.61 L425.25,432.58 L426.96,430.56 L428.68,428.54 L430.39,426.54 L432.11,424.55 L433.82,422.57 L435.54,420.61 L437.25,418.66 L438.97,416.73 L440.68,414.82 L442.39,412.93 L444.11,411.05 L445.82,409.19 L447.54,407.36 L449.25,405.54 L450.97,403.75 L452.69,401.97 L454.40,400.22 L456.12,398.49 L457.83,396.79 L459.55,395.10 L461.26,393.44 L462.98,391.81 L464.69,390.19 L466.40,388.60 L468.12,387.03 L469.84,385.49 L471.55,383.97 L473.26,382.47 L474.98,381.00 L476.69,379.55 L478.41,378.12 L480.12,376.72 L481.84,375.34 L483.56,373.98 L485.27,372.65 L486.99,371.34 L488.70,370.05 L490.42,368.78 L492.13,367.54 L493.85,366.32 L495.56,365.12 L497.27,363.94 L498.99,362.78 L500.71,361.65 L502.42,360.53 L504.13,359.44 L505.85,358.36 L507.56,357.31 L509.28,356.27 L511.00,355.26 L512.71,354.26 L514.42,353.29 L516.14,352.33 L517.86,351.39 L519.57,350.47 L521.28,349.57 L523.00,348.68 L524.72,347.82 L526.43,346.97 L528.14,346.13 L529.86,345.32 L531.58,344.52 L533.29,343.73 L535.00,342.96 L536.72,342.21 L538.43,341.47 L540.15,340.75 L541.87,340.04 L543.58,339.35 L545.30,338.67 L547.01,338.01 L548.73,337.36 L550.44,336.72 L552.15,336.10 L553.87,335.49 L555.59,334.89 L557.30,334.30 L559.01,333.73 L560.73,333.17 L562.45,332.62 L564.16,332.08 L565.88,331.55 L567.59,331.04 L569.31,330.54 L571.02,330.04 L572.74,329.56 L574.45,329.09 L576.16,328.63 L577.88,328.17 L579.60,327.73 L581.31,327.30 L583.02,326.87 L584.74,326.46 L586.46,326.06 L588.17,325.66 L589.88,325.27 L591.60,324.89 L593.32,324.52 L595.03,324.16 L596.75,323.80 L598.46,323.45 L600.17,323.12 L601.89,322.78 L603.61,322.46 L605.32,322.14 L607.04,321.83 L608.75,321.53 L610.47,321.23"/>
<path d="M351.50,489.10 L353.21,489.10 L354.93,489.10 L356.64,489.10 L358.36,489.10 L360.07,489.10 L361.79,489.10 L363.50,489.10 L365.22,489.10 L366.94,489.10 L368.65,489.10 L370.37,489.09 L372.08,488.94 L373.80,488.69 L375.51,488.36 L377.23,487.95 L378.94,487.48 L380.65,486.96 L382.37,486.38 L384.08,485.76 L385.80,485.09 L387.51,484.39 L389.23,483.65 L390.94,482.88 L392.66,482.09 L394.38,481.26 L396.09,480.41 L397.81,479.54 L399.52,478.64 L401.24,477.73 L402.95,476.80 L404.67,475.86 L406.38,474.90 L408.10,473.92 L409.81,472.94 L411.52,471.94 L413.24,470.94 L414.95,469.93 L416.67,468.91 L418.38,467.88 L420.10,466.85 L421.81,465.81 L423.53,464.77 L425.25,463.73 L426.96,462.68 L428.68,461.64 L430.39,460.59 L432.11,459.54 L433.82,458.49 L435.54,457.44 L437.25,456.40 L438.97,455.35 L440.68,454.31 L442.39,453.27 L444.11,452.23 L445.82,451.19 L447.54,450.16 L449.25,449.14 L450.97,448.11 L452.69,447.10 L454.40,446.08 L456.12,445.07 L457.83,444.07 L459.55,443.07 L461.26,442.08 L462.98,441.10 L464.69,440.12 L466.40,439.14 L468.12,438.18 L469.84,437.22 L471.55,436.26 L473.26,435.32 L474.98,434.38 L476.69,433.45 L478.41,432.52 L480.12,431.60 L481.84,430.69 L483.56,429.79 L485.27,428.90 L486.99,428.01 L488.70,427.13 L490.42,426.26 L492.13,425.40 L493.85,424.54 L495.56,423.69 L497.27,422.85 L498.99,422.02 L500.71,421.20 L502.42,420.38 L504.13,419.58 L505.85,418.78 L507.56,417.99 L509.28,417.20 L511.00,416.43 L512.71,415.66 L514.42,414.90 L516.14,414.15 L517.86,413.40 L519.57,412.67 L521.28,411.94 L523.00,411.22 L524.72,410.51 L526.43,409.80 L528.14,409.11 L529.86,408.42 L531.58,407.74 L533.29,407.06 L535.00,406.40 L536.72,405.74 L538.43,405.09 L540.15,404.45 L541.87,403.81 L543.58,403.18 L545.30,402.56 L547.01,401.95 L548.73,401.34 L550.44,400.74 L552.15,400.15 L553.87,399.57 L555.59,398.99 L557.30,398.42 L559.01,397.85 L560.73,397.29 L562.45,396.74 L564.16,396.20 L565.88,395.66 L567.59,395.13 L569.31,394.61 L571.02,394.09 L572.74,393.58 L574.45,393.08 L576.16,392.58 L577.88,392.09 L579.60,391.60 L581.31,391.12 L583.02,390.65 L584.74,390.18 L586.46,389.72 L588.17,389.26 L589.88,388.81 L591.60,388.37 L593.32,387.93 L595.03,387.50 L596.75,387.07 L598.46,386.65 L600.17,386.23 L601.89,385.82 L603.61,385.42 L605.32,385.02 L607.04,384.62 L608.75,384.23 L610.47,383.85"/>
<path d="M351.50,489.10 L353.21,489.09 L354.93,489.05 L356.64,488.92 L358.36,488.67 L360.07,488.27 L361.79,487.69 L363.50,486.91 L365.22,485.93 L366.94,484.72 L368.65,483.28 L370.37,481.62 L372.08,479.74 L373.80,477.63 L375.51,475.31 L377.23,472.78 L378.94,470.06 L380.65,467.15 L382.37,464.07 L384.08,460.83 L385.80,457.44 L387.51,453.92 L389.23,450.27 L390.94,446.52 L392.66,442.67 L394.38,438.74 L396.09,434.74 L397.81,430.67 L399.52,426.56 L401.24,422.41 L402.95,418.23 L404.67,414.03 L406.38,409.82 L408.10,405.61 L409.81,401.41 L411.52,397.22 L413.24,393.05 L414.95,388.91 L416.67,384.80 L418.38,380.73 L420.10,376.70 L421.81,372.71 L423.53,368.78 L425.25,364.90 L426.96,361.08 L428.68,357.32 L430.39,353.63 L432.11,349.99 L433.82,346.43 L435.54,342.93 L437.25,339.50 L438.97,336.14 L440.68,332.85 L442.39,329.63 L444.11,326.48 L445.82,323.41 L447.54,320.40 L449.25,317.47 L450.97,314.61 L452.69,311.82 L454.40,309.10 L456.12,306.45 L457.83,303.87 L459.55,301.36 L461.26,298.91 L462.98,296.53 L464.69,294.22 L466.40,291.97 L468.12,289.78 L469.84,287.66 L471.55,285.59 L473.26,283.59 L474.98,281.65 L476.69,279.76 L478.41,277.98" stroke-dasharray="4.4 4.4"/>
<path d="M351.50,489.10 L353.21,489.09 L354.93,489.02 L356.64,488.85 L358.36,488.58 L360.07,488.18 L361.79,487.64 L363.50,486.95 L365.22,486.11 L366.94,485.12 L368.65,483.99 L370.37,482.70 L372.08,481.27 L373.80,479.70 L375.51,478.00 L377.23,476.16 L378.94,474.21 L380.65,472.14 L382.37,469.95 L384.08,467.67 L385.80,465.29 L387.51,462.83 L389.23,460.28 L390.94,457.66 L392.66,454.98 L394.38,452.23 L396.09,449.43 L397.81,446.58 L399.52,443.69 L401.24,440.77 L402.95,437.82 L404.67,434.84 L406.38,431.84 L408.10,428.82 L409.81,425.80 L411.52,422.77 L413.24,419.74 L414.95,416.71 L416.67,413.69 L418.38,410.67 L420.10,407.67 L421.81,404.69 L423.53,401.72 L425.25,398.77 L426.96,395.84 L428.68,392.94 L430.39,390.07 L432.11,387.23 L433.82,384.41 L435.54,381.63 L437.25,378.89 L438.97,376.17 L440.68,373.50 L442.39,370.86 L444.11,368.25 L445.82,365.69 L447.54,363.16 L449.25,360.68 L450.97,358.23 L452.69,355.83 L454.40,353.46 L456.12,351.14 L457.83,348.86 L459.55,346.62 L461.26,344.42 L462.98,342.26 L464.69,340.14 L466.40,338.07 L468.12,336.03 L469.84,334.04 L471.55,332.08 L473.26,330.17 L474.98,328.29 L476.69,326.46 L478.41,324.66 L480.12,322.90 L481.84,321.18 L483.56,319.49 L485.27,317.85 L486.99,316.24 L488.70,314.66 L490.42,313.13 L492.13,311.62 L493.85,310.15 L495.56,308.72 L497.27,307.32 L498.99,305.95 L500.71,304.61 L502.42,303.30 L504.13,302.03 L505.85,300.79 L507.56,299.57 L509.28,298.39 L511.00,297.23 L512.71,296.10 L514.42,295.00 L516.14,293.93 L517.86,292.88 L519.57,291.86 L521.28,290.87 L523.00,289.90 L524.72,288.95 L526.43,288.03 L528.14,287.13 L529.86,286.25 L531.58,285.40 L533.29,284.57 L535.00,283.76 L536.72,282.97 L538.43,282.20 L540.15,281.45 L541.87,280.72 L543.58,280.01 L545.30,279.31 L547.01,278.64 L548.73,277.98 L550.44,277.98" stroke-dasharray="4.4 4.4"/>
<path d="M351.50,489.10 L353.21,489.10 L354.93,489.08 L356.64,489.04 L358.36,488.96 L360.07,488.82 L361.79,488.62 L363.50,488.36 L365.22,488.02 L366.94,487.59 L368.65,487.08 L370.37,486.49 L372.08,485.80 L373.80,485.02 L375.51,484.16 L377.23,483.20 L378.94,482.16 L380.65,481.03 L382.37,479.81 L384.08,478.52 L385.80,477.15 L387.51,475.70 L389.23,474.18 L390.94,472.60 L392.66,470.95 L394.38,469.25 L396.09,467.49 L397.81,465.68 L399.52,463.82 L401.24,461.92 L402.95,459.98 L404.67,458.01 L406.38,456.00 L408.10,453.97 L409.81,451.91 L411.52,449.83 L413.24,447.73 L414.95,445.62 L416.67,443.50 L418.38,441.37 L420.10,439.24 L421.81,437.10 L423.53,434.96 L425.25,432.83 L426.96,430.70 L428.68,428.57 L430.39,426.46 L432.11,424.35 L433.82,422.26 L435.54,420.18 L437.25,418.12 L438.97,416.07 L440.68,414.04 L442.39,412.03 L444.11,410.04 L445.82,408.08 L447.54,406.13 L449.25,404.21 L450.97,402.32 L452.69,400.44 L454.40,398.60 L456.12,396.78 L457.83,394.98 L459.55,393.22 L461.26,391.48 L462.98,389.76 L464.69,388.08 L466.40,386.42 L468.12,384.79 L469.84,383.19 L471.55,381.62 L473.26,380.08 L474.98,378.56 L476.69,377.07 L478.41,375.61 L480.12,374.18 L481.84,372.78 L483.56,371.40 L485.27,370.05 L486.99,368.73 L488.70,367.43 L490.42,366.17 L492.13,364.92 L493.85,363.71 L495.56,362.52 L497.27,361.35 L498.99,360.21 L500.71,359.10 L502.42,358.01 L504.13,356.94 L505.85,355.90 L507.56,354.88 L509.28,353.89 L511.00,352.92 L512.71,351.97 L514.42,351.04 L516.14,350.13 L517.86,349.24 L519.57,348.38 L521.28,347.53 L523.00,346.71 L524.72,345.90 L526.43,345.12 L528.14,344.35 L529.86,343.60 L531.58,342.87 L533.29,342.16 L535.00,341.47 L536.72,340.79 L538.43,340.13 L540.15,339.48 L541.87,338.85 L543.58,338.24 L545.30,337.64 L547.01,337.06 L548.73,336.49 L550.44,335.94 L552.15,335.40 L553.87,334.87 L555.59,334.36 L557.30,333.86 L559.01,333.37 L560.73,332.90 L562.45,332.43 L564.16,331.98 L565.88,331.54 L567.59,331.12 L569.31,330.70 L571.02,330.29 L572.74,329.90 L574.45,329.51 L576.16,329.14 L577.88,328.77 L579.60,328.42 L581.31,328.07 L583.02,327.74 L584.74,327.41 L586.46,327.09 L588.17,326.78 L589.88,326.47 L591.60,326.18 L593.32,325.89 L595.03,325.61 L596.75,325.34 L598.46,325.07 L600.17,324.82 L601.89,324.56 L603.61,324.32 L605.32,324.08 L607.04,323.85 L608.75,323.62 L610.47,323.41" stroke-dasharray="4.4 4.4"/>
<path d="M351.50,489.10 L353.21,489.10 L354.93,489.09 L356.64,489.07 L358.36,489.03 L360.07,488.97 L361.79,488.89 L363.50,488.78 L365.22,488.64 L366.94,488.48 L368.65,488.28 L370.37,488.05 L372.08,487.78 L373.80,487.48 L375.51,487.15 L377.23,486.78 L378.94,486.38 L380.65,485.95 L382.37,485.48 L384.08,484.99 L385.80,484.46 L387.51,483.90 L389.23,483.31 L390.94,482.69 L392.66,482.05 L394.38,481.37 L396.09,480.68 L397.81,479.96 L399.52,479.21 L401.24,478.45 L402.95,477.66 L404.67,476.86 L406.38,476.03 L408.10,475.19 L409.81,474.33 L411.52,473.46 L413.24,472.57 L414.95,471.68 L416.67,470.76 L418.38,469.84 L420.10,468.91 L421.81,467.97 L423.53,467.03 L425.25,466.07 L426.96,465.11 L428.68,464.15 L430.39,463.18 L432.11,462.21 L433.82,461.23 L435.54,460.25 L437.25,459.28 L438.97,458.30 L440.68,457.32 L442.39,456.34 L444.11,455.37 L445.82,454.40 L447.54,453.43 L449.25,452.46 L450.97,451.50 L452.69,450.54 L454.40,449.59 L456.12,448.64 L457.83,447.69 L459.55,446.76 L461.26,445.82 L462.98,444.90 L464.69,443.98 L466.40,443.07 L468.12,442.17 L469.84,441.28 L471.55,440.39 L473.26,439.51 L474.98,438.64 L476.69,437.78 L478.41,436.92 L480.12,436.08 L481.84,435.25 L483.56,434.42 L485.27,433.60 L486.99,432.80 L488.70,432.00 L490.42,431.21 L492.13,430.43 L493.85,429.67 L495.56,428.91 L497.27,428.16 L498.99,427.42 L500.71,426.69 L502.42,425.97 L504.13,425.26 L505.85,424.56 L507.56,423.87 L509.28,423.19 L511.00,422.52 L512.71,421.86 L514.42,421.21 L516.14,420.57 L517.86,419.94 L519.57,419.32 L521.28,418.71 L523.00,418.10 L524.72,417.51 L526.43,416.93 L528.14,416.35 L529.86,415.79 L531.58,415.23 L533.29,414.68 L535.00,414.14 L536.72,413.61 L538.43,413.09 L540.15,412.58 L541.87,412.08 L543.58,411.58 L545.30,411.10 L547.01,410.62 L548.73,410.15 L550.44,409.68 L552.15,409.23 L553.87,408.78 L555.59,408.34 L557.30,407.91 L559.01,407.49 L560.73,407.07 L562.45,406.67 L564.16,406.27 L565.88,405.87 L567.59,405.48 L569.31,405.10 L571.02,404.73 L572.74,404.37 L574.45,404.01 L576.16,403.65 L577.88,403.31 L579.60,402.97 L581.31,402.63 L583.02,402.31 L584.74,401.98 L586.46,401.67 L588.17,401.36 L589.88,401.05 L591.60,400.76 L593.32,400.46 L595.03,400.18 L596.75,399.90 L598.46,399.62 L600.17,399.35 L601.89,399.08 L603.61,398.82 L605.32,398.57 L607.04,398.32 L608.75,398.07 L610.47,397.83" stroke-dasharray="4.4 4.4"/>
<path d="M351.50,482.20 L353.21,481.14 L354.93,479.90 L356.64,478.49 L358.36,476.95 L360.07,475.30 L361.79,473.55 L363.50,471.69 L365.22,469.75 L366.94,467.72 L368.65,465.62 L370.37,463.44 L372.08,460.98 L373.80,458.30 L375.51,455.54 L377.23,452.81 L378.94,450.23 L380.65,447.80 L382.37,445.44 L384.08,443.08 L385.80,440.66 L387.51,438.15 L389.23,435.59 L390.94,432.99 L392.66,430.31 L394.38,427.51 L396.09,424.55 L397.81,421.33 L399.52,417.87 L401.24,414.24 L402.95,410.53 L404.67,406.79 L406.38,403.11 L408.10,399.55 L409.81,396.19 L411.52,393.12 L413.24,390.40 L414.95,387.61 L416.67,384.37 L418.38,380.81 L420.10,377.03 L421.81,373.14 L423.53,369.22 L425.25,365.37 L426.96,361.69 L428.68,358.10 L430.39,354.48 L432.11,350.91 L433.82,347.45 L435.54,344.17 L437.25,341.12 L438.97,338.27 L440.68,335.52 L442.39,332.87 L444.11,330.30 L445.82,327.81 L447.54,325.39 L449.25,323.02 L450.97,320.70 L452.69,318.42 L454.40,316.17 L456.12,313.93 L457.83,311.71 L459.55,309.48 L461.26,307.29 L462.98,305.20 L464.69,303.17 L466.40,301.16 L468.12,299.13 L469.84,297.05 L471.55,294.87 L473.26,292.56 L474.98,290.10 L476.69,287.56 L478.41,285.02 L480.12,282.55 L481.84,280.21 L483.56,278.00 L485.27,277.98" stroke-dasharray="1.3 2.95"/>
<path d="M351.50,486.66 L353.21,486.17 L354.93,485.58 L356.64,484.87 L358.36,484.06 L360.07,483.16 L361.79,482.18 L363.50,481.13 L365.22,480.01 L366.94,478.85 L368.65,477.65 L370.37,476.42 L372.08,475.13 L373.80,473.77 L375.51,472.32 L377.23,470.78 L378.94,469.14 L380.65,467.40 L382.37,465.53 L384.08,463.44 L385.80,460.99 L387.51,458.38 L389.23,455.81 L390.94,453.35 L392.66,450.95 L394.38,448.60 L396.09,446.29 L397.81,444.01 L399.52,441.76 L401.24,439.53 L402.95,437.32 L404.67,435.12 L406.38,432.91 L408.10,430.70 L409.81,428.47 L411.52,426.23 L413.24,423.96 L414.95,421.65 L416.67,419.31 L418.38,416.92 L420.10,414.47 L421.81,411.96 L423.53,409.39 L425.25,406.73 L426.96,404.00 L428.68,401.18 L430.39,398.27 L432.11,395.25 L433.82,392.12 L435.54,388.88 L437.25,385.51 L438.97,381.96 L440.68,377.15 L442.39,372.78 L444.11,369.79 L445.82,367.11 L447.54,364.71 L449.25,362.52 L450.97,360.50 L452.69,358.59 L454.40,356.74 L456.12,354.91 L457.83,353.03 L459.55,351.06 L461.26,349.00 L462.98,346.91 L464.69,344.83 L466.40,342.80 L468.12,340.82 L469.84,338.94 L471.55,337.18 L473.26,335.53 L474.98,333.92 L476.69,332.34 L478.41,330.79 L480.12,329.27 L481.84,327.78 L483.56,326.32 L485.27,324.88 L486.99,323.47 L488.70,322.08 L490.42,320.72 L492.13,319.37 L493.85,318.05 L495.56,316.74 L497.27,315.45 L498.99,314.17 L500.71,312.91 L502.42,311.66 L504.13,310.42 L505.85,309.19 L507.56,307.97 L509.28,306.76 L511.00,305.55 L512.71,304.35 L514.42,303.15 L516.14,301.95 L517.86,300.75 L519.57,299.55 L521.28,298.35 L523.00,297.14 L524.72,295.93 L526.43,294.71 L528.14,293.49 L529.86,292.25 L531.58,291.01 L533.29,289.75 L535.00,288.48 L536.72,287.19 L538.43,285.89 L540.15,284.57 L541.87,283.23 L543.58,281.87 L545.30,280.49 L547.01,279.09 L548.73,277.98" stroke-dasharray="1.3 2.95"/>
<path d="M351.50,489.10 L353.21,489.10 L354.93,489.07 L356.64,488.99 L358.36,488.87 L360.07,488.67 L361.79,488.40 L363.50,488.05 L365.22,487.61 L366.94,487.08 L368.65,486.45 L370.37,485.74 L372.08,484.94 L373.80,484.04 L375.51,483.05 L377.23,481.98 L378.94,480.82 L380.65,479.57 L382.37,478.25 L384.08,476.86 L385.80,475.39 L387.51,473.85 L389.23,472.25 L390.94,470.58 L392.66,468.86 L394.38,467.09 L396.09,465.27 L397.81,463.40 L399.52,461.50 L401.24,459.55 L402.95,457.57 L404.67,455.57 L406.38,453.53 L408.10,451.47 L409.81,449.40 L411.52,447.30 L413.24,445.19 L414.95,443.07 L416.67,440.94 L418.38,438.81 L420.10,436.67 L421.81,434.53 L423.53,432.39 L425.25,430.26 L426.96,428.13 L428.68,426.01 L430.39,423.90 L432.11,421.80 L433.82,419.71 L435.54,417.63 L437.25,415.57 L438.97,413.53 L440.68,411.50 L442.39,409.49 L444.11,407.51 L445.82,405.54 L447.54,403.59 L449.25,401.67 L450.97,399.77 L452.69,397.89 L454.40,396.04 L456.12,394.21 L457.83,392.40 L459.55,390.62 L461.26,388.87 L462.98,387.14 L464.69,385.44 L466.40,383.76 L468.12,382.11 L469.84,380.49 L471.55,378.90 L473.26,377.33 L474.98,375.78 L476.69,374.27 L478.41,372.78 L480.12,371.32 L481.84,369.88 L483.56,368.47 L485.27,367.09 L486.99,365.73 L488.70,364.39 L490.42,363.09 L492.13,361.80 L493.85,360.55 L495.56,359.32 L497.27,358.11 L498.99,356.92 L500.71,355.76 L502.42,354.63 L504.13,353.52 L505.85,352.43 L507.56,351.36 L509.28,350.31 L511.00,349.29 L512.71,348.29 L514.42,347.31 L516.14,346.35 L517.86,345.42 L519.57,344.50 L521.28,343.60 L523.00,342.72 L524.72,341.87 L526.43,341.03 L528.14,340.21 L529.86,339.40 L531.58,338.62 L533.29,337.85 L535.00,337.11 L536.72,336.37 L538.43,335.66 L540.15,334.96 L541.87,334.28 L543.58,333.61 L545.30,332.96 L547.01,332.32 L548.73,331.70 L550.44,331.10 L552.15,330.50 L553.87,329.92 L555.59,329.36 L557.30,328.81 L559.01,328.27 L560.73,327.74 L562.45,327.23 L564.16,326.73 L565.88,326.24 L567.59,325.76 L569.31,325.30 L571.02,324.84 L572.74,324.40 L574.45,323.97 L576.16,323.54 L577.88,323.13 L579.60,322.73 L581.31,322.34 L583.02,321.95 L584.74,321.58 L586.46,321.22 L588.17,320.86 L589.88,320.52 L591.60,320.18 L593.32,319.85 L595.03,319.53 L596.75,319.21 L598.46,318.91 L600.17,318.61 L601.89,318.32 L603.61,318.03 L605.32,317.76 L607.04,317.49 L608.75,317.22 L610.47,316.97" stroke-dasharray="1.3 2.95"/>
<path d="M351.50,489.10 L353.21,489.10 L354.93,489.10 L356.64,489.10 L358.36,489.10 L360.07,489.10 L361.79,489.09 L363.50,489.08 L365.22,489.07 L366.94,489.05 L368.65,489.02 L370.37,488.97 L372.08,488.91 L373.80,488.83 L375.51,488.72 L377.23,488.59 L378.94,488.43 L380.65,488.24 L382.37,488.01 L384.08,487.74 L385.80,487.44 L387.51,487.09 L389.23,486.70 L390.94,486.26 L392.66,485.77 L394.38,485.24 L396.09,484.66 L397.81,484.03 L399.52,483.35 L401.24,482.62 L402.95,481.85 L404.67,481.03 L406.38,480.16 L408.10,479.24 L409.81,478.28 L411.52,477.28 L413.24,476.24 L414.95,475.16 L416.67,474.04 L418.38,472.89 L420.10,471.70 L421.81,470.48 L423.53,469.24 L425.25,467.97 L426.96,466.67 L428.68,465.35 L430.39,464.01 L432.11,462.65 L433.82,461.28 L435.54,459.89 L437.25,458.49 L438.97,457.08 L440.68,455.67 L442.39,454.25 L444.11,452.82 L445.82,451.39 L447.54,449.96 L449.25,448.54 L450.97,447.11 L452.69,445.69 L454.40,444.28 L456.12,442.87 L457.83,441.47 L459.55,440.08 L461.26,438.70 L462.98,437.33 L464.69,435.97 L466.40,434.63 L468.12,433.30 L469.84,431.98 L471.55,430.69 L473.26,429.40 L474.98,428.14 L476.69,426.89 L478.41,425.66 L480.12,424.44 L481.84,423.25 L483.56,422.07 L485.27,420.92 L486.99,419.78 L488.70,418.66 L490.42,417.57 L492.13,416.49 L493.85,415.43 L495.56,414.39 L497.27,413.37 L498.99,412.37 L500.71,411.39 L502.42,410.43 L504.13,409.49 L505.85,408.57 L507.56,407.67 L509.28,406.79 L511.00,405.93 L512.71,405.09 L514.42,404.26 L516.14,403.46 L517.86,402.67 L519.57,401.90 L521.28,401.15 L523.00,400.41 L524.72,399.70 L526.43,399.00 L528.14,398.31 L529.86,397.65 L531.58,397.00 L533.29,396.36 L535.00,395.74 L536.72,395.14 L538.43,394.55 L540.15,393.98 L541.87,393.42 L543.58,392.87 L545.30,392.34 L547.01,391.83 L548.73,391.32 L550.44,390.83 L552.15,390.35 L553.87,389.89 L555.59,389.44 L557.30,389.00 L559.01,388.57 L560.73,388.15 L562.45,387.74 L564.16,387.35 L565.88,386.96 L567.59,386.59 L569.31,386.23 L571.02,385.87 L572.74,385.53 L574.45,385.19 L576.16,384.87 L577.88,384.55 L579.60,384.24 L581.31,383.94 L583.02,383.65 L584.74,383.37 L586.46,383.09 L588.17,382.83 L589.88,382.57 L591.60,382.31 L593.32,382.07 L595.03,381.83 L596.75,381.60 L598.46,381.37 L600.17,381.16 L601.89,380.94 L603.61,380.74 L605.32,380.54 L607.04,380.34 L608.75,380.15 L610.47,379.97" stroke-dasharray="1.3 2.95"/>
</g>
<g clip-path="url(#cl2)" fill="none" stroke="#000" stroke-width="1.8">
<path d="M62.90,711.70 L64.61,710.87 L66.33,709.25 L68.05,707.14 L69.76,704.67 L71.47,701.90 L73.19,698.91 L74.91,695.73 L76.62,692.39 L78.33,688.94 L80.05,685.39 L81.77,681.76 L83.48,678.07 L85.19,674.35 L86.91,670.59 L88.62,666.81 L90.34,663.03 L92.06,659.26 L93.77,655.49 L95.48,651.74 L97.20,648.01 L98.91,644.31 L100.63,640.65 L102.34,637.02 L104.06,633.44 L105.78,629.90 L107.49,626.41 L109.20,622.97 L110.92,619.58 L112.63,616.24 L114.35,612.96 L116.06,609.74 L117.78,606.57 L119.50,603.46 L121.21,600.41 L122.93,597.41 L124.64,594.48 L126.36,591.60 L128.07,588.78 L129.78,586.03 L131.50,583.33 L133.22,580.68 L134.93,578.10 L136.65,575.57 L138.36,573.10 L140.07,570.69 L141.79,568.33 L143.50,566.02 L145.22,563.77 L146.94,561.58 L148.65,559.43 L150.37,557.34 L152.08,555.29 L153.80,553.30 L155.51,551.36 L157.22,549.46 L158.94,547.61 L160.66,545.81 L162.37,544.05 L164.09,542.34 L165.80,540.67 L167.52,539.04 L169.23,537.45 L170.94,535.91 L172.66,534.40 L174.38,532.94 L176.09,531.51 L177.81,530.12 L179.52,528.77 L181.24,527.45 L182.95,526.17 L184.66,524.92 L186.38,523.71 L188.09,522.52 L189.81,521.37 L191.53,520.25 L193.24,519.16 L194.96,518.10 L196.67,517.07 L198.39,516.06 L200.10,515.09 L201.82,514.14 L203.53,513.21 L205.25,512.32 L206.96,511.44 L208.68,510.59 L210.39,509.76 L212.11,508.96 L213.82,508.18 L215.54,507.42 L217.25,506.68 L218.97,505.96 L220.68,505.26 L222.40,504.58 L224.11,503.92 L225.83,503.28 L227.54,502.66 L229.26,502.05 L230.97,501.46 L232.69,500.89 L234.40,500.33 L236.12,499.79 L237.83,499.27 L239.55,498.75 L241.26,498.26 L242.98,498.04"/>
<path d="M62.90,711.70 L64.61,711.10 L66.33,709.96 L68.05,708.47 L69.76,706.73 L71.47,704.77 L73.19,702.65 L74.91,700.39 L76.62,698.02 L78.33,695.54 L80.05,692.99 L81.77,690.36 L83.48,687.69 L85.19,684.97 L86.91,682.21 L88.62,679.43 L90.34,676.62 L92.06,673.81 L93.77,670.98 L95.48,668.16 L97.20,665.33 L98.91,662.51 L100.63,659.71 L102.34,656.91 L104.06,654.14 L105.78,651.38 L107.49,648.64 L109.20,645.93 L110.92,643.24 L112.63,640.58 L114.35,637.94 L116.06,635.34 L117.78,632.77 L119.50,630.23 L121.21,627.72 L122.93,625.25 L124.64,622.81 L126.36,620.41 L128.07,618.04 L129.78,615.71 L131.50,613.42 L133.22,611.16 L134.93,608.93 L136.65,606.75 L138.36,604.60 L140.07,602.48 L141.79,600.40 L143.50,598.36 L145.22,596.36 L146.94,594.39 L148.65,592.45 L150.37,590.56 L152.08,588.69 L153.80,586.86 L155.51,585.07 L157.22,583.31 L158.94,581.59 L160.66,579.89 L162.37,578.23 L164.09,576.61 L165.80,575.01 L167.52,573.45 L169.23,571.92 L170.94,570.42 L172.66,568.95 L174.38,567.51 L176.09,566.10 L177.81,564.71 L179.52,563.36 L181.24,562.04 L182.95,560.74 L184.66,559.47 L186.38,558.23 L188.09,557.01 L189.81,555.82 L191.53,554.65 L193.24,553.51 L194.96,552.40 L196.67,551.30 L198.39,550.23 L200.10,549.19 L201.82,548.17 L203.53,547.17 L205.25,546.19 L206.96,545.23 L208.68,544.30 L210.39,543.38 L212.11,542.49 L213.82,541.61 L215.54,540.75 L217.25,539.92 L218.97,539.10 L220.68,538.30 L222.40,537.52 L224.11,536.75 L225.83,536.01 L227.54,535.28 L229.26,534.56 L230.97,533.87 L232.69,533.18 L234.40,532.52 L236.12,531.87 L237.83,531.23 L239.55,530.61 L241.26,530.00 L242.98,529.41 L244.69,528.83 L246.41,528.26 L248.12,527.70 L249.84,527.16 L251.55,526.63 L253.27,526.12 L254.98,525.61 L256.69,525.12 L258.41,524.64 L260.12,524.17 L261.84,523.71 L263.56,523.26 L265.27,522.82 L266.99,522.39 L268.70,521.97 L270.42,521.56 L272.13,521.16 L273.85,520.77 L275.56,520.39 L277.27,520.02 L278.99,519.66 L280.70,519.30 L282.42,518.96 L284.13,518.62 L285.85,518.29 L287.56,517.96 L289.28,517.65 L291.00,517.34 L292.71,517.04 L294.43,516.75 L296.14,516.46 L297.86,516.18 L299.57,515.91 L301.29,515.64 L303.00,515.38 L304.71,515.12 L306.43,514.87 L308.14,514.63 L309.86,514.39 L311.57,514.16 L313.29,513.94 L315.00,513.72 L316.72,513.50 L318.44,513.29 L320.15,513.09 L321.87,512.88"/>
<path d="M62.90,711.70 L64.61,710.87 L66.33,709.61 L68.05,708.12 L69.76,706.48 L71.47,704.72 L73.19,702.88 L74.91,700.97 L76.62,699.01 L78.33,697.00 L80.05,694.97 L81.77,692.91 L83.48,690.83 L85.19,688.74 L86.91,686.64 L88.62,684.54 L90.34,682.43 L92.06,680.33 L93.77,678.24 L95.48,676.16 L97.20,674.08 L98.91,672.02 L100.63,669.97 L102.34,667.94 L104.06,665.92 L105.78,663.93 L107.49,661.95 L109.20,659.99 L110.92,658.05 L112.63,656.13 L114.35,654.24 L116.06,652.37 L117.78,650.52 L119.50,648.69 L121.21,646.89 L122.93,645.11 L124.64,643.35 L126.36,641.62 L128.07,639.91 L129.78,638.23 L131.50,636.57 L133.22,634.93 L134.93,633.32 L136.65,631.74 L138.36,630.17 L140.07,628.64 L141.79,627.12 L143.50,625.63 L145.22,624.17 L146.94,622.72 L148.65,621.30 L150.37,619.91 L152.08,618.53 L153.80,617.18 L155.51,615.85 L157.22,614.55 L158.94,613.26 L160.66,612.00 L162.37,610.76 L164.09,609.54 L165.80,608.34 L167.52,607.16 L169.23,606.01 L170.94,604.87 L172.66,603.75 L174.38,602.66 L176.09,601.58 L177.81,600.52 L179.52,599.48 L181.24,598.46 L182.95,597.46 L184.66,596.47 L186.38,595.51 L188.09,594.56 L189.81,593.63 L191.53,592.71 L193.24,591.81 L194.96,590.93 L196.67,590.07 L198.39,589.22 L200.10,588.39 L201.82,587.57 L203.53,586.77 L205.25,585.98 L206.96,585.21 L208.68,584.45 L210.39,583.71 L212.11,582.98 L213.82,582.26 L215.54,581.56 L217.25,580.87 L218.97,580.19 L220.68,579.53 L222.40,578.88 L224.11,578.24 L225.83,577.61 L227.54,577.00 L229.26,576.40 L230.97,575.81 L232.69,575.23 L234.40,574.66 L236.12,574.10 L237.83,573.56 L239.55,573.02 L241.26,572.49 L242.98,571.98 L244.69,571.47 L246.41,570.98 L248.12,570.49 L249.84,570.02 L251.55,569.55 L253.27,569.09 L254.98,568.64 L256.69,568.20 L258.41,567.77 L260.12,567.35 L261.84,566.93 L263.56,566.53 L265.27,566.13 L266.99,565.74 L268.70,565.35 L270.42,564.98 L272.13,564.61 L273.85,564.25 L275.56,563.89 L277.27,563.55 L278.99,563.21 L280.70,562.87 L282.42,562.55 L284.13,562.23 L285.85,561.91 L287.56,561.60 L289.28,561.30 L291.00,561.01 L292.71,560.72 L294.43,560.43 L296.14,560.15 L297.86,559.88 L299.57,559.61 L301.29,559.35 L303.00,559.09 L304.71,558.84 L306.43,558.60 L308.14,558.35 L309.86,558.12 L311.57,557.88 L313.29,557.66 L315.00,557.43 L316.72,557.21 L318.44,557.00 L320.15,556.79 L321.87,556.58"/>
<path d="M62.90,711.70 L64.61,711.36 L66.33,710.77 L68.05,710.02 L69.76,709.17 L71.47,708.23 L73.19,707.22 L74.91,706.15 L76.62,705.03 L78.33,703.87 L80.05,702.68 L81.77,701.46 L83.48,700.21 L85.19,698.94 L86.91,697.66 L88.62,696.37 L90.34,695.06 L92.06,693.75 L93.77,692.43 L95.48,691.10 L97.20,689.78 L98.91,688.45 L100.63,687.13 L102.34,685.81 L104.06,684.49 L105.78,683.18 L107.49,681.88 L109.20,680.58 L110.92,679.29 L112.63,678.01 L114.35,676.74 L116.06,675.47 L117.78,674.22 L119.50,672.98 L121.21,671.75 L122.93,670.54 L124.64,669.33 L126.36,668.14 L128.07,666.96 L129.78,665.79 L131.50,664.64 L133.22,663.50 L134.93,662.37 L136.65,661.26 L138.36,660.16 L140.07,659.08 L141.79,658.01 L143.50,656.95 L145.22,655.91 L146.94,654.88 L148.65,653.86 L150.37,652.86 L152.08,651.88 L153.80,650.90 L155.51,649.94 L157.22,649.00 L158.94,648.07 L160.66,647.15 L162.37,646.25 L164.09,645.36 L165.80,644.48 L167.52,643.62 L169.23,642.77 L170.94,641.93 L172.66,641.11 L174.38,640.30 L176.09,639.50 L177.81,638.72 L179.52,637.95 L181.24,637.19 L182.95,636.44 L184.66,635.70 L186.38,634.98 L188.09,634.27 L189.81,633.57 L191.53,632.88 L193.24,632.20 L194.96,631.54 L196.67,630.89 L198.39,630.24 L200.10,629.61 L201.82,628.99 L203.53,628.38 L205.25,627.78 L206.96,627.19 L208.68,626.61 L210.39,626.04 L212.11,625.48 L213.82,624.93 L215.54,624.39 L217.25,623.86 L218.97,623.34 L220.68,622.82 L222.40,622.32 L224.11,621.82 L225.83,621.34 L227.54,620.86 L229.26,620.39 L230.97,619.93 L232.69,619.48 L234.40,619.03 L236.12,618.60 L237.83,618.17 L239.55,617.75 L241.26,617.34 L242.98,616.93 L244.69,616.53 L246.41,616.14 L248.12,615.76 L249.84,615.38 L251.55,615.01 L253.27,614.65 L254.98,614.29 L256.69,613.94 L258.41,613.59 L260.12,613.26 L261.84,612.93 L263.56,612.60 L265.27,612.28 L266.99,611.97 L268.70,611.66 L270.42,611.36 L272.13,611.06 L273.85,610.77 L275.56,610.48 L277.27,610.20 L278.99,609.93 L280.70,609.66 L282.42,609.39 L284.13,609.13 L285.85,608.88 L287.56,608.63 L289.28,608.38 L291.00,608.14 L292.71,607.91 L294.43,607.67 L296.14,607.45 L297.86,607.22 L299.57,607.00 L301.29,606.79 L303.00,606.58 L304.71,606.37 L306.43,606.16 L308.14,605.97 L309.86,605.77 L311.57,605.58 L313.29,605.39 L315.00,605.20 L316.72,605.02 L318.44,604.84 L320.15,604.67 L321.87,604.50"/>
<path d="M62.90,711.70 L64.61,709.07 L66.33,705.79 L68.05,702.27 L69.76,698.60 L71.47,694.86 L73.19,691.06 L74.91,687.24 L76.62,683.42 L78.33,679.60 L80.05,675.79 L81.77,672.01 L83.48,668.26 L85.19,664.55 L86.91,660.87 L88.62,657.24 L90.34,653.65 L92.06,650.11 L93.77,646.62 L95.48,643.18 L97.20,639.79 L98.91,636.45 L100.63,633.17 L102.34,629.94 L104.06,626.76 L105.78,623.64 L107.49,620.57 L109.20,617.55 L110.92,614.59 L112.63,611.68 L114.35,608.83 L116.06,606.02 L117.78,603.27 L119.50,600.58 L121.21,597.93 L122.93,595.33 L124.64,592.79 L126.36,590.29 L128.07,587.84 L129.78,585.44 L131.50,583.09 L133.22,580.78 L134.93,578.52 L136.65,576.31 L138.36,574.14 L140.07,572.02 L141.79,569.93 L143.50,567.90 L145.22,565.90 L146.94,563.94 L148.65,562.03 L150.37,560.15 L152.08,558.31 L153.80,556.52 L155.51,554.76 L157.22,553.03 L158.94,551.34 L160.66,549.69 L162.37,548.08 L164.09,546.49 L165.80,544.94 L167.52,543.43 L169.23,541.94 L170.94,540.49 L172.66,539.07 L174.38,537.68 L176.09,536.32 L177.81,534.99 L179.52,533.69 L181.24,532.41 L182.95,531.17 L184.66,529.95 L186.38,528.75 L188.09,527.59 L189.81,526.44 L191.53,525.33 L193.24,524.23 L194.96,523.17 L196.67,522.12 L198.39,521.10 L200.10,520.10 L201.82,519.12 L203.53,518.16 L205.25,517.23 L206.96,516.31 L208.68,515.42 L210.39,514.54 L212.11,513.68 L213.82,512.85 L215.54,512.03 L217.25,511.23 L218.97,510.44 L220.68,509.68 L222.40,508.93 L224.11,508.20 L225.83,507.48 L227.54,506.78 L229.26,506.10 L230.97,505.43 L232.69,504.77 L234.40,504.13 L236.12,503.51 L237.83,502.90 L239.55,502.30 L241.26,501.71 L242.98,501.14 L244.69,500.58 L246.41,500.04 L248.12,499.50 L249.84,498.98 L251.55,498.47 L253.27,498.04" stroke-dasharray="4.4 4.4"/>
<path d="M62.90,711.70 L64.61,710.09 L66.33,707.98 L68.05,705.65 L69.76,703.18 L71.47,700.62 L73.19,697.99 L74.91,695.30 L76.62,692.59 L78.33,689.84 L80.05,687.08 L81.77,684.31 L83.48,681.54 L85.19,678.76 L86.91,675.99 L88.62,673.23 L90.34,670.48 L92.06,667.74 L93.77,665.02 L95.48,662.32 L97.20,659.63 L98.91,656.97 L100.63,654.33 L102.34,651.71 L104.06,649.11 L105.78,646.54 L107.49,644.00 L109.20,641.48 L110.92,638.99 L112.63,636.52 L114.35,634.08 L116.06,631.67 L117.78,629.29 L119.50,626.94 L121.21,624.61 L122.93,622.31 L124.64,620.05 L126.36,617.81 L128.07,615.59 L129.78,613.41 L131.50,611.26 L133.22,609.13 L134.93,607.03 L136.65,604.96 L138.36,602.92 L140.07,600.91 L141.79,598.92 L143.50,596.97 L145.22,595.03 L146.94,593.13 L148.65,591.25 L150.37,589.40 L152.08,587.58 L153.80,585.78 L155.51,584.01 L157.22,582.27 L158.94,580.55 L160.66,578.85 L162.37,577.18 L164.09,575.54 L165.80,573.92 L167.52,572.32 L169.23,570.75 L170.94,569.20 L172.66,567.68 L174.38,566.17 L176.09,564.70 L177.81,563.24 L179.52,561.80 L181.24,560.39 L182.95,559.00 L184.66,557.63 L186.38,556.28 L188.09,554.96 L189.81,553.65 L191.53,552.36 L193.24,551.10 L194.96,549.85 L196.67,548.63 L198.39,547.42 L200.10,546.23 L201.82,545.06 L203.53,543.91 L205.25,542.78 L206.96,541.66 L208.68,540.56 L210.39,539.48 L212.11,538.42 L213.82,537.37 L215.54,536.35 L217.25,535.33 L218.97,534.34 L220.68,533.36 L222.40,532.39 L224.11,531.44 L225.83,530.51 L227.54,529.59 L229.26,528.69 L230.97,527.80 L232.69,526.92 L234.40,526.06 L236.12,525.21 L237.83,524.38 L239.55,523.56 L241.26,522.76 L242.98,521.96 L244.69,521.18 L246.41,520.42 L248.12,519.66 L249.84,518.92 L251.55,518.19 L253.27,517.47 L254.98,516.76 L256.69,516.07 L258.41,515.39 L260.12,514.71 L261.84,514.05 L263.56,513.40 L265.27,512.76 L266.99,512.13 L268.70,511.51 L270.42,510.91 L272.13,510.31 L273.85,509.72 L275.56,509.14 L277.27,508.57 L278.99,508.01 L280.70,507.46 L282.42,506.92 L284.13,506.39 L285.85,505.86 L287.56,505.35 L289.28,504.84 L291.00,504.34 L292.71,503.85 L294.43,503.37 L296.14,502.90 L297.86,502.43 L299.57,501.98 L301.29,501.53 L303.00,501.08 L304.71,500.65 L306.43,500.22 L308.14,499.80 L309.86,499.38 L311.57,498.98 L313.29,498.58 L315.00,498.18 L316.72,498.04" stroke-dasharray="4.4 4.4"/>
<path d="M62.90,711.70 L64.61,710.45 L66.33,708.88 L68.05,707.18 L69.76,705.39 L71.47,703.53 L73.19,701.64 L74.91,699.70 L76.62,697.75 L78.33,695.77 L80.05,693.78 L81.77,691.77 L83.48,689.76 L85.19,687.75 L86.91,685.73 L88.62,683.72 L90.34,681.70 L92.06,679.69 L93.77,677.69 L95.48,675.69 L97.20,673.69 L98.91,671.71 L100.63,669.73 L102.34,667.77 L104.06,665.81 L105.78,663.86 L107.49,661.93 L109.20,660.01 L110.92,658.10 L112.63,656.20 L114.35,654.31 L116.06,652.44 L117.78,650.58 L119.50,648.74 L121.21,646.91 L122.93,645.09 L124.64,643.29 L126.36,641.50 L128.07,639.73 L129.78,637.97 L131.50,636.23 L133.22,634.50 L134.93,632.79 L136.65,631.09 L138.36,629.41 L140.07,627.74 L141.79,626.09 L143.50,624.45 L145.22,622.83 L146.94,621.22 L148.65,619.63 L150.37,618.05 L152.08,616.49 L153.80,614.94 L155.51,613.41 L157.22,611.89 L158.94,610.39 L160.66,608.90 L162.37,607.43 L164.09,605.97 L165.80,604.53 L167.52,603.10 L169.23,601.68 L170.94,600.28 L172.66,598.90 L174.38,597.53 L176.09,596.17 L177.81,594.82 L179.52,593.49 L181.24,592.18 L182.95,590.87 L184.66,589.59 L186.38,588.31 L188.09,587.05 L189.81,585.80 L191.53,584.56 L193.24,583.34 L194.96,582.13 L196.67,580.94 L198.39,579.75 L200.10,578.58 L201.82,577.42 L203.53,576.28 L205.25,575.14 L206.96,574.02 L208.68,572.91 L210.39,571.82 L212.11,570.73 L213.82,569.66 L215.54,568.60 L217.25,567.55 L218.97,566.51 L220.68,565.48 L222.40,564.47 L224.11,563.47 L225.83,562.47 L227.54,561.49 L229.26,560.52 L230.97,559.56 L232.69,558.61 L234.40,557.67 L236.12,556.74 L237.83,555.83 L239.55,554.92 L241.26,554.02 L242.98,553.13 L244.69,552.26 L246.41,551.39 L248.12,550.53 L249.84,549.68 L251.55,548.84 L253.27,548.01 L254.98,547.20 L256.69,546.38 L258.41,545.58 L260.12,544.79 L261.84,544.01 L263.56,543.24 L265.27,542.47 L266.99,541.71 L268.70,540.97 L270.42,540.23 L272.13,539.50 L273.85,538.77 L275.56,538.06 L277.27,537.35 L278.99,536.66 L280.70,535.97 L282.42,535.28 L284.13,534.61 L285.85,533.94 L287.56,533.29 L289.28,532.64 L291.00,531.99 L292.71,531.36 L294.43,530.73 L296.14,530.11 L297.86,529.49 L299.57,528.89 L301.29,528.29 L303.00,527.69 L304.71,527.11 L306.43,526.53 L308.14,525.95 L309.86,525.39 L311.57,524.83 L313.29,524.28 L315.00,523.73 L316.72,523.19 L318.44,522.66 L320.15,522.13 L321.87,521.61" stroke-dasharray="4.4 4.4"/>
<path d="M62.90,711.70 L64.61,711.28 L66.33,710.63 L68.05,709.87 L69.76,709.02 L71.47,708.11 L73.19,707.14 L74.91,706.12 L76.62,705.07 L78.33,703.98 L80.05,702.86 L81.77,701.71 L83.48,700.55 L85.19,699.36 L86.91,698.15 L88.62,696.93 L90.34,695.69 L92.06,694.44 L93.77,693.18 L95.48,691.91 L97.20,690.63 L98.91,689.34 L100.63,688.05 L102.34,686.75 L104.06,685.44 L105.78,684.14 L107.49,682.83 L109.20,681.51 L110.92,680.20 L112.63,678.88 L114.35,677.57 L116.06,676.25 L117.78,674.94 L119.50,673.62 L121.21,672.31 L122.93,671.00 L124.64,669.69 L126.36,668.38 L128.07,667.08 L129.78,665.78 L131.50,664.48 L133.22,663.19 L134.93,661.90 L136.65,660.61 L138.36,659.33 L140.07,658.06 L141.79,656.79 L143.50,655.52 L145.22,654.26 L146.94,653.00 L148.65,651.75 L150.37,650.51 L152.08,649.27 L153.80,648.04 L155.51,646.81 L157.22,645.59 L158.94,644.38 L160.66,643.17 L162.37,641.97 L164.09,640.78 L165.80,639.59 L167.52,638.41 L169.23,637.23 L170.94,636.07 L172.66,634.91 L174.38,633.76 L176.09,632.61 L177.81,631.47 L179.52,630.34 L181.24,629.21 L182.95,628.10 L184.66,626.99 L186.38,625.88 L188.09,624.79 L189.81,623.70 L191.53,622.62 L193.24,621.55 L194.96,620.48 L196.67,619.42 L198.39,618.37 L200.10,617.33 L201.82,616.29 L203.53,615.26 L205.25,614.24 L206.96,613.23 L208.68,612.22 L210.39,611.22 L212.11,610.23 L213.82,609.24 L215.54,608.27 L217.25,607.30 L218.97,606.33 L220.68,605.38 L222.40,604.43 L224.11,603.49 L225.83,602.56 L227.54,601.63 L229.26,600.71 L230.97,599.80 L232.69,598.89 L234.40,597.99 L236.12,597.10 L237.83,596.22 L239.55,595.34 L241.26,594.47 L242.98,593.61 L244.69,592.76 L246.41,591.91 L248.12,591.06 L249.84,590.23 L251.55,589.40 L253.27,588.58 L254.98,587.76 L256.69,586.96 L258.41,586.15 L260.12,585.36 L261.84,584.57 L263.56,583.79 L265.27,583.01 L266.99,582.25 L268.70,581.48 L270.42,580.73 L272.13,579.98 L273.85,579.24 L275.56,578.50 L277.27,577.77 L278.99,577.04 L280.70,576.33 L282.42,575.61 L284.13,574.91 L285.85,574.21 L287.56,573.51 L289.28,572.83 L291.00,572.14 L292.71,571.47 L294.43,570.80 L296.14,570.13 L297.86,569.48 L299.57,568.82 L301.29,568.18 L303.00,567.53 L304.71,566.90 L306.43,566.27 L308.14,565.64 L309.86,565.02 L311.57,564.41 L313.29,563.80 L315.00,563.20 L316.72,562.60 L318.44,562.01 L320.15,561.42 L321.87,560.84" stroke-dasharray="4.4 4.4"/>
<path d="M62.90,711.70 L64.61,710.16 L66.33,707.95 L68.05,705.39 L69.76,702.61 L71.47,699.66 L73.19,696.58 L74.91,693.40 L76.62,690.14 L78.33,686.81 L80.05,683.43 L81.77,680.01 L83.48,676.56 L85.19,673.08 L86.91,669.59 L88.62,666.08 L90.34,662.56 L92.06,659.05 L93.77,655.53 L95.48,652.02 L97.20,648.52 L98.91,645.03 L100.63,641.55 L102.34,638.09 L104.06,634.64 L105.78,631.22 L107.49,627.81 L109.20,624.43 L110.92,621.07 L112.63,617.74 L114.35,614.43 L116.06,611.15 L117.78,607.90 L119.50,604.67 L121.21,601.48 L122.93,598.31 L124.64,595.18 L126.36,592.07 L128.07,589.00 L129.78,585.95 L131.50,582.94 L133.22,579.96 L134.93,577.02 L136.65,574.10 L138.36,571.22 L140.07,568.37 L141.79,565.55 L143.50,562.76 L145.22,560.01 L146.94,557.29 L148.65,554.60 L150.37,551.94 L152.08,549.32 L153.80,546.73 L155.51,544.17 L157.22,541.64 L158.94,539.14 L160.66,536.68 L162.37,534.24 L164.09,531.84 L165.80,529.47 L167.52,527.13 L169.23,524.82 L170.94,522.54 L172.66,520.29 L174.38,518.07 L176.09,515.88 L177.81,513.72 L179.52,511.58 L181.24,509.48 L182.95,507.40 L184.66,505.36 L186.38,503.34 L188.09,501.35 L189.81,499.38 L191.53,498.04" stroke-dasharray="1.3 2.95"/>
<path d="M62.90,711.70 L64.61,710.21 L66.33,708.18 L68.05,705.93 L69.76,703.51 L71.47,700.99 L73.19,698.39 L74.91,695.73 L76.62,693.02 L78.33,690.28 L80.05,687.51 L81.77,684.72 L83.48,681.92 L85.19,679.12 L86.91,676.31 L88.62,673.50 L90.34,670.70 L92.06,667.91 L93.77,665.13 L95.48,662.36 L97.20,659.61 L98.91,656.87 L100.63,654.15 L102.34,651.45 L104.06,648.77 L105.78,646.11 L107.49,643.48 L109.20,640.87 L110.92,638.28 L112.63,635.71 L114.35,633.17 L116.06,630.66 L117.78,628.17 L119.50,625.71 L121.21,623.27 L122.93,620.86 L124.64,618.48 L126.36,616.13 L128.07,613.80 L129.78,611.50 L131.50,609.23 L133.22,606.98 L134.93,604.76 L136.65,602.57 L138.36,600.41 L140.07,598.27 L141.79,596.16 L143.50,594.08 L145.22,592.03 L146.94,590.00 L148.65,587.99 L150.37,586.02 L152.08,584.07 L153.80,582.15 L155.51,580.25 L157.22,578.38 L158.94,576.53 L160.66,574.71 L162.37,572.91 L164.09,571.14 L165.80,569.39 L167.52,567.67 L169.23,565.97 L170.94,564.30 L172.66,562.65 L174.38,561.02 L176.09,559.42 L177.81,557.84 L179.52,556.28 L181.24,554.74 L182.95,553.23 L184.66,551.74 L186.38,550.27 L188.09,548.82 L189.81,547.39 L191.53,545.99 L193.24,544.60 L194.96,543.24 L196.67,541.89 L198.39,540.57 L200.10,539.26 L201.82,537.98 L203.53,536.71 L205.25,535.46 L206.96,534.23 L208.68,533.02 L210.39,531.83 L212.11,530.65 L213.82,529.50 L215.54,528.36 L217.25,527.24 L218.97,526.13 L220.68,525.04 L222.40,523.97 L224.11,522.92 L225.83,521.88 L227.54,520.85 L229.26,519.84 L230.97,518.85 L232.69,517.88 L234.40,516.91 L236.12,515.97 L237.83,515.03 L239.55,514.12 L241.26,513.21 L242.98,512.32 L244.69,511.45 L246.41,510.58 L248.12,509.73 L249.84,508.90 L251.55,508.07 L253.27,507.26 L254.98,506.47 L256.69,505.68 L258.41,504.91 L260.12,504.15 L261.84,503.40 L263.56,502.66 L265.27,501.94 L266.99,501.22 L268.70,500.52 L270.42,499.83 L272.13,499.15 L273.85,498.48 L275.56,498.04" stroke-dasharray="1.3 2.95"/>
<path d="M62.90,711.70 L64.61,709.87 L66.33,707.84 L68.05,705.75 L69.76,703.62 L71.47,701.48 L73.19,699.34 L74.91,697.19 L76.62,695.04 L78.33,692.90 L80.05,690.77 L81.77,688.64 L83.48,686.53 L85.19,684.44 L86.91,682.35 L88.62,680.29 L90.34,678.23 L92.06,676.20 L93.77,674.18 L95.48,672.18 L97.20,670.20 L98.91,668.23 L100.63,666.28 L102.34,664.35 L104.06,662.44 L105.78,660.55 L107.49,658.68 L109.20,656.82 L110.92,654.99 L112.63,653.17 L114.35,651.37 L116.06,649.59 L117.78,647.83 L119.50,646.09 L121.21,644.37 L122.93,642.66 L124.64,640.98 L126.36,639.31 L128.07,637.66 L129.78,636.03 L131.50,634.42 L133.22,632.82 L134.93,631.24 L136.65,629.68 L138.36,628.14 L140.07,626.62 L141.79,625.11 L143.50,623.62 L145.22,622.15 L146.94,620.69 L148.65,619.25 L150.37,617.83 L152.08,616.42 L153.80,615.03 L155.51,613.66 L157.22,612.30 L158.94,610.95 L160.66,609.63 L162.37,608.32 L164.09,607.02 L165.80,605.74 L167.52,604.48 L169.23,603.22 L170.94,601.99 L172.66,600.77 L174.38,599.56 L176.09,598.37 L177.81,597.19 L179.52,596.03 L181.24,594.88 L182.95,593.74 L184.66,592.62 L186.38,591.51 L188.09,590.41 L189.81,589.33 L191.53,588.26 L193.24,587.21 L194.96,586.16 L196.67,585.13 L198.39,584.11 L200.10,583.11 L201.82,582.11 L203.53,581.13 L205.25,580.16 L206.96,579.20 L208.68,578.25 L210.39,577.32 L212.11,576.39 L213.82,575.48 L215.54,574.58 L217.25,573.69 L218.97,572.81 L220.68,571.94 L222.40,571.08 L224.11,570.23 L225.83,569.40 L227.54,568.57 L229.26,567.75 L230.97,566.95 L232.69,566.15 L234.40,565.36 L236.12,564.59 L237.83,563.82 L239.55,563.06 L241.26,562.31 L242.98,561.57 L244.69,560.84 L246.41,560.12 L248.12,559.40 L249.84,558.70 L251.55,558.01 L253.27,557.32 L254.98,556.64 L256.69,555.97 L258.41,555.31 L260.12,554.66 L261.84,554.01 L263.56,553.37 L265.27,552.74 L266.99,552.12 L268.70,551.51 L270.42,550.90 L272.13,550.30 L273.85,549.71 L275.56,549.13 L277.27,548.55 L278.99,547.98 L280.70,547.42 L282.42,546.87 L284.13,546.32 L285.85,545.78 L287.56,545.24 L289.28,544.71 L291.00,544.19 L292.71,543.68 L294.43,543.17 L296.14,542.67 L297.86,542.17 L299.57,541.68 L301.29,541.20 L303.00,540.72 L304.71,540.25 L306.43,539.78 L308.14,539.32 L309.86,538.87 L311.57,538.42 L313.29,537.98 L315.00,537.54 L316.72,537.11 L318.44,536.68 L320.15,536.26 L321.87,535.85" stroke-dasharray="1.3 2.95"/>
<path d="M62.90,711.70 L64.61,710.49 L66.33,709.27 L68.05,708.04 L69.76,706.81 L71.47,705.59 L73.19,704.38 L74.91,703.17 L76.62,701.96 L78.33,700.76 L80.05,699.57 L81.77,698.38 L83.48,697.20 L85.19,696.02 L86.91,694.86 L88.62,693.70 L90.34,692.54 L92.06,691.39 L93.77,690.25 L95.48,689.12 L97.20,687.99 L98.91,686.87 L100.63,685.76 L102.34,684.65 L104.06,683.55 L105.78,682.45 L107.49,681.37 L109.20,680.29 L110.92,679.21 L112.63,678.14 L114.35,677.08 L116.06,676.03 L117.78,674.98 L119.50,673.94 L121.21,672.91 L122.93,671.88 L124.64,670.86 L126.36,669.84 L128.07,668.83 L129.78,667.83 L131.50,666.84 L133.22,665.85 L134.93,664.86 L136.65,663.89 L138.36,662.91 L140.07,661.95 L141.79,660.99 L143.50,660.04 L145.22,659.09 L146.94,658.15 L148.65,657.22 L150.37,656.29 L152.08,655.37 L153.80,654.45 L155.51,653.54 L157.22,652.64 L158.94,651.74 L160.66,650.85 L162.37,649.96 L164.09,649.08 L165.80,648.20 L167.52,647.33 L169.23,646.47 L170.94,645.61 L172.66,644.75 L174.38,643.91 L176.09,643.06 L177.81,642.23 L179.52,641.40 L181.24,640.57 L182.95,639.75 L184.66,638.93 L186.38,638.12 L188.09,637.32 L189.81,636.52 L191.53,635.73 L193.24,634.94 L194.96,634.15 L196.67,633.37 L198.39,632.60 L200.10,631.83 L201.82,631.07 L203.53,630.31 L205.25,629.55 L206.96,628.81 L208.68,628.06 L210.39,627.32 L212.11,626.59 L213.82,625.86 L215.54,625.13 L217.25,624.41 L218.97,623.70 L220.68,622.99 L222.40,622.28 L224.11,621.58 L225.83,620.88 L227.54,620.19 L229.26,619.51 L230.97,618.82 L232.69,618.14 L234.40,617.47 L236.12,616.80 L237.83,616.13 L239.55,615.47 L241.26,614.82 L242.98,614.16 L244.69,613.52 L246.41,612.87 L248.12,612.23 L249.84,611.60 L251.55,610.97 L253.27,610.34 L254.98,609.72 L256.69,609.10 L258.41,608.48 L260.12,607.87 L261.84,607.27 L263.56,606.66 L265.27,606.06 L266.99,605.47 L268.70,604.88 L270.42,604.29 L272.13,603.71 L273.85,603.13 L275.56,602.55 L277.27,601.98 L278.99,601.41 L280.70,600.85 L282.42,600.29 L284.13,599.73 L285.85,599.18 L287.56,598.63 L289.28,598.08 L291.00,597.54 L292.71,597.00 L294.43,596.47 L296.14,595.94 L297.86,595.41 L299.57,594.88 L301.29,594.36 L303.00,593.84 L304.71,593.33 L306.43,592.82 L308.14,592.31 L309.86,591.81 L311.57,591.31 L313.29,590.81 L315.00,590.31 L316.72,589.82 L318.44,589.34 L320.15,588.85 L321.87,588.37" stroke-dasharray="1.3 2.95"/>
</g>
<g clip-path="url(#cr2)" fill="none" stroke="#000" stroke-width="1.8">
<path d="M351.50,711.70 L353.21,711.70 L354.93,711.70 L356.64,711.70 L358.36,711.70 L360.07,711.70 L361.79,711.70 L363.50,711.70 L365.22,711.70 L366.94,711.57 L368.65,709.64 L370.37,707.02 L372.08,704.03 L373.80,700.79 L375.51,697.36 L377.23,693.80 L378.94,690.13 L380.65,686.38 L382.37,682.58 L384.08,678.73 L385.80,674.86 L387.51,670.97 L389.23,667.07 L390.94,663.17 L392.66,659.27 L394.38,655.39 L396.09,651.53 L397.81,647.69 L399.52,643.87 L401.24,640.08 L402.95,636.33 L404.67,632.61 L406.38,628.93 L408.10,625.28 L409.81,621.68 L411.52,618.12 L413.24,614.60 L414.95,611.13 L416.67,607.70 L418.38,604.32 L420.10,600.99 L421.81,597.70 L423.53,594.46 L425.25,591.26 L426.96,588.12 L428.68,585.02 L430.39,581.97 L432.11,578.97 L433.82,576.01 L435.54,573.11 L437.25,570.25 L438.97,567.44 L440.68,564.67 L442.39,561.95 L444.11,559.28 L445.82,556.65 L447.54,554.07 L449.25,551.54 L450.97,549.05 L452.69,546.60 L454.40,544.19 L456.12,541.83 L457.83,539.51 L459.55,537.24 L461.26,535.00 L462.98,532.81 L464.69,530.66 L466.40,528.54 L468.12,526.47 L469.84,524.43 L471.55,522.43 L473.26,520.47 L474.98,518.55 L476.69,516.67 L478.41,514.81 L480.12,513.00 L481.84,511.22 L483.56,509.47 L485.27,507.76 L486.99,506.08 L488.70,504.43 L490.42,502.82 L492.13,501.24 L493.85,500.58"/>
<path d="M351.50,711.70 L353.21,711.70 L354.93,711.70 L356.64,711.70 L358.36,711.70 L360.07,711.70 L361.79,711.70 L363.50,711.70 L365.22,711.70 L366.94,711.70 L368.65,711.28 L370.37,709.85 L372.08,708.04 L373.80,705.97 L375.51,703.73 L377.23,701.34 L378.94,698.84 L380.65,696.24 L382.37,693.58 L384.08,690.85 L385.80,688.08 L387.51,685.26 L389.23,682.42 L390.94,679.55 L392.66,676.66 L394.38,673.76 L396.09,670.85 L397.81,667.94 L399.52,665.03 L401.24,662.12 L402.95,659.22 L404.67,656.33 L406.38,653.45 L408.10,650.58 L409.81,647.73 L411.52,644.89 L413.24,642.08 L414.95,639.28 L416.67,636.50 L418.38,633.75 L420.10,631.02 L421.81,628.31 L423.53,625.63 L425.25,622.97 L426.96,620.34 L428.68,617.74 L430.39,615.16 L432.11,612.61 L433.82,610.09 L435.54,607.60 L437.25,605.14 L438.97,602.70 L440.68,600.30 L442.39,597.92 L444.11,595.57 L445.82,593.25 L447.54,590.96 L449.25,588.70 L450.97,586.47 L452.69,584.27 L454.40,582.10 L456.12,579.95 L457.83,577.84 L459.55,575.75 L461.26,573.70 L462.98,571.67 L464.69,569.67 L466.40,567.70 L468.12,565.75 L469.84,563.84 L471.55,561.95 L473.26,560.09 L474.98,558.25 L476.69,556.45 L478.41,554.66 L480.12,552.91 L481.84,551.18 L483.56,549.48 L485.27,547.80 L486.99,546.15 L488.70,544.52 L490.42,542.92 L492.13,541.34 L493.85,539.79 L495.56,538.26 L497.27,536.76 L498.99,535.27 L500.71,533.82 L502.42,532.38 L504.13,530.96 L505.85,529.57 L507.56,528.20 L509.28,526.86 L511.00,525.53 L512.71,524.22 L514.42,522.94 L516.14,521.68 L517.86,520.43 L519.57,519.21 L521.28,518.00 L523.00,516.82 L524.72,515.65 L526.43,514.51 L528.14,513.38 L529.86,512.27 L531.58,511.18 L533.29,510.10 L535.00,509.05 L536.72,508.01 L538.43,506.99 L540.15,505.98 L541.87,504.99 L543.58,504.02 L545.30,503.07 L547.01,502.13 L548.73,501.20 L550.44,500.58"/>
<path d="M351.50,711.70 L353.21,711.70 L354.93,711.70 L356.64,711.70 L358.36,711.70 L360.07,711.70 L361.79,711.70 L363.50,711.70 L365.22,711.70 L366.94,711.70 L368.65,711.70 L370.37,711.49 L372.08,710.63 L373.80,709.50 L375.51,708.19 L377.23,706.75 L378.94,705.21 L380.65,703.57 L382.37,701.87 L384.08,700.11 L385.80,698.29 L387.51,696.44 L389.23,694.54 L390.94,692.61 L392.66,690.66 L394.38,688.69 L396.09,686.69 L397.81,684.68 L399.52,682.66 L401.24,680.63 L402.95,678.59 L404.67,676.55 L406.38,674.50 L408.10,672.45 L409.81,670.41 L411.52,668.36 L413.24,666.32 L414.95,664.28 L416.67,662.25 L418.38,660.22 L420.10,658.20 L421.81,656.19 L423.53,654.19 L425.25,652.20 L426.96,650.22 L428.68,648.25 L430.39,646.30 L432.11,644.35 L433.82,642.42 L435.54,640.51 L437.25,638.60 L438.97,636.71 L440.68,634.84 L442.39,632.98 L444.11,631.13 L445.82,629.31 L447.54,627.49 L449.25,625.69 L450.97,623.91 L452.69,622.15 L454.40,620.40 L456.12,618.66 L457.83,616.95 L459.55,615.25 L461.26,613.56 L462.98,611.90 L464.69,610.25 L466.40,608.61 L468.12,607.00 L469.84,605.40 L471.55,603.82 L473.26,602.25 L474.98,600.70 L476.69,599.17 L478.41,597.65 L480.12,596.16 L481.84,594.67 L483.56,593.21 L485.27,591.76 L486.99,590.33 L488.70,588.91 L490.42,587.51 L492.13,586.13 L493.85,584.76 L495.56,583.41 L497.27,582.07 L498.99,580.75 L500.71,579.45 L502.42,578.16 L504.13,576.88 L505.85,575.63 L507.56,574.38 L509.28,573.16 L511.00,571.94 L512.71,570.75 L514.42,569.56 L516.14,568.39 L517.86,567.24 L519.57,566.10 L521.28,564.98 L523.00,563.87 L524.72,562.77 L526.43,561.68 L528.14,560.62 L529.86,559.56 L531.58,558.52 L533.29,557.49 L535.00,556.47 L536.72,555.47 L538.43,554.48 L540.15,553.50 L541.87,552.54 L543.58,551.59 L545.30,550.65 L547.01,549.72 L548.73,548.80 L550.44,547.90 L552.15,547.01 L553.87,546.13 L555.59,545.26 L557.30,544.41 L559.01,543.56 L560.73,542.73 L562.45,541.90 L564.16,541.09 L565.88,540.29 L567.59,539.50 L569.31,538.72 L571.02,537.95 L572.74,537.19 L574.45,536.44 L576.16,535.71 L577.88,534.98 L579.60,534.26 L581.31,533.55 L583.02,532.85 L584.74,532.16 L586.46,531.48 L588.17,530.81 L589.88,530.15 L591.60,529.49 L593.32,528.85 L595.03,528.21 L596.75,527.59 L598.46,526.97 L600.17,526.36 L601.89,525.76 L603.61,525.17 L605.32,524.58 L607.04,524.00 L608.75,523.44 L610.47,522.87"/>
<path d="M351.50,711.70 L353.21,711.70 L354.93,711.70 L356.64,711.70 L358.36,711.70 L360.07,711.70 L361.79,711.70 L363.50,711.70 L365.22,711.70 L366.94,711.67 L368.65,711.61 L370.37,711.51 L372.08,711.36 L373.80,711.16 L375.51,710.92 L377.23,710.63 L378.94,710.30 L380.65,709.92 L382.37,709.49 L384.08,709.02 L385.80,708.51 L387.51,707.96 L389.23,707.37 L390.94,706.73 L392.66,706.07 L394.38,705.36 L396.09,704.62 L397.81,703.85 L399.52,703.05 L401.24,702.22 L402.95,701.36 L404.67,700.47 L406.38,699.56 L408.10,698.62 L409.81,697.66 L411.52,696.68 L413.24,695.68 L414.95,694.66 L416.67,693.62 L418.38,692.56 L420.10,691.49 L421.81,690.41 L423.53,689.31 L425.25,688.20 L426.96,687.07 L428.68,685.94 L430.39,684.80 L432.11,683.65 L433.82,682.49 L435.54,681.33 L437.25,680.16 L438.97,678.98 L440.68,677.80 L442.39,676.62 L444.11,675.44 L445.82,674.25 L447.54,673.06 L449.25,671.87 L450.97,670.68 L452.69,669.50 L454.40,668.31 L456.12,667.12 L457.83,665.94 L459.55,664.76 L461.26,663.58 L462.98,662.41 L464.69,661.23 L466.40,660.07 L468.12,658.91 L469.84,657.75 L471.55,656.60 L473.26,655.45 L474.98,654.32 L476.69,653.18 L478.41,652.06 L480.12,650.94 L481.84,649.83 L483.56,648.72 L485.27,647.62 L486.99,646.53 L488.70,645.45 L490.42,644.38 L492.13,643.32 L493.85,642.26 L495.56,641.21 L497.27,640.17 L498.99,639.14 L500.71,638.12 L502.42,637.11 L504.13,636.11 L505.85,635.12 L507.56,634.13 L509.28,633.16 L511.00,632.20 L512.71,631.24 L514.42,630.30 L516.14,629.36 L517.86,628.43 L519.57,627.52 L521.28,626.61 L523.00,625.71 L524.72,624.83 L526.43,623.95 L528.14,623.08 L529.86,622.23 L531.58,621.38 L533.29,620.54 L535.00,619.71 L536.72,618.89 L538.43,618.08 L540.15,617.28 L541.87,616.49 L543.58,615.71 L545.30,614.94 L547.01,614.18 L548.73,613.43 L550.44,612.68 L552.15,611.95 L553.87,611.23 L555.59,610.51 L557.30,609.80 L559.01,609.11 L560.73,608.42 L562.45,607.74 L564.16,607.07 L565.88,606.41 L567.59,605.76 L569.31,605.11 L571.02,604.48 L572.74,603.85 L574.45,603.23 L576.16,602.62 L577.88,602.02 L579.60,601.43 L581.31,600.84 L583.02,600.26 L584.74,599.69 L586.46,599.13 L588.17,598.58 L589.88,598.03 L591.60,597.49 L593.32,596.96 L595.03,596.44 L596.75,595.92 L598.46,595.41 L600.17,594.91 L601.89,594.42 L603.61,593.93 L605.32,593.45 L607.04,592.98 L608.75,592.51 L610.47,592.05"/>
<path d="M351.50,711.70 L353.21,711.69 L354.93,711.65 L356.64,711.52 L358.36,711.27 L360.07,710.87 L361.79,710.29 L363.50,709.51 L365.22,708.53 L366.94,707.32 L368.65,705.88 L370.37,704.22 L372.08,702.34 L373.80,700.23 L375.51,697.91 L377.23,695.38 L378.94,692.66 L380.65,689.75 L382.37,686.67 L384.08,683.43 L385.80,680.04 L387.51,676.52 L389.23,672.87 L390.94,669.12 L392.66,665.27 L394.38,661.34 L396.09,657.34 L397.81,653.27 L399.52,649.16 L401.24,645.01 L402.95,640.83 L404.67,636.63 L406.38,632.42 L408.10,628.21 L409.81,624.01 L411.52,619.82 L413.24,615.65 L414.95,611.51 L416.67,607.40 L418.38,603.33 L420.10,599.30 L421.81,595.31 L423.53,591.38 L425.25,587.50 L426.96,583.68 L428.68,579.92 L430.39,576.23 L432.11,572.59 L433.82,569.03 L435.54,565.53 L437.25,562.10 L438.97,558.74 L440.68,555.45 L442.39,552.23 L444.11,549.08 L445.82,546.01 L447.54,543.00 L449.25,540.07 L450.97,537.21 L452.69,534.42 L454.40,531.70 L456.12,529.05 L457.83,526.47 L459.55,523.96 L461.26,521.51 L462.98,519.13 L464.69,516.82 L466.40,514.57 L468.12,512.38 L469.84,510.26 L471.55,508.19 L473.26,506.19 L474.98,504.25 L476.69,502.36 L478.41,500.58" stroke-dasharray="4.4 4.4"/>
<path d="M351.50,711.70 L353.21,711.69 L354.93,711.62 L356.64,711.45 L358.36,711.18 L360.07,710.78 L361.79,710.24 L363.50,709.55 L365.22,708.71 L366.94,707.72 L368.65,706.59 L370.37,705.30 L372.08,703.87 L373.80,702.30 L375.51,700.60 L377.23,698.76 L378.94,696.81 L380.65,694.74 L382.37,692.55 L384.08,690.27 L385.80,687.89 L387.51,685.43 L389.23,682.88 L390.94,680.26 L392.66,677.58 L394.38,674.83 L396.09,672.03 L397.81,669.18 L399.52,666.29 L401.24,663.37 L402.95,660.42 L404.67,657.44 L406.38,654.44 L408.10,651.42 L409.81,648.40 L411.52,645.37 L413.24,642.34 L414.95,639.31 L416.67,636.29 L418.38,633.27 L420.10,630.27 L421.81,627.29 L423.53,624.32 L425.25,621.37 L426.96,618.44 L428.68,615.54 L430.39,612.67 L432.11,609.83 L433.82,607.01 L435.54,604.23 L437.25,601.49 L438.97,598.77 L440.68,596.10 L442.39,593.46 L444.11,590.85 L445.82,588.29 L447.54,585.76 L449.25,583.28 L450.97,580.83 L452.69,578.43 L454.40,576.06 L456.12,573.74 L457.83,571.46 L459.55,569.22 L461.26,567.02 L462.98,564.86 L464.69,562.74 L466.40,560.67 L468.12,558.63 L469.84,556.64 L471.55,554.68 L473.26,552.77 L474.98,550.89 L476.69,549.06 L478.41,547.26 L480.12,545.50 L481.84,543.78 L483.56,542.09 L485.27,540.45 L486.99,538.84 L488.70,537.26 L490.42,535.73 L492.13,534.22 L493.85,532.75 L495.56,531.32 L497.27,529.92 L498.99,528.55 L500.71,527.21 L502.42,525.90 L504.13,524.63 L505.85,523.39 L507.56,522.17 L509.28,520.99 L511.00,519.83 L512.71,518.70 L514.42,517.60 L516.14,516.53 L517.86,515.48 L519.57,514.46 L521.28,513.47 L523.00,512.50 L524.72,511.55 L526.43,510.63 L528.14,509.73 L529.86,508.85 L531.58,508.00 L533.29,507.17 L535.00,506.36 L536.72,505.57 L538.43,504.80 L540.15,504.05 L541.87,503.32 L543.58,502.61 L545.30,501.91 L547.01,501.24 L548.73,500.58 L550.44,500.58" stroke-dasharray="4.4 4.4"/>
<path d="M351.50,711.70 L353.21,711.70 L354.93,711.68 L356.64,711.64 L358.36,711.56 L360.07,711.42 L361.79,711.22 L363.50,710.96 L365.22,710.62 L366.94,710.19 L368.65,709.68 L370.37,709.09 L372.08,708.40 L373.80,707.62 L375.51,706.76 L377.23,705.80 L378.94,704.76 L380.65,703.63 L382.37,702.41 L384.08,701.12 L385.80,699.75 L387.51,698.30 L389.23,696.78 L390.94,695.20 L392.66,693.55 L394.38,691.85 L396.09,690.09 L397.81,688.28 L399.52,686.42 L401.24,684.52 L402.95,682.58 L404.67,680.61 L406.38,678.60 L408.10,676.57 L409.81,674.51 L411.52,672.43 L413.24,670.33 L414.95,668.22 L416.67,666.10 L418.38,663.97 L420.10,661.84 L421.81,659.70 L423.53,657.56 L425.25,655.43 L426.96,653.30 L428.68,651.17 L430.39,649.06 L432.11,646.95 L433.82,644.86 L435.54,642.78 L437.25,640.72 L438.97,638.67 L440.68,636.64 L442.39,634.63 L444.11,632.64 L445.82,630.68 L447.54,628.73 L449.25,626.81 L450.97,624.92 L452.69,623.04 L454.40,621.20 L456.12,619.38 L457.83,617.58 L459.55,615.82 L461.26,614.08 L462.98,612.36 L464.69,610.68 L466.40,609.02 L468.12,607.39 L469.84,605.79 L471.55,604.22 L473.26,602.68 L474.98,601.16 L476.69,599.67 L478.41,598.21 L480.12,596.78 L481.84,595.38 L483.56,594.00 L485.27,592.65 L486.99,591.33 L488.70,590.03 L490.42,588.77 L492.13,587.52 L493.85,586.31 L495.56,585.12 L497.27,583.95 L498.99,582.81 L500.71,581.70 L502.42,580.61 L504.13,579.54 L505.85,578.50 L507.56,577.48 L509.28,576.49 L511.00,575.52 L512.71,574.57 L514.42,573.64 L516.14,572.73 L517.86,571.84 L519.57,570.98 L521.28,570.13 L523.00,569.31 L524.72,568.50 L526.43,567.72 L528.14,566.95 L529.86,566.20 L531.58,565.47 L533.29,564.76 L535.00,564.07 L536.72,563.39 L538.43,562.73 L540.15,562.08 L541.87,561.45 L543.58,560.84 L545.30,560.24 L547.01,559.66 L548.73,559.09 L550.44,558.54 L552.15,558.00 L553.87,557.47 L555.59,556.96 L557.30,556.46 L559.01,555.97 L560.73,555.50 L562.45,555.03 L564.16,554.58 L565.88,554.14 L567.59,553.72 L569.31,553.30 L571.02,552.89 L572.74,552.50 L574.45,552.11 L576.16,551.74 L577.88,551.37 L579.60,551.02 L581.31,550.67 L583.02,550.34 L584.74,550.01 L586.46,549.69 L588.17,549.38 L589.88,549.07 L591.60,548.78 L593.32,548.49 L595.03,548.21 L596.75,547.94 L598.46,547.67 L600.17,547.42 L601.89,547.16 L603.61,546.92 L605.32,546.68 L607.04,546.45 L608.75,546.22 L610.47,546.01" stroke-dasharray="4.4 4.4"/>
<path d="M351.50,711.70 L353.21,711.70 L354.93,711.69 L356.64,711.67 L358.36,711.63 L360.07,711.57 L361.79,711.49 L363.50,711.38 L365.22,711.24 L366.94,711.08 L368.65,710.88 L370.37,710.65 L372.08,710.38 L373.80,710.08 L375.51,709.75 L377.23,709.38 L378.94,708.98 L380.65,708.55 L382.37,708.08 L384.08,707.59 L385.80,707.06 L387.51,706.50 L389.23,705.91 L390.94,705.29 L392.66,704.65 L394.38,703.97 L396.09,703.28 L397.81,702.56 L399.52,701.81 L401.24,701.05 L402.95,700.26 L404.67,699.46 L406.38,698.63 L408.10,697.79 L409.81,696.93 L411.52,696.06 L413.24,695.17 L414.95,694.28 L416.67,693.36 L418.38,692.44 L420.10,691.51 L421.81,690.57 L423.53,689.63 L425.25,688.67 L426.96,687.71 L428.68,686.75 L430.39,685.78 L432.11,684.81 L433.82,683.83 L435.54,682.85 L437.25,681.88 L438.97,680.90 L440.68,679.92 L442.39,678.94 L444.11,677.97 L445.82,677.00 L447.54,676.03 L449.25,675.06 L450.97,674.10 L452.69,673.14 L454.40,672.19 L456.12,671.24 L457.83,670.29 L459.55,669.36 L461.26,668.42 L462.98,667.50 L464.69,666.58 L466.40,665.67 L468.12,664.77 L469.84,663.88 L471.55,662.99 L473.26,662.11 L474.98,661.24 L476.69,660.38 L478.41,659.52 L480.12,658.68 L481.84,657.85 L483.56,657.02 L485.27,656.20 L486.99,655.40 L488.70,654.60 L490.42,653.81 L492.13,653.03 L493.85,652.27 L495.56,651.51 L497.27,650.76 L498.99,650.02 L500.71,649.29 L502.42,648.57 L504.13,647.86 L505.85,647.16 L507.56,646.47 L509.28,645.79 L511.00,645.12 L512.71,644.46 L514.42,643.81 L516.14,643.17 L517.86,642.54 L519.57,641.92 L521.28,641.31 L523.00,640.70 L524.72,640.11 L526.43,639.53 L528.14,638.95 L529.86,638.39 L531.58,637.83 L533.29,637.28 L535.00,636.74 L536.72,636.21 L538.43,635.69 L540.15,635.18 L541.87,634.68 L543.58,634.18 L545.30,633.70 L547.01,633.22 L548.73,632.75 L550.44,632.28 L552.15,631.83 L553.87,631.38 L555.59,630.94 L557.30,630.51 L559.01,630.09 L560.73,629.67 L562.45,629.27 L564.16,628.87 L565.88,628.47 L567.59,628.08 L569.31,627.70 L571.02,627.33 L572.74,626.97 L574.45,626.61 L576.16,626.25 L577.88,625.91 L579.60,625.57 L581.31,625.23 L583.02,624.91 L584.74,624.58 L586.46,624.27 L588.17,623.96 L589.88,623.65 L591.60,623.36 L593.32,623.06 L595.03,622.78 L596.75,622.50 L598.46,622.22 L600.17,621.95 L601.89,621.68 L603.61,621.42 L605.32,621.17 L607.04,620.92 L608.75,620.67 L610.47,620.43" stroke-dasharray="4.4 4.4"/>
<path d="M351.50,704.80 L353.21,703.74 L354.93,702.50 L356.64,701.09 L358.36,699.55 L360.07,697.90 L361.79,696.15 L363.50,694.29 L365.22,692.35 L366.94,690.32 L368.65,688.22 L370.37,686.04 L372.08,683.58 L373.80,680.90 L375.51,678.14 L377.23,675.41 L378.94,672.83 L380.65,670.40 L382.37,668.04 L384.08,665.68 L385.80,663.26 L387.51,660.75 L389.23,658.19 L390.94,655.59 L392.66,652.91 L394.38,650.11 L396.09,647.15 L397.81,643.93 L399.52,640.47 L401.24,636.84 L402.95,633.13 L404.67,629.39 L406.38,625.71 L408.10,622.15 L409.81,618.79 L411.52,615.72 L413.24,613.00 L414.95,610.21 L416.67,606.97 L418.38,603.41 L420.10,599.63 L421.81,595.74 L423.53,591.82 L425.25,587.97 L426.96,584.29 L428.68,580.70 L430.39,577.08 L432.11,573.51 L433.82,570.05 L435.54,566.77 L437.25,563.72 L438.97,560.87 L440.68,558.12 L442.39,555.47 L444.11,552.90 L445.82,550.41 L447.54,547.99 L449.25,545.62 L450.97,543.30 L452.69,541.02 L454.40,538.77 L456.12,536.53 L457.83,534.31 L459.55,532.08 L461.26,529.89 L462.98,527.80 L464.69,525.77 L466.40,523.76 L468.12,521.73 L469.84,519.65 L471.55,517.47 L473.26,515.16 L474.98,512.70 L476.69,510.16 L478.41,507.62 L480.12,505.15 L481.84,502.81 L483.56,500.60 L485.27,500.58" stroke-dasharray="1.3 2.95"/>
<path d="M351.50,709.26 L353.21,708.77 L354.93,708.18 L356.64,707.47 L358.36,706.66 L360.07,705.76 L361.79,704.78 L363.50,703.73 L365.22,702.61 L366.94,701.45 L368.65,700.25 L370.37,699.02 L372.08,697.73 L373.80,696.37 L375.51,694.92 L377.23,693.38 L378.94,691.74 L380.65,690.00 L382.37,688.13 L384.08,686.04 L385.80,683.59 L387.51,680.98 L389.23,678.41 L390.94,675.95 L392.66,673.55 L394.38,671.20 L396.09,668.89 L397.81,666.61 L399.52,664.36 L401.24,662.13 L402.95,659.92 L404.67,657.72 L406.38,655.51 L408.10,653.30 L409.81,651.07 L411.52,648.83 L413.24,646.56 L414.95,644.25 L416.67,641.91 L418.38,639.52 L420.10,637.07 L421.81,634.56 L423.53,631.99 L425.25,629.33 L426.96,626.60 L428.68,623.78 L430.39,620.87 L432.11,617.85 L433.82,614.72 L435.54,611.48 L437.25,608.11 L438.97,604.56 L440.68,599.75 L442.39,595.38 L444.11,592.39 L445.82,589.71 L447.54,587.31 L449.25,585.12 L450.97,583.10 L452.69,581.19 L454.40,579.34 L456.12,577.51 L457.83,575.63 L459.55,573.66 L461.26,571.60 L462.98,569.51 L464.69,567.43 L466.40,565.40 L468.12,563.42 L469.84,561.54 L471.55,559.78 L473.26,558.13 L474.98,556.52 L476.69,554.94 L478.41,553.39 L480.12,551.87 L481.84,550.38 L483.56,548.92 L485.27,547.48 L486.99,546.07 L488.70,544.68 L490.42,543.32 L492.13,541.97 L493.85,540.65 L495.56,539.34 L497.27,538.05 L498.99,536.77 L500.71,535.51 L502.42,534.26 L504.13,533.02 L505.85,531.79 L507.56,530.57 L509.28,529.36 L511.00,528.15 L512.71,526.95 L514.42,525.75 L516.14,524.55 L517.86,523.35 L519.57,522.15 L521.28,520.95 L523.00,519.74 L524.72,518.53 L526.43,517.31 L528.14,516.09 L529.86,514.85 L531.58,513.61 L533.29,512.35 L535.00,511.08 L536.72,509.79 L538.43,508.49 L540.15,507.17 L541.87,505.83 L543.58,504.47 L545.30,503.09 L547.01,501.69 L548.73,500.58" stroke-dasharray="1.3 2.95"/>
<path d="M351.50,711.70 L353.21,711.70 L354.93,711.67 L356.64,711.59 L358.36,711.47 L360.07,711.27 L361.79,711.00 L363.50,710.65 L365.22,710.21 L366.94,709.68 L368.65,709.05 L370.37,708.34 L372.08,707.54 L373.80,706.64 L375.51,705.65 L377.23,704.58 L378.94,703.42 L380.65,702.17 L382.37,700.85 L384.08,699.46 L385.80,697.99 L387.51,696.45 L389.23,694.85 L390.94,693.18 L392.66,691.46 L394.38,689.69 L396.09,687.87 L397.81,686.00 L399.52,684.10 L401.24,682.15 L402.95,680.17 L404.67,678.17 L406.38,676.13 L408.10,674.07 L409.81,672.00 L411.52,669.90 L413.24,667.79 L414.95,665.67 L416.67,663.54 L418.38,661.41 L420.10,659.27 L421.81,657.13 L423.53,654.99 L425.25,652.86 L426.96,650.73 L428.68,648.61 L430.39,646.50 L432.11,644.40 L433.82,642.31 L435.54,640.23 L437.25,638.17 L438.97,636.13 L440.68,634.10 L442.39,632.09 L444.11,630.11 L445.82,628.14 L447.54,626.19 L449.25,624.27 L450.97,622.37 L452.69,620.49 L454.40,618.64 L456.12,616.81 L457.83,615.00 L459.55,613.22 L461.26,611.47 L462.98,609.74 L464.69,608.04 L466.40,606.36 L468.12,604.71 L469.84,603.09 L471.55,601.50 L473.26,599.93 L474.98,598.38 L476.69,596.87 L478.41,595.38 L480.12,593.92 L481.84,592.48 L483.56,591.07 L485.27,589.69 L486.99,588.33 L488.70,586.99 L490.42,585.69 L492.13,584.40 L493.85,583.15 L495.56,581.92 L497.27,580.71 L498.99,579.52 L500.71,578.36 L502.42,577.23 L504.13,576.12 L505.85,575.03 L507.56,573.96 L509.28,572.91 L511.00,571.89 L512.71,570.89 L514.42,569.91 L516.14,568.95 L517.86,568.02 L519.57,567.10 L521.28,566.20 L523.00,565.32 L524.72,564.47 L526.43,563.63 L528.14,562.81 L529.86,562.00 L531.58,561.22 L533.29,560.45 L535.00,559.71 L536.72,558.97 L538.43,558.26 L540.15,557.56 L541.87,556.88 L543.58,556.21 L545.30,555.56 L547.01,554.92 L548.73,554.30 L550.44,553.70 L552.15,553.10 L553.87,552.52 L555.59,551.96 L557.30,551.41 L559.01,550.87 L560.73,550.34 L562.45,549.83 L564.16,549.33 L565.88,548.84 L567.59,548.36 L569.31,547.90 L571.02,547.44 L572.74,547.00 L574.45,546.57 L576.16,546.14 L577.88,545.73 L579.60,545.33 L581.31,544.94 L583.02,544.55 L584.74,544.18 L586.46,543.82 L588.17,543.46 L589.88,543.12 L591.60,542.78 L593.32,542.45 L595.03,542.13 L596.75,541.81 L598.46,541.51 L600.17,541.21 L601.89,540.92 L603.61,540.63 L605.32,540.36 L607.04,540.09 L608.75,539.82 L610.47,539.57" stroke-dasharray="1.3 2.95"/>
<path d="M351.50,711.70 L353.21,711.70 L354.93,711.70 L356.64,711.70 L358.36,711.70 L360.07,711.70 L361.79,711.69 L363.50,711.68 L365.22,711.67 L366.94,711.65 L368.65,711.62 L370.37,711.57 L372.08,711.51 L373.80,711.43 L375.51,711.32 L377.23,711.19 L378.94,711.03 L380.65,710.84 L382.37,710.61 L384.08,710.34 L385.80,710.04 L387.51,709.69 L389.23,709.30 L390.94,708.86 L392.66,708.37 L394.38,707.84 L396.09,707.26 L397.81,706.63 L399.52,705.95 L401.24,705.22 L402.95,704.45 L404.67,703.63 L406.38,702.76 L408.10,701.84 L409.81,700.88 L411.52,699.88 L413.24,698.84 L414.95,697.76 L416.67,696.64 L418.38,695.49 L420.10,694.30 L421.81,693.08 L423.53,691.84 L425.25,690.57 L426.96,689.27 L428.68,687.95 L430.39,686.61 L432.11,685.25 L433.82,683.88 L435.54,682.49 L437.25,681.09 L438.97,679.68 L440.68,678.27 L442.39,676.85 L444.11,675.42 L445.82,673.99 L447.54,672.56 L449.25,671.14 L450.97,669.71 L452.69,668.29 L454.40,666.88 L456.12,665.47 L457.83,664.07 L459.55,662.68 L461.26,661.30 L462.98,659.93 L464.69,658.57 L466.40,657.23 L468.12,655.90 L469.84,654.58 L471.55,653.29 L473.26,652.00 L474.98,650.74 L476.69,649.49 L478.41,648.26 L480.12,647.04 L481.84,645.85 L483.56,644.67 L485.27,643.52 L486.99,642.38 L488.70,641.26 L490.42,640.17 L492.13,639.09 L493.85,638.03 L495.56,636.99 L497.27,635.97 L498.99,634.97 L500.71,633.99 L502.42,633.03 L504.13,632.09 L505.85,631.17 L507.56,630.27 L509.28,629.39 L511.00,628.53 L512.71,627.69 L514.42,626.86 L516.14,626.06 L517.86,625.27 L519.57,624.50 L521.28,623.75 L523.00,623.01 L524.72,622.30 L526.43,621.60 L528.14,620.91 L529.86,620.25 L531.58,619.60 L533.29,618.96 L535.00,618.34 L536.72,617.74 L538.43,617.15 L540.15,616.58 L541.87,616.02 L543.58,615.47 L545.30,614.94 L547.01,614.43 L548.73,613.92 L550.44,613.43 L552.15,612.95 L553.87,612.49 L555.59,612.04 L557.30,611.60 L559.01,611.17 L560.73,610.75 L562.45,610.34 L564.16,609.95 L565.88,609.56 L567.59,609.19 L569.31,608.83 L571.02,608.47 L572.74,608.13 L574.45,607.79 L576.16,607.47 L577.88,607.15 L579.60,606.84 L581.31,606.54 L583.02,606.25 L584.74,605.97 L586.46,605.69 L588.17,605.43 L589.88,605.17 L591.60,604.91 L593.32,604.67 L595.03,604.43 L596.75,604.20 L598.46,603.97 L600.17,603.76 L601.89,603.54 L603.61,603.34 L605.32,603.14 L607.04,602.94 L608.75,602.75 L610.47,602.57" stroke-dasharray="1.3 2.95"/>
</g>
<g stroke="#6e6e6e" stroke-width="2" fill="none">
<line x1="63" y1="40" x2="63" y2="730"/>
<line x1="62" y1="44" x2="320.5" y2="44"/>
<line x1="351.5" y1="44" x2="608.5" y2="44"/>
</g>
<g stroke="#000" stroke-width="1" fill="none">
<line x1="49.0" y1="57.5" x2="321.0" y2="57.5"/>
<line x1="351.0" y1="57.5" x2="609.0" y2="57.5"/>
<line x1="49.0" y1="280.5" x2="321.0" y2="280.5"/>
<line x1="351.0" y1="280.5" x2="609.0" y2="280.5"/>
<line x1="49.0" y1="725.5" x2="321.0" y2="725.5"/>
<line x1="351.0" y1="725.5" x2="609.0" y2="725.5"/>
<line x1="49.0" y1="503" x2="321.0" y2="503" stroke-width="1.1"/>
<line x1="351.0" y1="503" x2="609.0" y2="503" stroke-width="1.1"/>
<line x1="49.5" y1="57" x2="49.5" y2="726"/>
<line x1="320.5" y1="43" x2="320.5" y2="726"/>
<line x1="351.5" y1="40" x2="351.5" y2="730"/>
<line x1="608.5" y1="43" x2="608.5" y2="726"/>
</g>
<g stroke="#000" stroke-width="1" fill="none">
<line x1="131.5" y1="40" x2="131.5" y2="43"/>
<line x1="131.5" y1="726" x2="131.5" y2="730"/>
<line x1="420.5" y1="40" x2="420.5" y2="43"/>
<line x1="420.5" y1="726" x2="420.5" y2="730"/>
<line x1="200.5" y1="40" x2="200.5" y2="43"/>
<line x1="200.5" y1="726" x2="200.5" y2="730"/>
<line x1="488.5" y1="40" x2="488.5" y2="43"/>
<line x1="488.5" y1="726" x2="488.5" y2="730"/>
<line x1="268.5" y1="40" x2="268.5" y2="43"/>
<line x1="268.5" y1="726" x2="268.5" y2="730"/>
<line x1="557.5" y1="40" x2="557.5" y2="43"/>
<line x1="557.5" y1="726" x2="557.5" y2="730"/>
<line x1="45" y1="266.5" x2="49.5" y2="266.5"/>
<line x1="45" y1="232.6" x2="49.5" y2="232.6"/>
<line x1="45" y1="198.7" x2="49.5" y2="198.7"/>
<line x1="45" y1="164.8" x2="49.5" y2="164.8"/>
<line x1="45" y1="130.8" x2="49.5" y2="130.8"/>
<line x1="45" y1="96.9" x2="49.5" y2="96.9"/>
<line x1="45" y1="63.0" x2="49.5" y2="63.0"/>
<line x1="347" y1="266.5" x2="351.5" y2="266.5"/>
<line x1="347" y1="225.9" x2="351.5" y2="225.9"/>
<line x1="347" y1="185.3" x2="351.5" y2="185.3"/>
<line x1="347" y1="144.7" x2="351.5" y2="144.7"/>
<line x1="347" y1="104.1" x2="351.5" y2="104.1"/>
<line x1="347" y1="63.5" x2="351.5" y2="63.5"/>
<line x1="45" y1="489.1" x2="49.5" y2="489.1"/>
<line x1="45" y1="455.2" x2="49.5" y2="455.2"/>
<line x1="45" y1="421.3" x2="49.5" y2="421.3"/>
<line x1="45" y1="387.4" x2="49.5" y2="387.4"/>
<line x1="45" y1="353.4" x2="49.5" y2="353.4"/>
<line x1="45" y1="319.5" x2="49.5" y2="319.5"/>
<line x1="45" y1="285.6" x2="49.5" y2="285.6"/>
<line x1="347" y1="489.1" x2="351.5" y2="489.1"/>
<line x1="347" y1="448.5" x2="351.5" y2="448.5"/>
<line x1="347" y1="407.9" x2="351.5" y2="407.9"/>
<line x1="347" y1="367.3" x2="351.5" y2="367.3"/>
<line x1="347" y1="326.7" x2="351.5" y2="326.7"/>
<line x1="347" y1="286.1" x2="351.5" y2="286.1"/>
<line x1="45" y1="711.7" x2="49.5" y2="711.7"/>
<line x1="45" y1="677.8" x2="49.5" y2="677.8"/>
<line x1="45" y1="643.9" x2="49.5" y2="643.9"/>
<line x1="45" y1="610.0" x2="49.5" y2="610.0"/>
<line x1="45" y1="576.0" x2="49.5" y2="576.0"/>
<line x1="45" y1="542.1" x2="49.5" y2="542.1"/>
<line x1="45" y1="508.2" x2="49.5" y2="508.2"/>
<line x1="347" y1="711.7" x2="351.5" y2="711.7"/>
<line x1="347" y1="671.1" x2="351.5" y2="671.1"/>
<line x1="347" y1="630.5" x2="351.5" y2="630.5"/>
<line x1="347" y1="589.9" x2="351.5" y2="589.9"/>
<line x1="347" y1="549.3" x2="351.5" y2="549.3"/>
<line x1="347" y1="508.7" x2="351.5" y2="508.7"/>
</g>
<g font-size="11.6" fill="#000">
<text x="41.6" y="270.5" text-anchor="end">0</text>
<text x="41.6" y="236.6" text-anchor="end">5</text>
<text x="41.6" y="202.7" text-anchor="end">10</text>
<text x="41.6" y="168.8" text-anchor="end">15</text>
<text x="41.6" y="134.8" text-anchor="end">20</text>
<text x="41.6" y="100.9" text-anchor="end">25</text>
<text x="41.6" y="67.0" text-anchor="end">30</text>
<text x="343.4" y="270.5" text-anchor="end">0</text>
<text x="343.4" y="229.9" text-anchor="end">20</text>
<text x="343.4" y="189.3" text-anchor="end">40</text>
<text x="343.4" y="148.7" text-anchor="end">60</text>
<text x="343.4" y="108.1" text-anchor="end">80</text>
<text x="343.4" y="67.5" text-anchor="end">100</text>
<text x="41.6" y="493.1" text-anchor="end">0</text>
<text x="41.6" y="459.2" text-anchor="end">5</text>
<text x="41.6" y="425.3" text-anchor="end">10</text>
<text x="41.6" y="391.4" text-anchor="end">15</text>
<text x="41.6" y="357.4" text-anchor="end">20</text>
<text x="41.6" y="323.5" text-anchor="end">25</text>
<text x="41.6" y="289.6" text-anchor="end">30</text>
<text x="343.4" y="493.1" text-anchor="end">0</text>
<text x="343.4" y="452.5" text-anchor="end">20</text>
<text x="343.4" y="411.9" text-anchor="end">40</text>
<text x="343.4" y="371.3" text-anchor="end">60</text>
<text x="343.4" y="330.7" text-anchor="end">80</text>
<text x="343.4" y="290.1" text-anchor="end">100</text>
<text x="41.6" y="715.7" text-anchor="end">0</text>
<text x="41.6" y="681.8" text-anchor="end">5</text>
<text x="41.6" y="647.9" text-anchor="end">10</text>
<text x="41.6" y="614.0" text-anchor="end">15</text>
<text x="41.6" y="580.0" text-anchor="end">20</text>
<text x="41.6" y="546.1" text-anchor="end">25</text>
<text x="41.6" y="512.2" text-anchor="end">30</text>
<text x="343.4" y="715.7" text-anchor="end">0</text>
<text x="343.4" y="675.1" text-anchor="end">20</text>
<text x="343.4" y="634.5" text-anchor="end">40</text>
<text x="343.4" y="593.9" text-anchor="end">60</text>
<text x="343.4" y="553.3" text-anchor="end">80</text>
<text x="343.4" y="512.7" text-anchor="end">100</text>
<text x="131.5" y="742" text-anchor="middle">20</text>
<text x="420.1" y="36.3" text-anchor="middle">20</text>
<text x="200.1" y="742" text-anchor="middle">40</text>
<text x="488.7" y="36.3" text-anchor="middle">40</text>
<text x="268.7" y="742" text-anchor="middle">60</text>
<text x="557.3" y="36.3" text-anchor="middle">60</text>
<text x="191.9" y="54.9" text-anchor="middle" font-style="italic" font-size="12">H</text>
<text x="481.3" y="54.9" text-anchor="middle" font-style="italic" font-size="12">G</text>
<text x="191.9" y="284.5" text-anchor="middle" font-style="italic" font-size="12">H</text>
<text x="481.3" y="284.5" text-anchor="middle" font-style="italic" font-size="12">G</text>
<text x="191.9" y="507.0" text-anchor="middle" font-style="italic" font-size="12">H</text>
<text x="481.3" y="507.0" text-anchor="middle" font-style="italic" font-size="12">G</text>
<text transform="translate(60.3,168.8) rotate(-90)" text-anchor="middle">Asturias</text>
<text transform="translate(355.3,168.8) rotate(-90)" text-anchor="middle">Asturias</text>
<text transform="translate(60.3,391.8) rotate(-90)" text-anchor="middle">Galicia (coast)</text>
<text transform="translate(355.3,391.8) rotate(-90)" text-anchor="middle">Galicia (coast)</text>
<text transform="translate(60.3,614.3) rotate(-90)" text-anchor="middle">Galicia (interior)</text>
<text transform="translate(355.3,614.3) rotate(-90)" text-anchor="middle">Galicia (interior)</text>
<text x="335.7" y="758.3" text-anchor="middle">Age (years)</text>
<text transform="translate(13.4,392) rotate(-90)" text-anchor="middle">Value (<tspan font-style="italic">H</tspan>, m; <tspan font-style="italic">G</tspan>, m<tspan font-size="8.5" dy="-4.2">2</tspan><tspan dy="4.2"> ha</tspan><tspan font-size="8.5" dy="-4.2">−1</tspan><tspan dy="4.2">)</tspan></text>
<text x="170.4" y="8.3">Observation</text>
<text x="170.4" y="18.3">Region−specific prediction</text>
<text x="359.5" y="8.3">Prediction Asturias</text>
<text x="359.5" y="18.3">Prediction Portugal</text>
</g>
<line x1="310.5" y1="4.3" x2="336" y2="4.3" stroke="#aaa" stroke-width="1"/>
<line x1="310.5" y1="14.2" x2="336" y2="14.2" stroke="#000" stroke-width="1.7"/>
<line x1="462.8" y1="4.3" x2="488" y2="4.3" stroke="#000" stroke-width="1.6" stroke-dasharray="4.4 4.4"/>
<line x1="462.8" y1="14.3" x2="488" y2="14.3" stroke="#000" stroke-width="1.4" stroke-dasharray="1.2 3.1"/>
</svg></body></html>
